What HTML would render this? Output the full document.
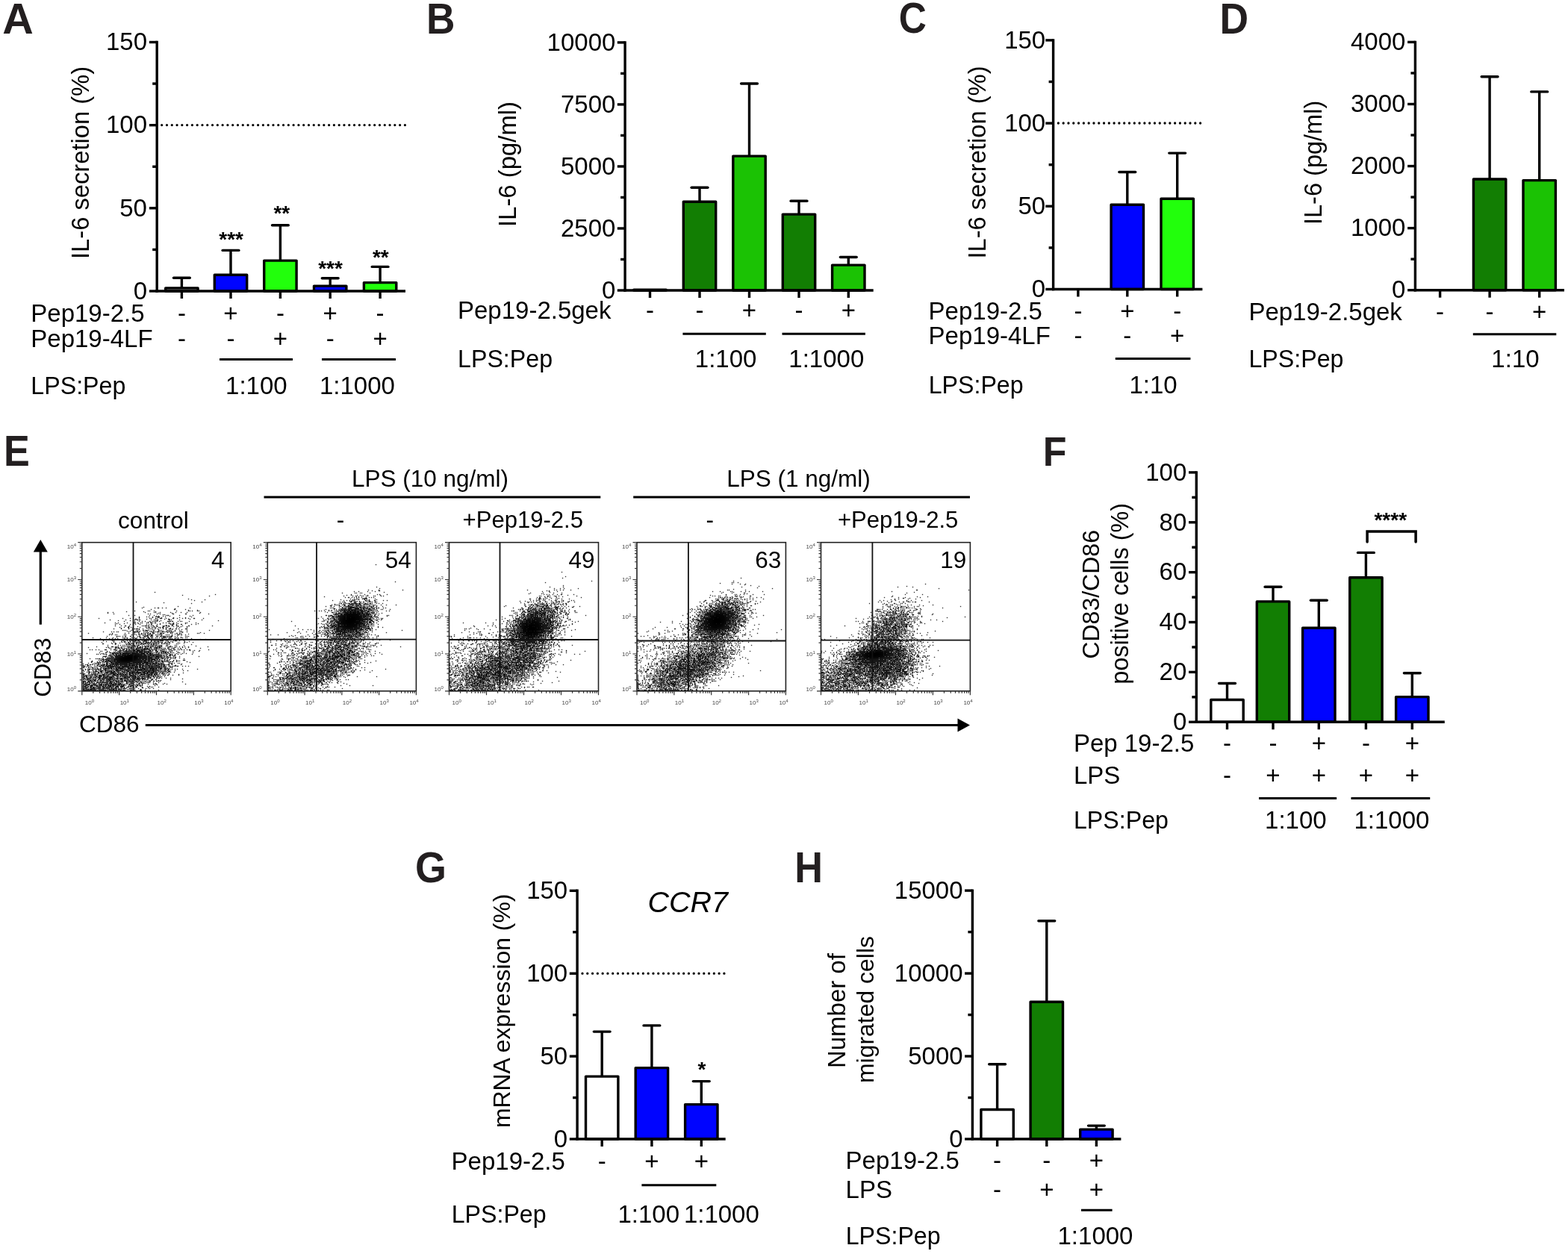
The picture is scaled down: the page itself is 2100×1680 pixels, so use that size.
<!DOCTYPE html>
<html><head><meta charset="utf-8"><title>Figure</title>
<style>html,body{margin:0;padding:0;background:#fff;}svg{display:block;}
.sc{fill:none;stroke:none;marker-start:url(#d);marker-mid:url(#d);marker-end:url(#d);}
text{font-family:"Liberation Sans",Arial,Helvetica,sans-serif;fill:#000;}</style></head>
<body><svg width="2100" height="1680" viewBox="0 0 2100 1680">
<defs><marker id="d" markerUnits="userSpaceOnUse" markerWidth="2" markerHeight="2" refX="0.15" refY="0.15" overflow="visible"><rect width="1.35" height="1.35" fill="#000" fill-opacity="0.8"/></marker></defs>
<rect width="2100" height="1680" fill="#fff"/>
<text transform="translate(3.37,44.60) scale(1.0176,1)" style="font-size:56.54px;font-weight:bold;fill:#231f20">A</text>
<text transform="translate(571.04,44.60) scale(0.9425,1)" style="font-size:56.54px;font-weight:bold;fill:#231f20">B</text>
<text transform="translate(1203.79,44.25) scale(0.9051,1)" style="font-size:56.78px;font-weight:bold;fill:#231f20">C</text>
<text transform="translate(1633.42,44.60) scale(0.9411,1)" style="font-size:56.83px;font-weight:bold;fill:#231f20">D</text>
<text transform="translate(5.11,623.60) scale(0.9213,1)" style="font-size:56.69px;font-weight:bold;fill:#231f20">E</text>
<text transform="translate(1396.72,623.60) scale(0.9227,1)" style="font-size:56.40px;font-weight:bold;fill:#231f20">F</text>
<text transform="translate(555.99,1182.34) scale(0.9361,1)" style="font-size:57.63px;font-weight:bold;fill:#231f20">G</text>
<text transform="translate(1064.21,1182.10) scale(0.9189,1)" style="font-size:56.83px;font-weight:bold;fill:#231f20">H</text>
<line x1="216.70" y1="167.60" x2="542.45" y2="167.60" stroke="#000" stroke-width="3.3" stroke-linecap="round" stroke-dasharray="0 6.7854"/>
<line x1="210.20" y1="54.80" x2="210.20" y2="391.70" stroke="#000" stroke-width="3.4" stroke-linecap="butt"/>
<line x1="199.90" y1="56.50" x2="210.20" y2="56.50" stroke="#000" stroke-width="3.4" stroke-linecap="butt"/>
<text x="141.93" y="67.26" style="font-size:33px">150</text>
<line x1="199.90" y1="167.67" x2="210.20" y2="167.67" stroke="#000" stroke-width="3.4" stroke-linecap="butt"/>
<text x="141.93" y="178.43" style="font-size:33px">100</text>
<line x1="199.90" y1="278.83" x2="210.20" y2="278.83" stroke="#000" stroke-width="3.4" stroke-linecap="butt"/>
<text x="160.28" y="289.59" style="font-size:33px">50</text>
<line x1="199.90" y1="390.00" x2="210.20" y2="390.00" stroke="#000" stroke-width="3.4" stroke-linecap="butt"/>
<text x="178.64" y="400.76" style="font-size:33px">0</text>
<line x1="204.20" y1="112.08" x2="210.20" y2="112.08" stroke="#000" stroke-width="3.4" stroke-linecap="butt"/>
<line x1="204.20" y1="223.25" x2="210.20" y2="223.25" stroke="#000" stroke-width="3.4" stroke-linecap="butt"/>
<line x1="204.20" y1="334.42" x2="210.20" y2="334.42" stroke="#000" stroke-width="3.4" stroke-linecap="butt"/>
<rect x="221.70" y="386.00" width="43.40" height="4.00" fill="#fff" stroke="#000" stroke-width="3.4" stroke-linejoin="round"/>
<rect x="287.30" y="368.30" width="43.40" height="21.70" fill="#0004ff" stroke="#000" stroke-width="3.4" stroke-linejoin="round"/>
<rect x="353.70" y="349.10" width="43.40" height="40.90" fill="#22ff0c" stroke="#000" stroke-width="3.4" stroke-linejoin="round"/>
<rect x="420.50" y="383.10" width="43.40" height="6.90" fill="#0004ff" stroke="#000" stroke-width="3.4" stroke-linejoin="round"/>
<rect x="487.40" y="378.60" width="43.40" height="11.40" fill="#22ff0c" stroke="#000" stroke-width="3.4" stroke-linejoin="round"/>
<line x1="243.40" y1="385.30" x2="243.40" y2="372.30" stroke="#000" stroke-width="3.4" stroke-linecap="butt"/>
<line x1="232.50" y1="372.30" x2="254.30" y2="372.30" stroke="#000" stroke-width="3.4" stroke-linecap="round"/>
<line x1="309.00" y1="367.60" x2="309.00" y2="335.40" stroke="#000" stroke-width="3.4" stroke-linecap="butt"/>
<line x1="298.10" y1="335.40" x2="319.90" y2="335.40" stroke="#000" stroke-width="3.4" stroke-linecap="round"/>
<line x1="375.40" y1="348.40" x2="375.40" y2="301.70" stroke="#000" stroke-width="3.4" stroke-linecap="butt"/>
<line x1="364.50" y1="301.70" x2="386.30" y2="301.70" stroke="#000" stroke-width="3.4" stroke-linecap="round"/>
<line x1="442.20" y1="382.40" x2="442.20" y2="372.80" stroke="#000" stroke-width="3.4" stroke-linecap="butt"/>
<line x1="431.30" y1="372.80" x2="453.10" y2="372.80" stroke="#000" stroke-width="3.4" stroke-linecap="round"/>
<line x1="509.10" y1="377.90" x2="509.10" y2="357.40" stroke="#000" stroke-width="3.4" stroke-linecap="butt"/>
<line x1="498.20" y1="357.40" x2="520.00" y2="357.40" stroke="#000" stroke-width="3.4" stroke-linecap="round"/>
<line x1="208.50" y1="390.00" x2="543.00" y2="390.00" stroke="#000" stroke-width="3.4" stroke-linecap="butt"/>
<line x1="243.40" y1="390.00" x2="243.40" y2="400.00" stroke="#000" stroke-width="3.4" stroke-linecap="butt"/>
<line x1="309.00" y1="390.00" x2="309.00" y2="400.00" stroke="#000" stroke-width="3.4" stroke-linecap="butt"/>
<line x1="375.40" y1="390.00" x2="375.40" y2="400.00" stroke="#000" stroke-width="3.4" stroke-linecap="butt"/>
<line x1="442.20" y1="390.00" x2="442.20" y2="400.00" stroke="#000" stroke-width="3.4" stroke-linecap="butt"/>
<line x1="509.10" y1="390.00" x2="509.10" y2="400.00" stroke="#000" stroke-width="3.4" stroke-linecap="butt"/>
<text x="293.33" y="329.75" style="font-size:28px;font-weight:bold">***</text>
<text x="366.48" y="295.45" style="font-size:28px;font-weight:bold">**</text>
<text x="426.23" y="369.15" style="font-size:28px;font-weight:bold">***</text>
<text x="498.98" y="353.75" style="font-size:28px;font-weight:bold">**</text>
<text transform="translate(119.10,347.02) rotate(-90)" style="font-size:32.71164962766629px">IL-6 secretion (%)</text>
<text x="41.29" y="430.90" style="font-size:33px">Pep19-2.5</text>
<text x="41.29" y="464.80" style="font-size:33px">Pep19-4LF</text>
<text x="237.91" y="430.90" style="font-size:33px">-</text>
<text x="299.37" y="430.90" style="font-size:33px">+</text>
<text x="369.91" y="430.90" style="font-size:33px">-</text>
<text x="432.57" y="430.90" style="font-size:33px">+</text>
<text x="503.61" y="430.90" style="font-size:33px">-</text>
<text x="237.91" y="464.80" style="font-size:33px">-</text>
<text x="303.51" y="464.80" style="font-size:33px">-</text>
<text x="365.77" y="464.80" style="font-size:33px">+</text>
<text x="436.71" y="464.80" style="font-size:33px">-</text>
<text x="499.47" y="464.80" style="font-size:33px">+</text>
<line x1="294.00" y1="481.50" x2="392.00" y2="481.50" stroke="#000" stroke-width="3" stroke-linecap="butt"/>
<line x1="431.00" y1="481.50" x2="530.00" y2="481.50" stroke="#000" stroke-width="3" stroke-linecap="butt"/>
<text transform="translate(41.36,528.00) scale(0.975,1)" style="font-size:33px">LPS:Pep</text>
<text x="302.10" y="528.00" style="font-size:33px">1:100</text>
<text x="427.92" y="528.00" style="font-size:33px">1:1000</text>
<line x1="837.10" y1="55.20" x2="837.10" y2="390.70" stroke="#000" stroke-width="3.4" stroke-linecap="butt"/>
<line x1="826.80" y1="56.90" x2="837.10" y2="56.90" stroke="#000" stroke-width="3.4" stroke-linecap="butt"/>
<text x="732.62" y="67.66" style="font-size:33px">10000</text>
<line x1="826.80" y1="139.93" x2="837.10" y2="139.93" stroke="#000" stroke-width="3.4" stroke-linecap="butt"/>
<text x="750.98" y="150.68" style="font-size:33px">7500</text>
<line x1="826.80" y1="222.95" x2="837.10" y2="222.95" stroke="#000" stroke-width="3.4" stroke-linecap="butt"/>
<text x="750.98" y="233.71" style="font-size:33px">5000</text>
<line x1="826.80" y1="305.98" x2="837.10" y2="305.98" stroke="#000" stroke-width="3.4" stroke-linecap="butt"/>
<text x="750.98" y="316.73" style="font-size:33px">2500</text>
<line x1="826.80" y1="389.00" x2="837.10" y2="389.00" stroke="#000" stroke-width="3.4" stroke-linecap="butt"/>
<text x="806.04" y="399.76" style="font-size:33px">0</text>
<line x1="831.10" y1="98.41" x2="837.10" y2="98.41" stroke="#000" stroke-width="3.4" stroke-linecap="butt"/>
<line x1="831.10" y1="181.44" x2="837.10" y2="181.44" stroke="#000" stroke-width="3.4" stroke-linecap="butt"/>
<line x1="831.10" y1="264.46" x2="837.10" y2="264.46" stroke="#000" stroke-width="3.4" stroke-linecap="butt"/>
<line x1="831.10" y1="347.49" x2="837.10" y2="347.49" stroke="#000" stroke-width="3.4" stroke-linecap="butt"/>
<rect x="848.80" y="388.20" width="43.40" height="0.80" fill="#fff" stroke="#000" stroke-width="3.4" stroke-linejoin="round"/>
<rect x="915.30" y="270.30" width="43.40" height="118.70" fill="#127e03" stroke="#000" stroke-width="3.4" stroke-linejoin="round"/>
<rect x="981.80" y="209.10" width="43.40" height="179.90" fill="#1bc204" stroke="#000" stroke-width="3.4" stroke-linejoin="round"/>
<rect x="1048.30" y="287.10" width="43.40" height="101.90" fill="#127e03" stroke="#000" stroke-width="3.4" stroke-linejoin="round"/>
<rect x="1114.60" y="355.10" width="43.40" height="33.90" fill="#1bc204" stroke="#000" stroke-width="3.4" stroke-linejoin="round"/>
<line x1="937.00" y1="269.60" x2="937.00" y2="251.30" stroke="#000" stroke-width="3.4" stroke-linecap="butt"/>
<line x1="926.10" y1="251.30" x2="947.90" y2="251.30" stroke="#000" stroke-width="3.4" stroke-linecap="round"/>
<line x1="1003.50" y1="208.40" x2="1003.50" y2="112.00" stroke="#000" stroke-width="3.4" stroke-linecap="butt"/>
<line x1="992.60" y1="112.00" x2="1014.40" y2="112.00" stroke="#000" stroke-width="3.4" stroke-linecap="round"/>
<line x1="1070.00" y1="286.40" x2="1070.00" y2="269.30" stroke="#000" stroke-width="3.4" stroke-linecap="butt"/>
<line x1="1059.10" y1="269.30" x2="1080.90" y2="269.30" stroke="#000" stroke-width="3.4" stroke-linecap="round"/>
<line x1="1136.30" y1="354.40" x2="1136.30" y2="344.50" stroke="#000" stroke-width="3.4" stroke-linecap="butt"/>
<line x1="1125.40" y1="344.50" x2="1147.20" y2="344.50" stroke="#000" stroke-width="3.4" stroke-linecap="round"/>
<line x1="835.40" y1="389.00" x2="1169.70" y2="389.00" stroke="#000" stroke-width="3.4" stroke-linecap="butt"/>
<line x1="870.50" y1="389.00" x2="870.50" y2="399.00" stroke="#000" stroke-width="3.4" stroke-linecap="butt"/>
<line x1="937.00" y1="389.00" x2="937.00" y2="399.00" stroke="#000" stroke-width="3.4" stroke-linecap="butt"/>
<line x1="1003.50" y1="389.00" x2="1003.50" y2="399.00" stroke="#000" stroke-width="3.4" stroke-linecap="butt"/>
<line x1="1070.00" y1="389.00" x2="1070.00" y2="399.00" stroke="#000" stroke-width="3.4" stroke-linecap="butt"/>
<line x1="1136.30" y1="389.00" x2="1136.30" y2="399.00" stroke="#000" stroke-width="3.4" stroke-linecap="butt"/>
<text transform="translate(690.70,304.04) rotate(-90)" style="font-size:32.89627732913138px">IL-6 (pg/ml)</text>
<text x="612.99" y="427.00" style="font-size:33px">Pep19-2.5gek</text>
<text x="865.01" y="427.00" style="font-size:33px">-</text>
<text x="931.51" y="427.00" style="font-size:33px">-</text>
<text x="993.87" y="427.00" style="font-size:33px">+</text>
<text x="1064.51" y="427.00" style="font-size:33px">-</text>
<text x="1126.67" y="427.00" style="font-size:33px">+</text>
<line x1="914.40" y1="447.20" x2="1025.80" y2="447.20" stroke="#000" stroke-width="3" stroke-linecap="butt"/>
<line x1="1047.50" y1="447.20" x2="1158.90" y2="447.20" stroke="#000" stroke-width="3" stroke-linecap="butt"/>
<text transform="translate(613.06,492.00) scale(0.975,1)" style="font-size:33px">LPS:Pep</text>
<text x="930.80" y="492.00" style="font-size:33px">1:100</text>
<text x="1056.32" y="492.00" style="font-size:33px">1:1000</text>
<line x1="1417.40" y1="165.00" x2="1607.65" y2="165.00" stroke="#000" stroke-width="3.3" stroke-linecap="round" stroke-dasharray="0 6.7929"/>
<line x1="1410.60" y1="52.20" x2="1410.60" y2="389.20" stroke="#000" stroke-width="3.4" stroke-linecap="butt"/>
<line x1="1400.30" y1="53.90" x2="1410.60" y2="53.90" stroke="#000" stroke-width="3.4" stroke-linecap="butt"/>
<text x="1345.13" y="64.66" style="font-size:33px">150</text>
<line x1="1400.30" y1="165.10" x2="1410.60" y2="165.10" stroke="#000" stroke-width="3.4" stroke-linecap="butt"/>
<text x="1345.13" y="175.86" style="font-size:33px">100</text>
<line x1="1400.30" y1="276.30" x2="1410.60" y2="276.30" stroke="#000" stroke-width="3.4" stroke-linecap="butt"/>
<text x="1363.48" y="287.06" style="font-size:33px">50</text>
<line x1="1400.30" y1="387.50" x2="1410.60" y2="387.50" stroke="#000" stroke-width="3.4" stroke-linecap="butt"/>
<text x="1381.84" y="398.26" style="font-size:33px">0</text>
<line x1="1404.60" y1="109.50" x2="1410.60" y2="109.50" stroke="#000" stroke-width="3.4" stroke-linecap="butt"/>
<line x1="1404.60" y1="220.70" x2="1410.60" y2="220.70" stroke="#000" stroke-width="3.4" stroke-linecap="butt"/>
<line x1="1404.60" y1="331.90" x2="1410.60" y2="331.90" stroke="#000" stroke-width="3.4" stroke-linecap="butt"/>
<rect x="1422.20" y="388.00" width="43.40" height="-0.50" fill="#fff" stroke="#000" stroke-width="3.4" stroke-linejoin="round"/>
<rect x="1488.10" y="274.30" width="43.40" height="113.20" fill="#0004ff" stroke="#000" stroke-width="3.4" stroke-linejoin="round"/>
<rect x="1555.00" y="266.20" width="43.40" height="121.30" fill="#22ff0c" stroke="#000" stroke-width="3.4" stroke-linejoin="round"/>
<line x1="1509.80" y1="273.60" x2="1509.80" y2="230.50" stroke="#000" stroke-width="3.4" stroke-linecap="butt"/>
<line x1="1498.90" y1="230.50" x2="1520.70" y2="230.50" stroke="#000" stroke-width="3.4" stroke-linecap="round"/>
<line x1="1576.70" y1="265.50" x2="1576.70" y2="205.10" stroke="#000" stroke-width="3.4" stroke-linecap="butt"/>
<line x1="1565.80" y1="205.10" x2="1587.60" y2="205.10" stroke="#000" stroke-width="3.4" stroke-linecap="round"/>
<line x1="1408.90" y1="387.50" x2="1610.40" y2="387.50" stroke="#000" stroke-width="3.4" stroke-linecap="butt"/>
<line x1="1443.90" y1="387.50" x2="1443.90" y2="397.50" stroke="#000" stroke-width="3.4" stroke-linecap="butt"/>
<line x1="1509.80" y1="387.50" x2="1509.80" y2="397.50" stroke="#000" stroke-width="3.4" stroke-linecap="butt"/>
<line x1="1576.70" y1="387.50" x2="1576.70" y2="397.50" stroke="#000" stroke-width="3.4" stroke-linecap="butt"/>
<text transform="translate(1319.60,346.62) rotate(-90)" style="font-size:32.72457402499053px">IL-6 secretion (%)</text>
<text x="1243.59" y="427.50" style="font-size:33px">Pep19-2.5</text>
<text x="1243.59" y="461.30" style="font-size:33px">Pep19-4LF</text>
<text x="1438.41" y="427.50" style="font-size:33px">-</text>
<text x="1500.17" y="427.50" style="font-size:33px">+</text>
<text x="1571.21" y="427.50" style="font-size:33px">-</text>
<text x="1438.41" y="461.30" style="font-size:33px">-</text>
<text x="1504.31" y="461.30" style="font-size:33px">-</text>
<text x="1567.07" y="461.30" style="font-size:33px">+</text>
<line x1="1493.80" y1="480.50" x2="1594.40" y2="480.50" stroke="#000" stroke-width="3" stroke-linecap="butt"/>
<text transform="translate(1243.66,527.20) scale(0.975,1)" style="font-size:33px">LPS:Pep</text>
<text x="1512.47" y="527.20" style="font-size:33px">1:10</text>
<line x1="1895.40" y1="54.70" x2="1895.40" y2="390.40" stroke="#000" stroke-width="3.4" stroke-linecap="butt"/>
<line x1="1885.10" y1="56.40" x2="1895.40" y2="56.40" stroke="#000" stroke-width="3.4" stroke-linecap="butt"/>
<text x="1808.98" y="67.16" style="font-size:33px">4000</text>
<line x1="1885.10" y1="139.47" x2="1895.40" y2="139.47" stroke="#000" stroke-width="3.4" stroke-linecap="butt"/>
<text x="1808.98" y="150.23" style="font-size:33px">3000</text>
<line x1="1885.10" y1="222.55" x2="1895.40" y2="222.55" stroke="#000" stroke-width="3.4" stroke-linecap="butt"/>
<text x="1808.98" y="233.31" style="font-size:33px">2000</text>
<line x1="1885.10" y1="305.62" x2="1895.40" y2="305.62" stroke="#000" stroke-width="3.4" stroke-linecap="butt"/>
<text x="1808.98" y="316.38" style="font-size:33px">1000</text>
<line x1="1885.10" y1="388.70" x2="1895.40" y2="388.70" stroke="#000" stroke-width="3.4" stroke-linecap="butt"/>
<text x="1864.04" y="399.46" style="font-size:33px">0</text>
<line x1="1889.40" y1="97.94" x2="1895.40" y2="97.94" stroke="#000" stroke-width="3.4" stroke-linecap="butt"/>
<line x1="1889.40" y1="181.01" x2="1895.40" y2="181.01" stroke="#000" stroke-width="3.4" stroke-linecap="butt"/>
<line x1="1889.40" y1="264.09" x2="1895.40" y2="264.09" stroke="#000" stroke-width="3.4" stroke-linecap="butt"/>
<line x1="1889.40" y1="347.16" x2="1895.40" y2="347.16" stroke="#000" stroke-width="3.4" stroke-linecap="butt"/>
<rect x="1973.40" y="240.00" width="43.40" height="148.70" fill="#127e03" stroke="#000" stroke-width="3.4" stroke-linejoin="round"/>
<rect x="2040.00" y="241.60" width="43.40" height="147.10" fill="#1bc204" stroke="#000" stroke-width="3.4" stroke-linejoin="round"/>
<line x1="1995.10" y1="239.30" x2="1995.10" y2="102.80" stroke="#000" stroke-width="3.4" stroke-linecap="butt"/>
<line x1="1984.20" y1="102.80" x2="2006.00" y2="102.80" stroke="#000" stroke-width="3.4" stroke-linecap="round"/>
<line x1="2061.70" y1="240.90" x2="2061.70" y2="122.90" stroke="#000" stroke-width="3.4" stroke-linecap="butt"/>
<line x1="2050.80" y1="122.90" x2="2072.60" y2="122.90" stroke="#000" stroke-width="3.4" stroke-linecap="round"/>
<line x1="1893.70" y1="388.70" x2="2095.00" y2="388.70" stroke="#000" stroke-width="3.4" stroke-linecap="butt"/>
<line x1="1928.60" y1="388.70" x2="1928.60" y2="398.70" stroke="#000" stroke-width="3.4" stroke-linecap="butt"/>
<line x1="1995.10" y1="388.70" x2="1995.10" y2="398.70" stroke="#000" stroke-width="3.4" stroke-linecap="butt"/>
<line x1="2061.70" y1="388.70" x2="2061.70" y2="398.70" stroke="#000" stroke-width="3.4" stroke-linecap="butt"/>
<text transform="translate(1770.10,301.00) rotate(-90)" style="font-size:32.533228284419934px">IL-6 (pg/ml)</text>
<text x="1672.39" y="428.70" style="font-size:33px">Pep19-2.5gek</text>
<text x="1923.11" y="428.70" style="font-size:33px">-</text>
<text x="1989.61" y="428.70" style="font-size:33px">-</text>
<text x="2052.07" y="428.70" style="font-size:33px">+</text>
<line x1="1972.80" y1="447.80" x2="2084.30" y2="447.80" stroke="#000" stroke-width="3" stroke-linecap="butt"/>
<text transform="translate(1672.46,492.10) scale(0.975,1)" style="font-size:33px">LPS:Pep</text>
<text x="1997.37" y="492.10" style="font-size:33px">1:10</text>
<line x1="1602.30" y1="631.20" x2="1602.30" y2="969.00" stroke="#000" stroke-width="3.4" stroke-linecap="butt"/>
<line x1="1592.00" y1="632.90" x2="1602.30" y2="632.90" stroke="#000" stroke-width="3.4" stroke-linecap="butt"/>
<text x="1534.23" y="643.66" style="font-size:33px">100</text>
<line x1="1592.00" y1="699.78" x2="1602.30" y2="699.78" stroke="#000" stroke-width="3.4" stroke-linecap="butt"/>
<text x="1552.58" y="710.54" style="font-size:33px">80</text>
<line x1="1592.00" y1="766.66" x2="1602.30" y2="766.66" stroke="#000" stroke-width="3.4" stroke-linecap="butt"/>
<text x="1552.58" y="777.42" style="font-size:33px">60</text>
<line x1="1592.00" y1="833.54" x2="1602.30" y2="833.54" stroke="#000" stroke-width="3.4" stroke-linecap="butt"/>
<text x="1552.58" y="844.30" style="font-size:33px">40</text>
<line x1="1592.00" y1="900.42" x2="1602.30" y2="900.42" stroke="#000" stroke-width="3.4" stroke-linecap="butt"/>
<text x="1552.58" y="911.18" style="font-size:33px">20</text>
<line x1="1592.00" y1="967.30" x2="1602.30" y2="967.30" stroke="#000" stroke-width="3.4" stroke-linecap="butt"/>
<text x="1570.94" y="978.06" style="font-size:33px">0</text>
<line x1="1596.30" y1="666.34" x2="1602.30" y2="666.34" stroke="#000" stroke-width="3.4" stroke-linecap="butt"/>
<line x1="1596.30" y1="733.22" x2="1602.30" y2="733.22" stroke="#000" stroke-width="3.4" stroke-linecap="butt"/>
<line x1="1596.30" y1="800.10" x2="1602.30" y2="800.10" stroke="#000" stroke-width="3.4" stroke-linecap="butt"/>
<line x1="1596.30" y1="866.98" x2="1602.30" y2="866.98" stroke="#000" stroke-width="3.4" stroke-linecap="butt"/>
<line x1="1596.30" y1="933.86" x2="1602.30" y2="933.86" stroke="#000" stroke-width="3.4" stroke-linecap="butt"/>
<rect x="1621.80" y="937.50" width="43.40" height="29.80" fill="#fff" stroke="#000" stroke-width="3.4" stroke-linejoin="round"/>
<rect x="1683.30" y="805.90" width="43.40" height="161.40" fill="#127e03" stroke="#000" stroke-width="3.4" stroke-linejoin="round"/>
<rect x="1744.60" y="841.30" width="43.40" height="126.00" fill="#0004ff" stroke="#000" stroke-width="3.4" stroke-linejoin="round"/>
<rect x="1807.70" y="773.80" width="43.40" height="193.50" fill="#127e03" stroke="#000" stroke-width="3.4" stroke-linejoin="round"/>
<rect x="1869.60" y="933.60" width="43.40" height="33.70" fill="#0004ff" stroke="#000" stroke-width="3.4" stroke-linejoin="round"/>
<line x1="1643.50" y1="936.80" x2="1643.50" y2="915.50" stroke="#000" stroke-width="3.4" stroke-linecap="butt"/>
<line x1="1632.60" y1="915.50" x2="1654.40" y2="915.50" stroke="#000" stroke-width="3.4" stroke-linecap="round"/>
<line x1="1705.00" y1="805.20" x2="1705.00" y2="786.20" stroke="#000" stroke-width="3.4" stroke-linecap="butt"/>
<line x1="1694.10" y1="786.20" x2="1715.90" y2="786.20" stroke="#000" stroke-width="3.4" stroke-linecap="round"/>
<line x1="1766.30" y1="840.60" x2="1766.30" y2="804.20" stroke="#000" stroke-width="3.4" stroke-linecap="butt"/>
<line x1="1755.40" y1="804.20" x2="1777.20" y2="804.20" stroke="#000" stroke-width="3.4" stroke-linecap="round"/>
<line x1="1829.40" y1="773.10" x2="1829.40" y2="740.40" stroke="#000" stroke-width="3.4" stroke-linecap="butt"/>
<line x1="1818.50" y1="740.40" x2="1840.30" y2="740.40" stroke="#000" stroke-width="3.4" stroke-linecap="round"/>
<line x1="1891.30" y1="932.90" x2="1891.30" y2="901.80" stroke="#000" stroke-width="3.4" stroke-linecap="butt"/>
<line x1="1880.40" y1="901.80" x2="1902.20" y2="901.80" stroke="#000" stroke-width="3.4" stroke-linecap="round"/>
<line x1="1600.60" y1="967.30" x2="1934.80" y2="967.30" stroke="#000" stroke-width="3.4" stroke-linecap="butt"/>
<line x1="1643.50" y1="967.30" x2="1643.50" y2="977.30" stroke="#000" stroke-width="3.4" stroke-linecap="butt"/>
<line x1="1705.00" y1="967.30" x2="1705.00" y2="977.30" stroke="#000" stroke-width="3.4" stroke-linecap="butt"/>
<line x1="1766.30" y1="967.30" x2="1766.30" y2="977.30" stroke="#000" stroke-width="3.4" stroke-linecap="butt"/>
<line x1="1829.40" y1="967.30" x2="1829.40" y2="977.30" stroke="#000" stroke-width="3.4" stroke-linecap="butt"/>
<line x1="1891.30" y1="967.30" x2="1891.30" y2="977.30" stroke="#000" stroke-width="3.4" stroke-linecap="butt"/>
<path d="M1831.1 726V712.1H1896.1V726" fill="none" stroke="#000" stroke-width="3.5" stroke-linecap="round"/>
<text x="1840.48" y="706.15" style="font-size:28px;font-weight:bold">****</text>
<text transform="translate(1471.80,882.63) rotate(-90)" style="font-size:32.02183092099199px">CD83/CD86</text>
<text transform="translate(1510.50,916.79) rotate(-90)" style="font-size:32.36395895398875px">positive cells (%)</text>
<text x="1437.89" y="1007.20" style="font-size:33px">Pep 19-2.5</text>
<text x="1437.89" y="1049.70" style="font-size:33px">LPS</text>
<text x="1638.01" y="1007.20" style="font-size:33px">-</text>
<text x="1699.51" y="1007.20" style="font-size:33px">-</text>
<text x="1756.67" y="1007.20" style="font-size:33px">+</text>
<text x="1823.91" y="1007.20" style="font-size:33px">-</text>
<text x="1881.67" y="1007.20" style="font-size:33px">+</text>
<text x="1638.01" y="1049.70" style="font-size:33px">-</text>
<text x="1695.37" y="1049.70" style="font-size:33px">+</text>
<text x="1756.67" y="1049.70" style="font-size:33px">+</text>
<text x="1819.77" y="1049.70" style="font-size:33px">+</text>
<text x="1881.67" y="1049.70" style="font-size:33px">+</text>
<line x1="1686.00" y1="1069.40" x2="1790.10" y2="1069.40" stroke="#000" stroke-width="3" stroke-linecap="butt"/>
<line x1="1809.50" y1="1069.40" x2="1915.20" y2="1069.40" stroke="#000" stroke-width="3" stroke-linecap="butt"/>
<text transform="translate(1437.96,1110.30) scale(0.975,1)" style="font-size:33px">LPS:Pep</text>
<text x="1694.10" y="1110.30" style="font-size:33px">1:100</text>
<text x="1813.42" y="1110.30" style="font-size:33px">1:1000</text>
<line x1="780.00" y1="1304.20" x2="969.95" y2="1304.20" stroke="#000" stroke-width="3.3" stroke-linecap="round" stroke-dasharray="0 6.7821"/>
<line x1="773.10" y1="1191.60" x2="773.10" y2="1527.70" stroke="#000" stroke-width="3.4" stroke-linecap="butt"/>
<line x1="762.80" y1="1193.30" x2="773.10" y2="1193.30" stroke="#000" stroke-width="3.4" stroke-linecap="butt"/>
<text x="705.13" y="1204.06" style="font-size:33px">150</text>
<line x1="762.80" y1="1304.20" x2="773.10" y2="1304.20" stroke="#000" stroke-width="3.4" stroke-linecap="butt"/>
<text x="705.13" y="1314.96" style="font-size:33px">100</text>
<line x1="762.80" y1="1415.10" x2="773.10" y2="1415.10" stroke="#000" stroke-width="3.4" stroke-linecap="butt"/>
<text x="723.48" y="1425.86" style="font-size:33px">50</text>
<line x1="762.80" y1="1526.00" x2="773.10" y2="1526.00" stroke="#000" stroke-width="3.4" stroke-linecap="butt"/>
<text x="741.84" y="1536.76" style="font-size:33px">0</text>
<line x1="767.10" y1="1248.75" x2="773.10" y2="1248.75" stroke="#000" stroke-width="3.4" stroke-linecap="butt"/>
<line x1="767.10" y1="1359.65" x2="773.10" y2="1359.65" stroke="#000" stroke-width="3.4" stroke-linecap="butt"/>
<line x1="767.10" y1="1470.55" x2="773.10" y2="1470.55" stroke="#000" stroke-width="3.4" stroke-linecap="butt"/>
<rect x="784.50" y="1442.10" width="43.40" height="83.90" fill="#fff" stroke="#000" stroke-width="3.4" stroke-linejoin="round"/>
<rect x="851.20" y="1430.60" width="43.40" height="95.40" fill="#0004ff" stroke="#000" stroke-width="3.4" stroke-linejoin="round"/>
<rect x="917.60" y="1479.60" width="43.40" height="46.40" fill="#0004ff" stroke="#000" stroke-width="3.4" stroke-linejoin="round"/>
<line x1="806.20" y1="1441.40" x2="806.20" y2="1382.10" stroke="#000" stroke-width="3.4" stroke-linecap="butt"/>
<line x1="795.30" y1="1382.10" x2="817.10" y2="1382.10" stroke="#000" stroke-width="3.4" stroke-linecap="round"/>
<line x1="872.90" y1="1429.90" x2="872.90" y2="1373.90" stroke="#000" stroke-width="3.4" stroke-linecap="butt"/>
<line x1="862.00" y1="1373.90" x2="883.80" y2="1373.90" stroke="#000" stroke-width="3.4" stroke-linecap="round"/>
<line x1="939.30" y1="1478.90" x2="939.30" y2="1448.60" stroke="#000" stroke-width="3.4" stroke-linecap="butt"/>
<line x1="928.40" y1="1448.60" x2="950.20" y2="1448.60" stroke="#000" stroke-width="3.4" stroke-linecap="round"/>
<line x1="771.40" y1="1526.00" x2="971.70" y2="1526.00" stroke="#000" stroke-width="3.4" stroke-linecap="butt"/>
<line x1="806.20" y1="1526.00" x2="806.20" y2="1536.00" stroke="#000" stroke-width="3.4" stroke-linecap="butt"/>
<line x1="872.90" y1="1526.00" x2="872.90" y2="1536.00" stroke="#000" stroke-width="3.4" stroke-linecap="butt"/>
<line x1="939.30" y1="1526.00" x2="939.30" y2="1536.00" stroke="#000" stroke-width="3.4" stroke-linecap="butt"/>
<text x="934.62" y="1441.75" style="font-size:28px;font-weight:bold">*</text>
<text x="867.54" y="1222.31" style="font-size:39.5px;font-style:italic">CCR7</text>
<text transform="translate(682.70,1511.12) rotate(-90)" style="font-size:31.886686005801735px">mRNA expression (%)</text>
<text x="604.59" y="1567.10" style="font-size:33px">Pep19-2.5</text>
<text x="800.71" y="1567.10" style="font-size:33px">-</text>
<text x="863.27" y="1567.10" style="font-size:33px">+</text>
<text x="929.67" y="1567.10" style="font-size:33px">+</text>
<line x1="859.40" y1="1587.80" x2="959.30" y2="1587.80" stroke="#000" stroke-width="3" stroke-linecap="butt"/>
<text transform="translate(604.66,1637.50) scale(0.975,1)" style="font-size:33px">LPS:Pep</text>
<text x="827.49" y="1637.50" style="font-size:33px">1:100</text>
<text x="915.89" y="1637.50" style="font-size:33px">1:1000</text>
<line x1="1302.40" y1="1191.40" x2="1302.40" y2="1527.70" stroke="#000" stroke-width="3.4" stroke-linecap="butt"/>
<line x1="1292.10" y1="1193.10" x2="1302.40" y2="1193.10" stroke="#000" stroke-width="3.4" stroke-linecap="butt"/>
<text x="1197.82" y="1203.86" style="font-size:33px">15000</text>
<line x1="1292.10" y1="1304.07" x2="1302.40" y2="1304.07" stroke="#000" stroke-width="3.4" stroke-linecap="butt"/>
<text x="1197.82" y="1314.83" style="font-size:33px">10000</text>
<line x1="1292.10" y1="1415.03" x2="1302.40" y2="1415.03" stroke="#000" stroke-width="3.4" stroke-linecap="butt"/>
<text x="1216.18" y="1425.79" style="font-size:33px">5000</text>
<line x1="1292.10" y1="1526.00" x2="1302.40" y2="1526.00" stroke="#000" stroke-width="3.4" stroke-linecap="butt"/>
<text x="1271.24" y="1536.76" style="font-size:33px">0</text>
<line x1="1296.40" y1="1248.58" x2="1302.40" y2="1248.58" stroke="#000" stroke-width="3.4" stroke-linecap="butt"/>
<line x1="1296.40" y1="1359.55" x2="1302.40" y2="1359.55" stroke="#000" stroke-width="3.4" stroke-linecap="butt"/>
<line x1="1296.40" y1="1470.52" x2="1302.40" y2="1470.52" stroke="#000" stroke-width="3.4" stroke-linecap="butt"/>
<rect x="1313.90" y="1486.50" width="43.40" height="39.50" fill="#fff" stroke="#000" stroke-width="3.4" stroke-linejoin="round"/>
<rect x="1380.10" y="1342.20" width="43.40" height="183.80" fill="#127e03" stroke="#000" stroke-width="3.4" stroke-linejoin="round"/>
<rect x="1446.70" y="1513.10" width="43.40" height="12.90" fill="#0004ff" stroke="#000" stroke-width="3.4" stroke-linejoin="round"/>
<line x1="1335.60" y1="1485.80" x2="1335.60" y2="1425.70" stroke="#000" stroke-width="3.4" stroke-linecap="butt"/>
<line x1="1324.70" y1="1425.70" x2="1346.50" y2="1425.70" stroke="#000" stroke-width="3.4" stroke-linecap="round"/>
<line x1="1401.80" y1="1341.50" x2="1401.80" y2="1233.80" stroke="#000" stroke-width="3.4" stroke-linecap="butt"/>
<line x1="1390.90" y1="1233.80" x2="1412.70" y2="1233.80" stroke="#000" stroke-width="3.4" stroke-linecap="round"/>
<line x1="1468.40" y1="1512.40" x2="1468.40" y2="1508.10" stroke="#000" stroke-width="3.4" stroke-linecap="butt"/>
<line x1="1457.50" y1="1508.10" x2="1479.30" y2="1508.10" stroke="#000" stroke-width="3.4" stroke-linecap="round"/>
<line x1="1300.70" y1="1526.00" x2="1501.40" y2="1526.00" stroke="#000" stroke-width="3.4" stroke-linecap="butt"/>
<line x1="1335.60" y1="1526.00" x2="1335.60" y2="1536.00" stroke="#000" stroke-width="3.4" stroke-linecap="butt"/>
<line x1="1401.80" y1="1526.00" x2="1401.80" y2="1536.00" stroke="#000" stroke-width="3.4" stroke-linecap="butt"/>
<line x1="1468.40" y1="1526.00" x2="1468.40" y2="1536.00" stroke="#000" stroke-width="3.4" stroke-linecap="butt"/>
<text transform="translate(1132.20,1431.11) rotate(-90)" style="font-size:32.999914857386145px">Number of</text>
<text transform="translate(1169.90,1451.02) rotate(-90)" style="font-size:31.94642627173216px">migrated cells</text>
<text x="1132.59" y="1565.50" style="font-size:33px">Pep19-2.5</text>
<text x="1132.59" y="1604.80" style="font-size:33px">LPS</text>
<text x="1330.11" y="1565.50" style="font-size:33px">-</text>
<text x="1396.31" y="1565.50" style="font-size:33px">-</text>
<text x="1458.77" y="1565.50" style="font-size:33px">+</text>
<text x="1330.11" y="1604.80" style="font-size:33px">-</text>
<text x="1392.17" y="1604.80" style="font-size:33px">+</text>
<text x="1458.77" y="1604.80" style="font-size:33px">+</text>
<line x1="1448.00" y1="1621.20" x2="1489.60" y2="1621.20" stroke="#000" stroke-width="3" stroke-linecap="butt"/>
<text transform="translate(1132.66,1667.00) scale(0.975,1)" style="font-size:33px">LPS:Pep</text>
<text x="1416.52" y="1667.00" style="font-size:33px">1:1000</text>
<text x="158.11" y="708.00" style="font-size:31.5px">control</text>
<text x="450.86" y="706.80" style="font-size:31.5px">-</text>
<text x="945.56" y="706.80" style="font-size:31.5px">-</text>
<text transform="translate(619.58,706.80) scale(0.986,1)" style="font-size:31.5px">+Pep19-2.5</text>
<text transform="translate(1121.98,706.80) scale(0.986,1)" style="font-size:31.5px">+Pep19-2.5</text>
<text x="470.92" y="652.00" style="font-size:31.5px">LPS (10 ng/ml)</text>
<text x="973.22" y="652.00" style="font-size:31.5px">LPS (1 ng/ml)</text>
<line x1="353.50" y1="666.00" x2="804.30" y2="666.00" stroke="#000" stroke-width="2.8" stroke-linecap="butt"/>
<line x1="848.20" y1="666.00" x2="1299.00" y2="666.00" stroke="#000" stroke-width="2.8" stroke-linecap="butt"/>
<line x1="54.30" y1="836.70" x2="54.30" y2="736.00" stroke="#000" stroke-width="3.2" stroke-linecap="butt"/>
<path d="M44.8 739.5L54.3 723L63.8 739.5Z" fill="#000"/>
<line x1="194.80" y1="971.50" x2="1285.00" y2="971.50" stroke="#000" stroke-width="3.2" stroke-linecap="butt"/>
<path d="M1282.5 962.5L1299 971.5L1282.5 980.5Z" fill="#000"/>
<text transform="translate(67.6,933.68) rotate(-90)" style="font-size:31.03px">CD83</text>
<text x="106.10" y="980.50" style="font-size:31.5px">CD86</text>
<defs><radialGradient id="cg"><stop offset="0" stop-color="#000" stop-opacity="0.95"/><stop offset="0.55" stop-color="#000" stop-opacity="0.7"/><stop offset="1" stop-color="#000" stop-opacity="0"/></radialGradient></defs>
<ellipse cx="172" cy="882" rx="19" ry="6.5" transform="rotate(-8 172 882)" fill="url(#cg)"/>
<ellipse cx="470" cy="831" rx="20" ry="15" transform="rotate(-25 470 831)" fill="url(#cg)"/>
<ellipse cx="712" cy="842" rx="18" ry="16" transform="rotate(-30 712 842)" fill="url(#cg)"/>
<ellipse cx="960" cy="832" rx="19" ry="15" transform="rotate(-25 960 832)" fill="url(#cg)"/>
<ellipse cx="1172" cy="877" rx="22" ry="7" transform="rotate(-5 1172 877)" fill="url(#cg)"/>
<path d="m207 793 81 3-44 1 36 1-28 4 4 1 18 0-14 1-78 2 88 0-51 1 37 1-18 4-46 1-2 1 17 0 4 0 1 0 5 0 5 0 32 0-20 1-32 1 31 0 1 0 14 0 4 1 12 0-84 1 18 0 2 0 6 0 30 0 16 0 2 0 3 0 7 0 2 0-97 1 23 0 16 0-64 1 7 0 43 0 12 0 2 0 6 0 14 0 7 0 7 0 8 0 18 0-124 1 68 0 18 0 37 0-115 1 46 0 3 0 9 0 4 0 17 0 1 0 16 0 1 0 30 0-61 1 2 0-48 1 8 0 20 0 6 0 16 0 2 0 1 0 15 0 18 0-49 1 3 0 6 0 9 0 27 0-68 1 10 0 3 0 5 0 4 0 2 0 1 0 1 0 1 0 8 0 35 0-70 1 18 0 8 0 4 0 16 0 8 0 8 0-116 1 32 0 10 0 12 0 14 0 2 0 6 0 2 0 4 0 1 0 1 0 6 0 9 0 1 0 5 0 7 0 4 0 4 0 7 0 1 0 12 0-91 1 1 0 14 0 12 0 12 0 5 0 1 0 28 0-107 1 21 0 12 0 3 0 1 0 2 0 1 0 15 0 4 0 4 0 1 0 15 0 1 0 2 0 11 0 30 0-112 1 16 0 34 0 2 0 5 0 77 0-126 1 14 0 6 0 4 0 4 0 6 0 4 0 2 0 2 0 2 0 3 0 11 0 1 0 1 0 1 0 1 0 2 0 1 0 7 0 3 0 2 0 10 0-55 1 3 0 1 0-62 1 14 0 4 0 12 0 9 0 1 0 1 0 3 0 4 0 2 0 6 0 2 0 4 0 2 0 3 0 1 0 10 0 4 0 4 0 6 0 4 0 12 0 2 0 12 0-106 1 10 0 19 0 17 0 12 0 12 0 2 0 3 0 1 0 6 0 10 0 17 0-111 1 6 0 14 0 4 0 3 0 6 0 9 0 3 0 3 0 1 0 7 0 4 0 14 0 2 0 2 0 4 0 6 0 1 0 13 0 6 0-40 1 8 0 1 0 5 0-82 1 8 0 5 0 1 0 5 0 17 0 2 0 2 0 1 0 1 0 2 0 1 0 3 0 2 0 1 0 4 0 1 0 8 0 2 0 2 0 1 0 2 0 1 0 4 0 6 0 2 0 6 0 8 0 1 0 31 0-112 1 12 0 22 0 4 0 8 0 1 0 7 0 6 0 6 0 4 0 8 0-90 1 6 0 5 0 1 0 3 0 12 0 8 0 3 0 1 0 1 0 3 0 3 0 2 0 4 0 2 0 3 0 1 0 4 0 2 0 12 0 4 0 10 0-88 1 10 0 5 0 19 0 8 0 4 0 6 0 4 0 4 0 6 0-76 1 10 0 10 0 6 0 2 0 2 0 1 0 1 0 2 0 5 0 7 0 2 0 2 0 5 0 4 0 7 0 4 0 4 0 1 0 1 0 3 0 4 0 1 0 3 0 9 0 1 0 1 0-73 1 9 0 18 0 8 0 10 0 8 0 13 0-79 1 2 0 2 0 8 0 6 0 2 0 7 0 1 0 2 0 1 0 1 0 2 0 7 0 1 0 6 0 2 0 2 0 8 0 2 0 2 0 6 0 6 0 10 0 30 0-110 1 4 0 10 0 3 0 9 0 1 0 3 0 2 0 10 0 6 0 5 0 3 0 3 0 5 0 8 0-104 1 11 0 3 0 4 0 2 0 14 0 7 0 1 0 1 0 1 0 1 0 1 0 2 0 6 0 2 0 8 0 2 0 1 0 1 0 2 0 2 0 1 0 1 0 2 0 2 0 1 0 1 0 2 0 2 0 2 0 2 0 2 0 2 0 2 0 8 0 2 0 2 0 6 0-70 1 5 0 11 0 2 0 6 0 20 0 4 0 2 0 14 0 24 0-150 1 32 0 17 0 5 0 6 0 8 0 3 0 3 0 2 0 3 0 1 0 2 0 1 0 3 0 1 0 1 0 5 0 3 0 1 0 1 0 2 0 1 0 9 0 2 0 6 0 1 0 3 0 2 0 22 0 2 0 7 0-126 1 3 0 30 0 5 0 4 0 1 0 4 0 7 0 13 0 2 0 18 0 6 0 12 0-106 1 3 0 5 0 2 0 10 0 2 0 8 0 2 0 4 0 4 0 1 0 5 0 2 0 3 0 1 0 1 0 1 0 2 0 1 0 1 0 4 0 2 0 2 0 2 0 2 0 6 0 2 0 2 0 4 0 7 0 1 0 1 0 3 0 1 0 5 0-57 1 3 0 2 0 1 0 5 0 1 0 13 0 14 0-87 1 13 0 2 0 2 0 4 0 3 0 1 0 6 0 1 0 9 0 2 0 1 0 6 0 1 0 2 0 2 0 3 0 1 0 1 0 1 0 5 0 1 0 1 0 3 0 1 0 1 0 2 0 1 0 1 0 2 0 2 0 2 0 2 0 1 0 1 0 4 0 3 0 11 0 2 0 2 0-96 1 22 0 9 0 5 0 2 0 3 0 1 0 20 0 2 0 1 0 3 0 3 0 2 0 13 0-118 1 18 0 9 0 13 0 2 0 2 0 2 0 6 0 4 0 3 0 4 0 1 0 2 0 2 0 6 0 1 0 3 0 1 0 1 0 4 0 2 0 3 0 3 0 2 0 1 0 1 0 2 0 4 0 2 0 6 0 2 0 2 0 4 0 2 0 4 0 2 0-116 1 12 0 4 0 4 0 3 0 9 0 4 0 4 0 4 0 3 0 1 0 10 0 4 0 3 0 1 0 17 0 9 0 2 0 2 0 4 0 4 0 18 0-108 1 10 0 10 0 4 0 3 0 5 0 2 0 6 0 2 0 2 0 1 0 1 0 3 0 1 0 2 0 2 0 1 0 1 0 1 0 1 0 1 0 1 0 2 0 2 0 4 0 1 0 1 0 2 0 1 0 1 0 2 0 12 0 4 0 4 0 24 0 7 0-125 1 18 0 8 0 5 0 24 0 1 0 6 0 10 0 16 0 2 0-102 1 12 0 2 0 11 0 2 0 5 0 3 0 2 0 2 0 1 0 2 0 1 0 1 0 2 0 1 0 1 0 4 0 2 0 1 0 1 0 1 0 1 0 2 0 4 0 1 0 3 0 2 0 2 0 2 0 2 0 1 0 1 0 1 0 1 0 4 0 2 0 8 0 2 0 1 0 1 0 4 0 6 0-104 1 10 0 10 0 4 0 1 0 7 0 6 0 7 0 5 0 2 0 2 0 6 0 4 0 1 0 4 0 1 0 13 0 3 0 2 0 17 0 6 0-117 1 16 0 11 0 3 0 2 0 3 0 1 0 2 0 6 0 2 0 1 0 1 0 1 0 1 0 1 0 1 0 3 0 1 0 3 0 1 0 2 0 1 0 2 0 1 0 2 0 4 0 1 0 1 0 2 0 2 0 2 0 1 0 4 0 1 0 2 0 2 0 5 0 7 0 9 0 3 0 8 0-109 1 5 0 6 0 12 0 4 0 6 0 7 0 5 0 2 0 1 0 1 0 2 0 5 0 1 0 1 0 5 0 4 0 4 0 6 0 1 0 13 0 6 0-109 1 1 0 12 0 4 0 1 0 13 0 2 0 2 0 1 0 1 0 2 0 2 0 1 0 3 0 1 0 2 0 1 0 2 0 1 0 1 0 1 0 1 0 1 0 1 0 1 0 3 0 2 0 2 0 1 0 2 0 3 0 1 0 1 0 2 0 4 0 2 0 2 0 2 0 1 0 1 0 12 0 2 0-84 1 15 0 3 0 2 0 14 0 4 0 6 0 4 0 3 0 1 0 20 0 30 0-112 1 14 0 3 0 3 0 2 0 4 0 2 0 2 0 2 0 2 0 1 0 1 0 2 0 2 0 1 0 1 0 4 0 6 0 2 0 2 0 2 0 2 0 1 0 2 0 1 0 1 0 1 0 2 0 2 0 2 0 7 0 1 0 10 0 2 0 10 0-78 1 8 0 2 0 2 0 4 0 9 0 1 0 4 0 4 0 2 0 9 0 2 0 1 0 6 0 6 0 34 0-133 1 15 0 5 0 1 0 1 0 3 0 2 0 2 0 4 0 2 0 2 0 4 0 1 0 1 0 1 0 1 0 2 0 2 0 2 0 1 0 2 0 1 0 3 0 1 0 2 0 1 0 3 0 1 0 1 0 1 0 1 0 1 0 2 0 1 0 2 0 1 0 2 0 1 0 2 0 1 0 1 0 1 0 1 0 2 0 8 0 2 0 1 0 1 0 2 0 4 0 2 0 4 0 4 0 3 0 5 0 26 0-160 1 24 0 3 0 9 0 1 0 1 0 2 0 4 0 10 0 3 0 1 0 2 0 6 0 2 0 1 0 1 0 2 0 4 0 7 0 1 0 5 0 2 0 1 0 3 0 1 0 11 0 9 0 10 0 8 0-106 1 2 0 6 0 4 0 1 0 1 0 2 0 1 0 3 0 2 0 2 0 2 0 2 0 1 0 1 0 4 0 2 0 1 0 1 0 1 0 1 0 2 0 2 0 3 0 1 0 1 0 1 0 1 0 1 0 2 0 2 0 4 0 2 0 1 0 1 0 2 0 1 0 2 0 1 0 2 0 2 0 1 0 3 0 2 0 3 0 2 0 1 0 1 0 5 0 3 0 7 0 20 0-114 1 2 0 8 0 2 0 3 0 3 0 4 0 2 0 4 0 1 0 3 0 2 0 2 0 1 0 1 0 1 0 1 0 2 0 1 0 1 0 2 0 3 0 3 0 2 0 2 0 15 0 17 0-122 1 3 0 5 0 4 0 8 0 1 0 1 0 6 0 4 0 1 0 1 0 6 0 1 0 3 0 1 0 1 0 3 0 1 0 2 0 1 0 1 0 2 0 2 0 1 0 1 0 1 0 1 0 1 0 1 0 1 0 1 0 2 0 1 0 1 0 2 0 1 0 1 0 1 0 1 0 2 0 1 0 1 0 2 0 2 0 2 0 2 0 1 0 3 0 2 0 2 0 1 0 1 0 1 0 1 0 2 0 4 0 1 0 1 0 1 0 3 0 1 0 1 0 4 0 2 0 3 0 3 0 4 0 3 0 1 0 25 0-124 1 1 0 4 0 2 0 2 0 4 0 1 0 3 0 2 0 2 0 2 0 1 0 1 0 3 0 1 0 1 0 1 0 1 0 2 0 1 0 1 0 2 0 7 0 1 0 3 0 4 0 1 0 6 0 15 0 24 0 6 0 7 0-133 1 2 0 7 0 11 0 4 0 1 0 1 0 1 0 1 0 2 0 1 0 1 0 1 0 1 0 1 0 1 0 1 0 1 0 1 0 1 0 1 0 1 0 2 0 1 0 1 0 1 0 1 0 1 0 1 0 1 0 1 0 1 0 1 0 1 0 1 0 1 0 1 0 1 0 1 0 1 0 1 0 1 0 1 0 1 0 1 0 1 0 1 0 2 0 4 0 1 0 1 0 1 0 3 0 2 0 1 0 1 0 1 0 1 0 2 0 4 0 2 0 2 0 6 0 10 0 12 0 8 0-123 1 3 0 6 0 5 0 3 0 7 0 2 0 1 0 2 0 2 0 2 0 2 0 2 0 2 0 1 0 1 0 2 0 1 0 1 0 1 0 1 0 3 0 1 0 2 0 2 0 1 0 3 0 8 0 6 0 2 0 1 0 2 0 1 0 2 0 4 0 10 0-105 1 8 0 1 0 5 0 1 0 2 0 2 0 1 0 1 0 1 0 1 0 2 0 1 0 1 0 1 0 1 0 1 0 1 0 1 0 1 0 1 0 1 0 1 0 1 0 1 0 1 0 1 0 1 0 1 0 1 0 1 0 1 0 1 0 1 0 1 0 1 0 1 0 1 0 2 0 1 0 1 0 1 0 1 0 1 0 1 0 1 0 1 0 1 0 1 0 1 0 1 0 1 0 1 0 1 0 1 0 2 0 2 0 2 0 1 0 1 0 2 0 1 0 2 0 1 0 2 0 2 0 1 0 1 0 2 0 1 0 3 0 2 0 2 0 6 0 2 0 6 0 12 0-142 1 20 0 2 0 12 0 1 0 1 0 2 0 2 0 1 0 1 0 2 0 1 0 3 0 1 0 1 0 1 0 1 0 1 0 1 0 1 0 1 0 1 0 1 0 2 0 1 0 1 0 1 0 1 0 1 0 1 0 1 0 1 0 1 0 1 0 2 0 1 0 1 0 1 0 1 0 1 0 3 0 1 0 3 0 1 0 1 0 2 0 8 0 4 0 2 0 2 0 2 0 4 0 10 0 8 0 5 0-120 1 2 0 3 0 4 0 2 0 2 0 5 0 2 0 1 0 1 0 1 0 2 0 1 0 1 0 2 0 2 0 1 0 1 0 1 0 1 0 1 0 1 0 1 0 1 0 1 0 1 0 1 0 1 0 2 0 1 0 1 0 1 0 1 0 1 0 1 0 1 0 1 0 1 0 1 0 1 0 1 0 1 0 1 0 1 0 1 0 1 0 1 0 1 0 1 0 2 0 1 0 1 0 1 0 1 0 1 0 1 0 1 0 1 0 2 0 2 0 1 0 1 0 1 0 1 0 1 0 2 0 3 0 4 0 1 0 1 0 3 0 1 0 2 0 4 0 4 0 4 0 15 0-115 1 5 0 5 0 3 0 1 0 2 0 1 0 1 0 1 0 2 0 1 0 1 0 1 0 1 0 1 0 2 0 1 0 1 0 1 0 1 0 1 0 1 0 1 0 1 0 2 0 1 0 1 0 1 0 1 0 1 0 1 0 1 0 1 0 1 0 1 0 2 0 1 0 1 0 1 0 3 0 2 0 1 0 1 0 2 0 1 0 1 0 1 0 1 0 2 0 2 0 2 0 2 0 4 0 7 0 1 0 2 0 4 0-89 1 1 0 1 0 1 0 1 0 1 0 2 0 1 0 1 0 1 0 1 0 1 0 1 0 1 0 1 0 1 0 1 0 1 0 1 0 1 0 1 0 1 0 1 0 1 0 1 0 1 0 1 0 1 0 1 0 1 0 1 0 1 0 1 0 1 0 1 0 1 0 1 0 1 0 1 0 1 0 1 0 1 0 1 0 1 0 1 0 1 0 1 0 1 0 1 0 1 0 1 0 1 0 1 0 1 0 1 0 1 0 1 0 1 0 1 0 1 0 1 0 2 0 1 0 1 0 1 0 1 0 1 0 1 0 1 0 1 0 2 0 1 0 3 0 1 0 3 0 1 0 1 0 3 0 2 0 1 0-96 1 1 0 1 0 1 0 1 0 6 0 2 0 4 0 1 0 1 0 1 0 1 0 1 0 1 0 1 0 1 0 1 0 1 0 2 0 1 0 1 0 1 0 1 0 1 0 1 0 1 0 1 0 1 0 1 0 1 0 1 0 1 0 1 0 1 0 1 0 1 0 1 0 1 0 1 0 1 0 1 0 1 0 1 0 1 0 1 0 1 0 1 0 1 0 1 0 2 0 1 0 1 0 2 0 2 0 2 0 2 0 1 0 1 0 1 0 1 0 2 0 2 0 4 0 4 0 8 0 8 0 26 0-129 1 4 0 3 0 2 0 2 0 1 0 1 0 1 0 1 0 2 0 1 0 1 0 1 0 1 0 1 0 1 0 1 0 1 0 1 0 1 0 1 0 1 0 1 0 1 0 1 0 1 0 1 0 1 0 1 0 1 0 1 0 1 0 1 0 1 0 1 0 1 0 1 0 1 0 1 0 1 0 1 0 1 0 1 0 1 0 1 0 1 0 1 0 1 0 1 0 1 0 1 0 1 0 1 0 1 0 1 0 1 0 1 0 1 0 1 0 1 0 1 0 1 0 1 0 1 0 1 0 1 0 1 0 1 0 1 0 1 0 1 0 1 0 1 0 2 0 1 0 2 0 1 0 1 0 1 0 2 0 1 0 6 0 1 0-91 1 2 0 2 0 2 0 2 0 2 0 1 0 1 0 1 0 1 0 1 0 1 0 1 0 1 0 1 0 1 0 1 0 1 0 1 0 1 0 1 0 1 0 1 0 1 0 1 0 1 0 1 0 1 0 1 0 1 0 1 0 1 0 1 0 1 0 1 0 1 0 2 0 1 0 1 0 1 0 1 0 1 0 1 0 1 0 1 0 1 0 1 0 2 0 1 0 1 0 1 0 1 0 1 0 5 0 1 0 2 0 1 0 4 0 2 0 7 0 4 0 2 0 1 0 2 0 6 0-120 1 8 0 2 0 2 0 1 0 2 0 2 0 1 0 4 0 1 0 1 0 1 0 1 0 1 0 1 0 1 0 1 0 1 0 1 0 1 0 1 0 1 0 1 0 1 0 1 0 1 0 1 0 1 0 1 0 1 0 1 0 1 0 1 0 1 0 1 0 1 0 1 0 1 0 1 0 1 0 1 0 1 0 1 0 1 0 1 0 1 0 1 0 1 0 1 0 1 0 1 0 1 0 1 0 1 0 1 0 1 0 1 0 1 0 1 0 1 0 1 0 1 0 1 0 1 0 1 0 1 0 1 0 1 0 1 0 1 0 1 0 1 0 1 0 1 0 1 0 1 0 1 0 1 0 1 0 2 0 2 0 1 0 1 0 2 0 1 0 2 0 1 0 4 0 6 0 12 0-109 1 1 0 2 0 1 0 1 0 2 0 2 0 2 0 2 0 2 0 1 0 1 0 1 0 1 0 1 0 1 0 1 0 1 0 1 0 1 0 1 0 1 0 1 0 1 0 1 0 1 0 1 0 1 0 1 0 1 0 1 0 1 0 1 0 1 0 1 0 1 0 1 0 1 0 1 0 1 0 1 0 1 0 1 0 1 0 1 0 1 0 2 0 1 0 1 0 2 0 1 0 1 0 2 0 1 0 1 0 2 0 1 0 1 0 1 0 1 0 1 0 3 0 3 0 7 0 7 0-95 1 2 0 1 0 1 0 2 0 1 0 3 0 1 0 1 0 1 0 1 0 2 0 1 0 1 0 1 0 1 0 1 0 1 0 1 0 1 0 1 0 1 0 1 0 1 0 1 0 1 0 1 0 1 0 1 0 1 0 1 0 1 0 1 0 1 0 1 0 1 0 1 0 1 0 1 0 1 0 1 0 1 0 1 0 1 0 1 0 1 0 1 0 1 0 1 0 1 0 1 0 1 0 1 0 1 0 1 0 1 0 1 0 1 0 1 0 1 0 1 0 1 0 1 0 1 0 1 0 1 0 1 0 1 0 2 0 1 0 1 0 1 0 1 0 1 0 2 0 1 0 2 0 4 0 3 0 1 0 2 0 6 0 4 0 9 0 1 0 1 0-124 1 15 0 3 0 1 0 2 0 1 0 1 0 1 0 1 0 2 0 2 0 1 0 1 0 2 0 1 0 1 0 1 0 1 0 1 0 1 0 1 0 1 0 1 0 1 0 1 0 1 0 1 0 1 0 1 0 1 0 1 0 1 0 1 0 1 0 1 0 1 0 1 0 1 0 1 0 1 0 1 0 1 0 1 0 1 0 1 0 1 0 1 0 1 0 2 0 1 0 1 0 1 0 3 0 1 0 1 0 2 0 1 0 3 0 2 0 4 0 4 0 1 0 1 0 2 0 2 0 2 0 8 0 4 0 2 0 2 0-118 1 1 0 7 0 3 0 3 0 1 0 1 0 2 0 1 0 1 0 1 0 1 0 2 0 1 0 1 0 1 0 1 0 1 0 1 0 1 0 1 0 1 0 1 0 1 0 1 0 1 0 1 0 1 0 1 0 1 0 1 0 1 0 1 0 1 0 1 0 1 0 1 0 1 0 1 0 1 0 1 0 1 0 1 0 1 0 1 0 1 0 1 0 1 0 1 0 1 0 1 0 1 0 1 0 1 0 1 0 1 0 1 0 1 0 1 0 1 0 1 0 1 0 1 0 1 0 1 0 1 0 1 0 1 0 1 0 1 0 1 0 1 0 1 0 2 0 1 0 1 0 1 0 1 0 1 0 1 0 2 0 1 0 1 0 2 0 2 0 2 0 1 0 2 0 1 0 2 0 1 0 5 0 14 0-128 1 8 0 2 0 2 0 5 0 3 0 2 0 4 0 1 0 1 0 2 0 2 0 1 0 1 0 1 0 1 0 1 0 1 0 1 0 1 0 1 0 1 0 1 0 1 0 1 0 1 0 1 0 1 0 1 0 1 0 1 0 1 0 2 0 2 0 1 0 1 0 1 0 1 0 1 0 1 0 1 0 1 0 1 0 1 0 1 0 1 0 2 0 1 0 1 0 1 0 1 0 1 0 1 0 2 0 2 0 2 0 4 0 1 0 9 0 8 0 28 0-136 1 8 0 2 0 2 0 1 0 1 0 2 0 3 0 5 0 1 0 1 0 2 0 2 0 1 0 1 0 1 0 1 0 1 0 1 0 1 0 1 0 1 0 1 0 1 0 1 0 1 0 1 0 1 0 1 0 1 0 1 0 1 0 1 0 1 0 1 0 1 0 1 0 1 0 1 0 1 0 1 0 1 0 1 0 1 0 1 0 1 0 1 0 1 0 1 0 1 0 1 0 1 0 1 0 2 0 1 0 1 0 1 0 1 0 1 0 1 0 1 0 1 0 1 0 1 0 1 0 1 0 1 0 1 0 1 0 1 0 1 0 1 0 1 0 1 0 1 0 1 0 2 0 1 0 1 0 1 0 1 0 8 0 2 0 2 0 3 0 5 0 2 0-129 1 13 0 4 0 4 0 7 0 3 0 1 0 3 0 2 0 2 0 1 0 1 0 2 0 1 0 1 0 1 0 1 0 2 0 1 0 1 0 1 0 1 0 1 0 1 0 1 0 1 0 1 0 1 0 2 0 1 0 1 0 1 0 1 0 2 0 2 0 2 0 1 0 1 0 2 0 1 0 1 0 2 0 1 0 1 0 3 0 1 0 1 0 1 0 2 0 1 0 3 0 1 0 1 0 2 0 1 0 3 0 1 0 3 0 3 0 7 0 3 0 1 0 13 0-129 1 2 0 1 0 3 0 1 0 2 0 3 0 4 0 1 0 1 0 2 0 2 0 1 0 1 0 1 0 1 0 2 0 1 0 1 0 3 0 1 0 1 0 1 0 1 0 1 0 1 0 1 0 1 0 1 0 1 0 1 0 1 0 1 0 1 0 1 0 1 0 1 0 1 0 1 0 1 0 1 0 1 0 1 0 1 0 1 0 1 0 1 0 2 0 1 0 1 0 1 0 1 0 1 0 1 0 1 0 1 0 1 0 1 0 1 0 1 0 1 0 1 0 2 0 2 0 1 0 1 0 1 0 1 0 2 0 1 0 1 0 1 0 1 0 2 0 1 0 1 0 2 0 1 0 1 0 1 0 1 0 1 0 1 0 1 0 1 0 1 0 1 0 2 0 2 0 1 0 1 0 4 0 12 0-131 1 6 0 1 0 12 0 5 0 1 0 2 0 1 0 3 0 1 0 2 0 1 0 1 0 1 0 2 0 3 0 2 0 1 0 2 0 3 0 1 0 2 0 2 0 1 0 1 0 1 0 1 0 2 0 1 0 1 0 1 0 1 0 1 0 1 0 1 0 1 0 2 0 1 0 3 0 1 0 1 0 2 0 1 0 1 0 2 0 2 0 2 0 1 0 1 0 2 0 2 0 2 0 2 0 1 0 1 0 2 0 4 0 3 0 1 0 6 0 8 0 1 0-124 1 1 0 1 0 4 0 3 0 6 0 2 0 2 0 2 0 1 0 1 0 2 0 1 0 1 0 2 0 1 0 1 0 1 0 1 0 1 0 1 0 1 0 1 0 1 0 1 0 1 0 1 0 1 0 1 0 1 0 1 0 1 0 1 0 2 0 1 0 1 0 1 0 1 0 1 0 1 0 1 0 1 0 1 0 1 0 1 0 1 0 1 0 1 0 2 0 1 0 1 0 2 0 1 0 1 0 1 0 1 0 2 0 1 0 1 0 2 0 1 0 1 0 1 0 1 0 1 0 1 0 1 0 1 0 1 0 1 0 1 0 1 0 1 0 1 0 1 0 1 0 1 0 1 0 1 0 1 0 1 0 1 0 1 0 1 0 1 0 1 0 2 0 1 0 1 0 2 0 4 0 2 0 3 0 2 0 2 0 2 0 1 0 6 0 4 0 4 0-140 1 3 0 3 0 4 0 12 0 4 0 2 0 3 0 1 0 1 0 2 0 1 0 1 0 1 0 1 0 1 0 2 0 2 0 2 0 1 0 1 0 3 0 1 0 1 0 1 0 1 0 1 0 1 0 1 0 1 0 1 0 2 0 1 0 1 0 4 0 1 0 1 0 1 0 1 0 2 0 1 0 1 0 2 0 1 0 3 0 2 0 3 0 1 0 2 0 1 0 1 0 2 0 2 0 2 0 2 0 1 0 3 0 2 0 2 0 1 0 5 0 2 0 2 0-119 1 1 0 6 0 2 0 3 0 1 0 2 0 2 0 2 0 5 0 1 0 2 0 2 0 2 0 2 0 1 0 1 0 1 0 1 0 1 0 1 0 2 0 2 0 1 0 1 0 1 0 1 0 1 0 1 0 1 0 1 0 1 0 1 0 1 0 1 0 2 0 2 0 1 0 1 0 1 0 1 0 1 0 1 0 1 0 1 0 2 0 1 0 1 0 1 0 1 0 2 0 1 0 1 0 1 0 1 0 1 0 1 0 2 0 1 0 1 0 1 0 1 0 1 0 1 0 1 0 1 0 1 0 1 0 1 0 1 0 1 0 1 0 1 0 1 0 1 0 1 0 1 0 1 0 1 0 1 0 2 0 2 0 1 0 2 0 5 0 2 0-106 1 6 0 4 0 4 0 2 0 1 0 1 0 2 0 2 0 2 0 1 0 3 0 3 0 1 0 2 0 1 0 1 0 1 0 1 0 1 0 1 0 2 0 2 0 3 0 1 0 1 0 2 0 1 0 2 0 1 0 2 0 1 0 2 0 4 0 2 0 1 0 1 0 1 0 1 0 2 0 2 0 2 0 1 0 1 0 1 0 1 0 1 0 1 0 2 0 1 0 3 0 2 0 1 0 1 0 4 0 1 0 2 0 1 0 2 0-112 1 3 0 1 0 1 0 1 0 2 0 2 0 2 0 1 0 1 0 2 0 1 0 1 0 2 0 1 0 3 0 1 0 1 0 1 0 1 0 1 0 1 0 1 0 1 0 2 0 1 0 1 0 1 0 1 0 1 0 1 0 1 0 1 0 1 0 1 0 2 0 1 0 1 0 1 0 1 0 1 0 1 0 1 0 1 0 2 0 1 0 1 0 1 0 1 0 1 0 1 0 2 0 2 0 1 0 1 0 1 0 1 0 1 0 1 0 1 0 1 0 1 0 1 0 1 0 1 0 1 0 1 0 1 0 1 0 1 0 1 0 2 0 1 0 1 0 1 0 1 0 1 0 1 0 1 0 1 0 1 0 1 0 2 0 2 0 1 0 1 0 2 0 2 0 1 0 1 0 3 0 1 0 4 0 4 0 3 0 7 0 20 0-153 1 3 0 5 0 5 0 5 0 3 0 2 0 6 0 1 0 14 0 1 0 1 0 1 0 2 0 2 0 2 0 2 0 2 0 1 0 1 0 2 0 2 0 6 0 1 0 1 0 2 0 1 0 1 0 1 0 1 0 1 0 1 0 2 0 1 0 1 0 2 0 2 0 2 0 1 0 2 0 1 0 1 0 1 0 2 0 2 0 2 0 2 0 6 0 2 0 2 0 1 0 3 0-117 1 6 0 1 0 6 0 3 0 1 0 4 0 2 0 1 0 1 0 1 0 1 0 2 0 1 0 1 0 1 0 1 0 1 0 1 0 1 0 1 0 1 0 1 0 1 0 1 0 2 0 1 0 1 0 1 0 1 0 1 0 1 0 1 0 1 0 2 0 2 0 1 0 1 0 1 0 1 0 1 0 1 0 1 0 1 0 1 0 1 0 2 0 2 0 1 0 1 0 1 0 1 0 1 0 1 0 1 0 1 0 1 0 1 0 1 0 1 0 2 0 1 0 1 0 1 0 1 0 1 0 1 0 1 0 1 0 1 0 1 0 1 0 1 0 1 0 1 0 1 0 1 0 1 0 1 0 2 0 2 0 2 0 2 0 1 0 3 0 2 0 8 0 11 0 6 0-139 1 7 0 6 0 3 0 1 0 1 0 4 0 1 0 1 0 5 0 3 0 2 0 2 0 1 0 3 0 1 0 3 0 2 0 5 0 1 0 2 0 4 0 1 0 1 0 3 0 2 0 1 0 2 0 3 0 1 0 6 0 2 0 1 0 1 0 1 0 1 0 2 0 1 0 1 0 2 0 2 0 1 0 1 0 2 0 4 0 2 0 2 0 2 0 2 0 2 0 3 0 1 0 1 0-111 1 2 0 1 0 1 0 2 0 2 0 2 0 1 0 1 0 3 0 1 0 2 0 1 0 1 0 2 0 2 0 2 0 1 0 1 0 1 0 1 0 1 0 1 0 1 0 1 0 1 0 1 0 1 0 1 0 2 0 1 0 1 0 1 0 1 0 2 0 2 0 1 0 1 0 1 0 1 0 1 0 1 0 2 0 1 0 1 0 1 0 1 0 1 0 1 0 1 0 1 0 1 0 1 0 1 0 1 0 1 0 1 0 1 0 1 0 1 0 1 0 1 0 1 0 1 0 1 0 2 0 1 0 1 0 1 0 1 0 1 0 1 0 1 0 1 0 1 0 1 0 1 0 1 0 1 0 1 0 2 0 2 0 2 0 2 0 2 0 2 0 2 0 2 0 2 0 5 0-122 1 8 0 6 0 6 0 1 0 4 0 5 0 1 0 1 0 1 0 4 0 1 0 1 0 1 0 1 0 2 0 4 0 3 0 3 0 2 0 4 0 3 0 1 0 2 0 1 0 1 0 2 0 2 0 1 0 1 0 1 0 1 0 1 0 1 0 3 0 1 0 1 0 1 0 2 0 1 0 1 0 2 0 2 0 1 0 1 0 1 0 3 0 2 0 4 0 3 0 1 0 6 0 21 0-134 1 2 0 5 0 1 0 3 0 2 0 2 0 1 0 1 0 2 0 2 0 2 0 2 0 3 0 1 0 2 0 2 0 2 0 1 0 1 0 1 0 1 0 1 0 1 0 1 0 1 0 1 0 1 0 2 0 1 0 1 0 1 0 1 0 1 0 1 0 2 0 2 0 1 0 1 0 2 0 1 0 1 0 1 0 1 0 1 0 1 0 2 0 1 0 1 0 2 0 1 0 1 0 2 0 1 0 1 0 2 0 1 0 1 0 1 0 1 0 1 0 1 0 2 0 1 0 1 0 1 0 1 0 2 0 1 0 1 0 1 0 1 0 3 0 3 0 1 0 2 0 1 0 2 0 4 0-115 1 1 0 10 0 2 0 2 0 2 0 2 0 7 0 1 0 1 0 3 0 2 0 2 0 2 0 3 0 1 0 1 0 1 0 2 0 1 0 1 0 2 0 1 0 1 0 2 0 1 0 2 0 1 0 2 0 3 0 1 0 4 0 3 0 1 0 2 0 4 0 1 0 1 0 1 0 1 0 1 0 3 0 2 0 1 0 1 0 2 0 1 0 3 0 1 0 2 0 1 0 2 0 6 0 8 0 13 0-128 1 1 0 2 0 2 0 2 0 1 0 1 0 1 0 2 0 1 0 2 0 1 0 1 0 2 0 2 0 1 0 1 0 1 0 1 0 1 0 1 0 1 0 1 0 1 0 1 0 2 0 1 0 1 0 2 0 2 0 1 0 1 0 1 0 1 0 2 0 1 0 1 0 2 0 2 0 1 0 1 0 1 0 1 0 1 0 1 0 1 0 1 0 2 0 1 0 1 0 1 0 1 0 1 0 1 0 1 0 1 0 2 0 2 0 2 0 1 0 1 0 1 0 1 0 2 0 1 0 1 0 2 0 1 0 1 0 1 0 1 0 1 0 1 0 1 0 1 0 2 0 1 0 1 0 2 0 4 0 4 0 2 0 1 0 3 0 1 0 6 0 8 0-127 1 2 0 1 0 1 0 6 0 5 0 2 0 3 0 1 0 1 0 1 0 3 0 1 0 4 0 1 0 6 0 2 0 2 0 1 0 1 0 2 0 3 0 1 0 2 0 2 0 2 0 2 0 4 0 1 0 1 0 4 0 1 0 3 0 3 0 4 0 3 0 2 0 2 0 1 0 3 0 3 0 3 0 3 0 1 0-101 1 1 0 1 0 2 0 1 0 2 0 2 0 1 0 1 0 2 0 2 0 2 0 1 0 1 0 2 0 1 0 1 0 1 0 1 0 2 0 1 0 1 0 1 0 1 0 1 0 1 0 1 0 1 0 1 0 1 0 1 0 1 0 1 0 1 0 4 0 1 0 1 0 2 0 1 0 2 0 1 0 1 0 1 0 1 0 1 0 1 0 1 0 1 0 1 0 1 0 1 0 2 0 1 0 1 0 1 0 1 0 1 0 1 0 2 0 1 0 1 0 2 0 1 0 1 0 1 0 1 0 1 0 1 0 2 0 1 0 1 0 1 0 1 0 2 0 2 0 1 0 1 0 2 0 2 0 2 0 2 0 2 0 4 0-109 1 4 0 1 0 4 0 2 0 3 0 2 0 1 0 3 0 1 0 1 0 1 0 4 0 1 0 2 0 1 0 2 0 2 0 1 0 1 0 1 0 1 0 2 0 5 0 9 0 1 0 1 0 2 0 2 0 1 0 3 0 2 0 2 0 1 0 1 0 2 0 2 0 4 0 4 0 2 0 2 0 1 0 2 0 5 0 4 0 4 0-103 1 1 0 1 0 3 0 1 0 1 0 2 0 1 0 1 0 2 0 2 0 2 0 2 0 2 0 1 0 1 0 2 0 1 0 1 0 1 0 1 0 1 0 1 0 1 0 1 0 2 0 1 0 1 0 1 0 1 0 2 0 1 0 1 0 1 0 1 0 1 0 1 0 1 0 1 0 1 0 1 0 1 0 1 0 1 0 1 0 1 0 1 0 1 0 1 0 1 0 1 0 2 0 2 0 2 0 1 0 1 0 1 0 2 0 1 0 1 0 1 0 1 0 2 0 1 0 1 0 1 0 1 0 1 0 3 0 1 0 2 0 1 0 1 0 4 0 3 0 1 0 2 0 1 0 3 0 6 0 6 0-116 1 2 0 2 0 2 0 1 0 1 0 4 0 4 0 4 0 1 0 1 0 2 0 2 0 2 0 2 0 2 0 1 0 1 0 1 0 1 0 2 0 1 0 5 0 1 0 4 0 1 0 1 0 3 0 2 0 2 0 4 0 3 0 1 0 2 0 1 0 2 0 1 0 1 0 1 0 2 0 2 0 1 0 1 0 2 0 4 0 6 0 40 0-133 1 1 0 2 0 2 0 1 0 1 0 2 0 2 0 2 0 1 0 1 0 1 0 1 0 3 0 1 0 2 0 2 0 1 0 1 0 1 0 3 0 1 0 1 0 1 0 1 0 1 0 1 0 1 0 1 0 2 0 1 0 1 0 2 0 2 0 2 0 1 0 1 0 1 0 1 0 2 0 2 0 2 0 1 0 1 0 2 0 1 0 1 0 3 0 1 0 2 0 1 0 1 0 1 0 1 0 1 0 3 0 1 0 2 0 1 0 2 0 1 0 5 0 1 0 1 0 4 0 1 0 19 0-112 1 2 0 2 0 1 0 2 0 3 0 1 0 3 0 4 0 1 0 3 0 2 0 2 0 2 0 2 0 1 0 4 0 1 0 2 0 2 0 2 0 5 0 3 0 1 0 1 0 2 0 2 0 2 0 2 0 4 0 6 0 13 0 3 0 10 0 3 0-104 1 1 0 1 0 1 0 4 0 1 0 1 0 1 0 1 0 2 0 1 0 1 0 1 0 1 0 2 0 2 0 2 0 1 0 1 0 2 0 4 0 1 0 1 0 1 0 1 0 1 0 1 0 1 0 1 0 2 0 2 0 1 0 1 0 2 0 1 0 1 0 1 0 1 0 1 0 1 0 2 0 1 0 1 0 1 0 1 0 2 0 1 0 1 0 2 0 1 0 1 0 2 0 1 0 1 0 1 0 1 0 1 0 1 0 2 0 2 0 2 0 2 0 2 0 4 0 1 0 4 0 1 0 3 0 1 0 2 0 2 0-103 1 1 0 2 0 3 0 1 0 1 0 3 0 1 0 7 0 4 0 3 0 1 0 2 0 2 0 2 0 3 0 1 0 2 0 2 0 3 0 1 0 1 0 1 0 4 0 2 0 5 0 1 0 2 0 2 0 1 0 1 0 2 0 4 0 6 0 6 0 4 0 2 0 44 0-133 1 1 0 2 0 2 0 1 0 2 0 1 0 2 0 2 0 2 0 3 0 1 0 1 0 1 0 1 0 1 0 1 0 1 0 1 0 1 0 1 0 1 0 1 0 1 0 1 0 1 0 2 0 1 0 1 0 1 0 1 0 2 0 1 0 3 0 2 0 1 0 1 0 2 0 2 0 5 0 1 0 2 0 2 0 2 0 2 0 2 0 3 0 1 0 2 0 2 0 1 0 1 0 2 0 4 0 2 0 2 0 5 0 7 0-101 1 3 0 1 0 5 0 2 0 2 0 2 0 3 0 3 0 4 0 6 0 2 0 2 0 1 0 1 0 1 0 3 0 2 0 1 0 3 0 2 0 1 0 8 0 1 0 5 0 1 0 1 0 9 0 4 0 2 0 2 0 14 0 12 0-109 1 1 0 1 0 1 0 2 0 1 0 1 0 1 0 1 0 4 0 1 0 1 0 1 0 1 0 4 0 1 0 1 0 1 0 1 0 2 0 1 0 1 0 1 0 1 0 1 0 1 0 2 0 2 0 1 0 1 0 1 0 1 0 1 0 1 0 1 0 1 0 1 0 1 0 1 0 1 0 1 0 1 0 1 0 1 0 2 0 2 0 2 0 2 0 1 0 1 0 1 0 3 0 4 0 3 0 1 0 1 0 3 0 8 0 7 0 1 0 2 0 1 0 9 0 5 0 25 0-136 1 2 0 1 0 1 0 2 0 1 0 3 0 1 0 2 0 1 0 2 0 2 0 2 0 2 0 1 0 1 0 2 0 3 0 1 0 2 0 1 0 2 0 1 0 2 0 1 0 1 0 2 0 1 0 3 0 1 0 1 0 2 0 3 0 1 0 7 0 3 0 4 0 3 0 1 0 6 0 20 0-99 1 1 0 2 0 1 0 1 0 1 0 3 0 1 0 1 0 1 0 1 0 2 0 1 0 1 0 1 0 1 0 2 0 1 0 1 0 1 0 1 0 2 0 1 0 1 0 1 0 1 0 2 0 1 0 1 0 1 0 1 0 1 0 1 0 1 0 1 0 1 0 1 0 2 0 1 0 1 0 2 0 2 0 1 0 1 0 1 0 1 0 2 0 4 0 2 0 1 0 1 0 1 0 1 0 3 0 2 0 1 0 2 0 1 0 1 0 2 0 17 0-96 1 2 0 1 0 4 0 3 0 1 0 1 0 6 0 1 0 2 0 2 0 3 0 1 0 3 0 3 0 2 0 1 0 1 0 3 0 4 0 1 0 1 0 1 0 3 0 1 0 1 0 1 0 1 0 7 0 2 0 1 0 7 0 6 0 9 0 3 0-89 1 1 0 1 0 1 0 1 0 1 0 1 0 1 0 2 0 1 0 1 0 2 0 1 0 1 0 2 0 2 0 1 0 1 0 1 0 1 0 2 0 1 0 1 0 1 0 1 0 1 0 1 0 1 0 1 0 1 0 1 0 1 0 1 0 1 0 1 0 1 0 1 0 2 0 1 0 1 0 1 0 1 0 3 0 1 0 1 0 1 0 2 0 4 0 1 0 1 0 2 0 2 0 2 0 1 0 2 0 1 0 1 0 7 0 9 0 3 0 2 0 8 0-101 1 3 0 2 0 5 0 1 0 2 0 1 0 1 0 2 0 3 0 2 0 1 0 4 0 1 0 3 0 2 0 2 0 3 0 5 0 1 0 3 0 4 0 4 0 3 0 21 0 1 0 7 0-87 1 1 0 1 0 1 0 1 0 1 0 2 0 2 0 2 0 1 0 1 0 1 0 1 0 1 0 2 0 1 0 1 0 1 0 1 0 1 0 2 0 1 0 1 0 1 0 1 0 1 0 1 0 1 0 1 0 1 0 1 0 2 0 1 0 1 0 1 0 1 0 1 0 1 0 1 0 1 0 2 0 2 0 2 0 2 0 1 0 1 0 1 0 1 0 5 0 1 0 1 0 1 0 2 0 2 0 5 0 10 0 5 0 5 0-94 1 1 0 3 0 2 0 1 0 2 0 1 0 1 0 1 0 2 0 1 0 2 0 4 0 2 0 2 0 2 0 6 0 2 0 1 0 2 0 2 0 1 0 3 0 3 0 1 0 1 0 2 0 8 0 2 0 6 0 10 0-77 1 1 0 1 0 1 0 1 0 1 0 1 0 1 0 1 0 1 0 1 0 1 0 1 0 1 0 1 0 1 0 1 0 1 0 2 0 2 0 1 0 1 0 1 0 1 0 1 0 1 0 1 0 1 0 1 0 1 0 2 0 2 0 1 0 1 0 1 0 1 0 1 0 1 0 1 0 1 0 1 0 1 0 2 0 2 0 1 0 1 0 2 0 1 0 1 0 1 0 7 0 1 0 1 0 2 0 2 0 7 0 1 0 1 0 5 0 18 0-101 1 1 0 1 0 1 0 1 0 1 0 1 0 1 0 1 0 1 0 2 0 2 0 1 0 1 0 1 0 1 0 1 0 1 0 1 0 1 0 1 0 1 0 1 0 1 0 1 0 1 0 2 0 1 0 1 0 1 0 1 0 1 0 1 0 1 0 1 0 1 0 1 0 1 0 1 0 2 0 1 0 1 0 1 0 1 0 1 0 3 0 1 0 1 0 1 0 1 0 2 0 2 0 4 0 1 0 1 0 2 0 2 0 1 0 1 0 2 0 1 0 9 0 5 0 8 0" class="sc"/>
<rect x="109.80" y="726.70" width="199.40" height="199.10" fill="none" stroke="#222" stroke-width="1.6"/>
<line x1="178.50" y1="726.70" x2="178.50" y2="925.80" stroke="#111" stroke-width="1.8" stroke-linecap="butt"/>
<line x1="109.80" y1="857.00" x2="309.20" y2="857.00" stroke="#111" stroke-width="1.8" stroke-linecap="butt"/>
<path d="M104.30 925.80H109.80M109.80 925.80V931.30M106.80 910.82H109.80M124.81 925.80V928.80M106.80 902.05H109.80M133.58 925.80V928.80M106.80 895.83H109.80M139.81 925.80V928.80M106.80 891.01H109.80M144.64 925.80V928.80M106.80 887.07H109.80M148.59 925.80V928.80M106.80 883.74H109.80M151.93 925.80V928.80M106.80 880.85H109.80M154.82 925.80V928.80M106.80 878.30H109.80M157.37 925.80V928.80M104.30 876.02H109.80M159.65 925.80V931.30M106.80 861.04H109.80M174.66 925.80V928.80M106.80 852.28H109.80M183.43 925.80V928.80M106.80 846.06H109.80M189.66 925.80V928.80M106.80 841.23H109.80M194.49 925.80V928.80M106.80 837.29H109.80M198.44 925.80V928.80M106.80 833.96H109.80M201.78 925.80V928.80M106.80 831.07H109.80M204.67 925.80V928.80M106.80 828.53H109.80M207.22 925.80V928.80M104.30 826.25H109.80M209.50 925.80V931.30M106.80 811.27H109.80M224.51 925.80V928.80M106.80 802.50H109.80M233.28 925.80V928.80M106.80 796.28H109.80M239.51 925.80V928.80M106.80 791.46H109.80M244.34 925.80V928.80M106.80 787.52H109.80M248.29 925.80V928.80M106.80 784.19H109.80M251.63 925.80V928.80M106.80 781.30H109.80M254.52 925.80V928.80M106.80 778.75H109.80M257.07 925.80V928.80M104.30 776.48H109.80M259.35 925.80V931.30M106.80 761.49H109.80M274.36 925.80V928.80M106.80 752.73H109.80M283.13 925.80V928.80M106.80 746.51H109.80M289.36 925.80V928.80M106.80 741.68H109.80M294.19 925.80V928.80M106.80 737.74H109.80M298.14 925.80V928.80M106.80 734.41H109.80M301.48 925.80V928.80M106.80 731.52H109.80M304.37 925.80V928.80M106.80 728.98H109.80M306.92 925.80V928.80M104.30 726.70H109.80M309.20 925.80V931.30" stroke="#333" stroke-width="1.2" fill="none"/>
<text x="89.80" y="925.80" style="font-size:8px;fill:#444">10<tspan dy="-3" style="font-size:6px">0</tspan></text>
<text x="113.80" y="944.00" style="font-size:8px;fill:#444">10<tspan dy="-3" style="font-size:6px">0</tspan></text>
<text x="89.80" y="879.02" style="font-size:8px;fill:#444">10<tspan dy="-3" style="font-size:6px">1</tspan></text>
<text x="160.65" y="944.00" style="font-size:8px;fill:#444">10<tspan dy="-3" style="font-size:6px">1</tspan></text>
<text x="89.80" y="829.25" style="font-size:8px;fill:#444">10<tspan dy="-3" style="font-size:6px">2</tspan></text>
<text x="210.50" y="944.00" style="font-size:8px;fill:#444">10<tspan dy="-3" style="font-size:6px">2</tspan></text>
<text x="89.80" y="779.48" style="font-size:8px;fill:#444">10<tspan dy="-3" style="font-size:6px">3</tspan></text>
<text x="260.35" y="944.00" style="font-size:8px;fill:#444">10<tspan dy="-3" style="font-size:6px">3</tspan></text>
<text x="89.80" y="734.70" style="font-size:8px;fill:#444">10<tspan dy="-3" style="font-size:6px">4</tspan></text>
<text x="300.20" y="944.00" style="font-size:8px;fill:#444">10<tspan dy="-3" style="font-size:6px">4</tspan></text>
<text x="282.90" y="761.30" style="font-size:31.5px">4</text>
<path d="m503 756 26 23-25 7 4 2-15 2 14 0 32 0-41 1 9 0 1 0-34 1 6 0 12 0 10 0 12 1-56 1 17 0 2 0 5 0 2 0 11 0-25 2 18 0 17 0 3 0 10 0-54 1 6 0 8 0 4 0 10 0 17 0-49 1 12 0 4 0 8 0 2 0 4 0 2 0 8 0 2 0 8 0 3 0-79 1 43 0 3 0-18 1 4 0 1 0 4 0 3 0 3 0 3 0 4 0 6 0 4 0 3 0 3 0-14 1 2 0 1 0 1 0-21 1 5 0 3 0 1 0 2 0 5 0 2 0 1 0 2 0 1 0 11 0-46 1 16 0 3 0 5 0 8 0 6 0 10 0-59 1 15 0 4 0 4 0 3 0 2 0 1 0 15 0 1 0 2 0 2 0 7 0 1 0 11 0 5 0-50 1 2 0 1 0 3 0 2 0 2 0 3 0 9 0 4 0 1 0 7 0-47 1 3 0 2 0 1 0 8 0 1 0 4 0 2 0 5 0 2 0 3 0 1 0 5 0 2 0 2 0 2 0 4 0 2 0-42 1 12 0 1 0 1 0 6 0 20 0-48 1 2 0 1 0 3 0 2 0 2 0 2 0 1 0 1 0 2 0 1 0 1 0 1 0 1 0 1 0 1 0 1 0 1 0 2 0 1 0 1 0 2 0 2 0 2 0 1 0 1 0 2 0 3 0 1 0 2 0 6 0 3 0 5 0-64 1 12 0 8 0 2 0 2 0 4 0 2 0 2 0 1 0 1 0 6 0 2 0 2 0 2 0 2 0-52 1 4 0 2 0 2 0 2 0 4 0 2 0 1 0 1 0 4 0 2 0 1 0 1 0 1 0 1 0 1 0 1 0 2 0 1 0 1 0 2 0 2 0 1 0 3 0 1 0 1 0 2 0 2 0 6 0 2 0 2 0 8 0 7 0 13 0-88 1 1 0 11 0 7 0 5 0 1 0 5 0 4 0 2 0 1 0 1 0 2 0 2 0 10 0 1 0 5 0 4 0-68 1 7 0 4 0 7 0 2 0 4 0 2 0 1 0 1 0 1 0 1 0 1 0 1 0 1 0 1 0 1 0 3 0 2 0 1 0 1 0 2 0 2 0 2 0 2 0 1 0 1 0 2 0 2 0 2 0 2 0 1 0 2 0 1 0 4 0 8 0-54 1 8 0 2 0 1 0 1 0 1 0 1 0 1 0 1 0 2 0 2 0 3 0 1 0 1 0 3 0 2 0 4 0 5 0 1 0 5 0-61 1 2 0 2 0 8 0 4 0 1 0 2 0 1 0 1 0 1 0 2 0 1 0 1 0 1 0 1 0 1 0 1 0 1 0 1 0 1 0 1 0 1 0 1 0 1 0 1 0 2 0 1 0 1 0 1 0 1 0 1 0 1 0 1 0 1 0 1 0 1 0 2 0 2 0 2 0 2 0 1 0 3 0 2 0 1 0 6 0 3 0-69 1 1 0 8 0 2 0 2 0 2 0 4 0 1 0 1 0 1 0 1 0 5 0 1 0 1 0 1 0 1 0 1 0 3 0 3 0 1 0 3 0 2 0 2 0 1 0 3 0 2 0 4 0-68 1 11 0 3 0 4 0 2 0 1 0 1 0 1 0 1 0 1 0 1 0 1 0 1 0 1 0 1 0 1 0 1 0 1 0 1 0 1 0 1 0 1 0 1 0 1 0 1 0 1 0 1 0 1 0 1 0 1 0 1 0 1 0 1 0 2 0 1 0 1 0 2 0 2 0 1 0 1 0 1 0 1 0 2 0 2 0 1 0 2 0 7 0 2 0 10 0-88 1 6 0 4 0 9 0 1 0 2 0 2 0 2 0 1 0 1 0 1 0 1 0 2 0 1 0 1 0 2 0 1 0 1 0 1 0 1 0 1 0 1 0 2 0 2 0 2 0 1 0 1 0 1 0 3 0 2 0 4 0 2 0 1 0 8 0-84 1 6 0 3 0 10 0 3 0 5 0 2 0 1 0 4 0 1 0 1 0 1 0 1 0 1 0 1 0 1 0 2 0 1 0 1 0 1 0 1 0 1 0 1 0 1 0 1 0 2 0 1 0 1 0 1 0 1 0 1 0 1 0 1 0 1 0 1 0 1 0 1 0 1 0 1 0 1 0 1 0 1 0 1 0 1 0 1 0 1 0 2 0 2 0 1 0 1 0 2 0 2 0 13 0 4 0-86 1 17 0 1 0 3 0 4 0 1 0 1 0 1 0 2 0 1 0 2 0 1 0 1 0 2 0 1 0 1 0 1 0 1 0 2 0 1 0 1 0 3 0 1 0 1 0 1 0 2 0 4 0 1 0 1 0 12 0-68 1 6 0 1 0 1 0 2 0 2 0 4 0 2 0 2 0 1 0 1 0 1 0 1 0 1 0 1 0 1 0 1 0 1 0 1 0 1 0 1 0 1 0 1 0 1 0 1 0 1 0 1 0 1 0 1 0 1 0 1 0 1 0 1 0 1 0 1 0 1 0 1 0 2 0 1 0 1 0 1 0 1 0 2 0 2 0 1 0 1 0 1 0 1 0 1 0 3 0-54 1 3 0 1 0 2 0 2 0 2 0 2 0 1 0 1 0 1 0 1 0 2 0 1 0 1 0 2 0 1 0 1 0 1 0 1 0 2 0 1 0 1 0 1 0 1 0 2 0 1 0 1 0 2 0 2 0 1 0 1 0 2 0 4 0 2 0 11 0-65 1 2 0 1 0 1 0 1 0 1 0 1 0 1 0 1 0 1 0 1 0 1 0 2 0 1 0 1 0 1 0 1 0 1 0 1 0 1 0 1 0 1 0 1 0 1 0 1 0 1 0 1 0 1 0 1 0 1 0 1 0 1 0 1 0 1 0 1 0 1 0 1 0 1 0 1 0 1 0 1 0 1 0 1 0 1 0 1 0 1 0 1 0 1 0 1 0 2 0 2 0 2 0 2 0 3 0-60 1 2 0 1 0 2 0 4 0 1 0 1 0 2 0 1 0 1 0 1 0 1 0 1 0 1 0 1 0 1 0 1 0 1 0 1 0 1 0 1 0 1 0 1 0 1 0 1 0 1 0 1 0 1 0 1 0 1 0 2 0 2 0 1 0 1 0 2 0 1 0 1 0 1 0 1 0 2 0 6 0-66 1 1 0 3 0 2 0 1 0 1 0 4 0 2 0 2 0 1 0 1 0 1 0 1 0 1 0 1 0 1 0 1 0 1 0 1 0 1 0 1 0 1 0 1 0 1 0 1 0 1 0 1 0 1 0 1 0 1 0 1 0 1 0 1 0 1 0 1 0 1 0 1 0 2 0 1 0 1 0 1 0 1 0 1 0 1 0 1 0 1 0 1 0 1 0 1 0 1 0 2 0 2 0 3 0 1 0 4 0 12 0 2 0-80 1 2 0 2 0 1 0 1 0 4 0 2 0 1 0 1 0 1 0 1 0 1 0 1 0 1 0 1 0 1 0 1 0 2 0 1 0 1 0 1 0 1 0 1 0 1 0 1 0 1 0 1 0 1 0 1 0 1 0 1 0 1 0 1 0 1 0 1 0 1 0 1 0 1 0 2 0 1 0 1 0 1 0 1 0 2 0 2 0 2 0 1 0 4 0 17 0-88 1 10 0 5 0 1 0 1 0 1 0 1 0 1 0 1 0 1 0 1 0 1 0 1 0 1 0 1 0 1 0 1 0 1 0 1 0 1 0 1 0 1 0 1 0 1 0 1 0 1 0 1 0 1 0 1 0 1 0 1 0 1 0 1 0 1 0 1 0 1 0 1 0 1 0 1 0 1 0 1 0 1 0 1 0 1 0 1 0 1 0 1 0 1 0 1 0 1 0 1 0 1 0 1 0 1 0 1 0 1 0 2 0 2 0 1 0 1 0 1 0-61 1 2 0 4 0 2 0 2 0 1 0 1 0 1 0 1 0 1 0 1 0 1 0 1 0 2 0 1 0 1 0 1 0 1 0 2 0 1 0 1 0 1 0 1 0 1 0 1 0 1 0 1 0 1 0 1 0 1 0 1 0 1 0 1 0 2 0 1 0 1 0 2 0 2 0 4 0 2 0 8 0-82 1 2 0 6 0 6 0 1 0 3 0 1 0 2 0 1 0 1 0 1 0 2 0 2 0 1 0 1 0 1 0 1 0 1 0 1 0 1 0 1 0 1 0 1 0 1 0 1 0 1 0 1 0 1 0 1 0 1 0 1 0 1 0 1 0 1 0 1 0 1 0 1 0 1 0 1 0 1 0 1 0 1 0 1 0 1 0 1 0 1 0 1 0 2 0 1 0 1 0 1 0 1 0 1 0 1 0 1 0 1 0 2 0 2 0 4 0 6 0 2 0-72 1 7 0 1 0 2 0 2 0 2 0 1 0 1 0 1 0 1 0 1 0 1 0 1 0 1 0 2 0 1 0 1 0 1 0 1 0 1 0 1 0 1 0 1 0 1 0 1 0 1 0 1 0 1 0 1 0 1 0 1 0 1 0 1 0 1 0 1 0 1 0 1 0 1 0 1 0 1 0 1 0 1 0 1 0 2 0 1 0 1 0 4 0 7 0 4 0-78 1 3 0 3 0 3 0 2 0 2 0 1 0 1 0 1 0 1 0 2 0 1 0 1 0 1 0 1 0 1 0 1 0 1 0 1 0 1 0 1 0 1 0 1 0 1 0 1 0 1 0 1 0 1 0 1 0 1 0 1 0 1 0 1 0 1 0 1 0 1 0 1 0 1 0 1 0 1 0 1 0 1 0 1 0 1 0 1 0 1 0 1 0 1 0 1 0 1 0 1 0 1 0 1 0 1 0 1 0 1 0 1 0 4 0 2 0 1 0 5 0-76 1 10 0 2 0 2 0 2 0 1 0 3 0 1 0 1 0 1 0 1 0 1 0 1 0 1 0 1 0 1 0 1 0 1 0 1 0 1 0 1 0 1 0 1 0 1 0 1 0 1 0 1 0 1 0 1 0 2 0 2 0 1 0 1 0 1 0 1 0 1 0 1 0 2 0 4 0 4 0 1 0 1 0 6 0-114 1 41 0 2 0 5 0 1 0 3 0 1 0 1 0 1 0 1 0 2 0 1 0 1 0 1 0 1 0 1 0 1 0 1 0 1 0 1 0 1 0 1 0 1 0 1 0 1 0 1 0 1 0 1 0 1 0 1 0 1 0 1 0 1 0 1 0 1 0 1 0 1 0 1 0 1 0 1 0 1 0 1 0 1 0 1 0 1 0 2 0 1 0 1 0 1 0 1 0 1 0 1 0 1 0 1 0 2 0 1 0 1 0 2 0 1 0 1 0 6 0-68 1 4 0 2 0 4 0 2 0 1 0 1 0 1 0 1 0 2 0 1 0 1 0 1 0 1 0 1 0 1 0 1 0 1 0 1 0 1 0 1 0 1 0 1 0 1 0 1 0 1 0 1 0 1 0 1 0 1 0 1 0 1 0 1 0 1 0 1 0 1 0 1 0 1 0 2 0 1 0 1 0 3 0 3 0 1 0 1 0 4 0-62 1 2 0 2 0 2 0 2 0 1 0 1 0 2 0 1 0 1 0 1 0 1 0 1 0 1 0 1 0 1 0 1 0 1 0 1 0 1 0 1 0 1 0 1 0 1 0 1 0 1 0 1 0 1 0 1 0 1 0 1 0 1 0 1 0 1 0 1 0 1 0 1 0 1 0 1 0 1 0 1 0 1 0 1 0 1 0 2 0 1 0 1 0 1 0 1 0 2 0 1 0 1 0 1 0 3 0 4 0-78 1 4 0 6 0 5 0 3 0 2 0 2 0 4 0 1 0 1 0 1 0 1 0 1 0 1 0 1 0 1 0 1 0 1 0 1 0 1 0 1 0 1 0 1 0 1 0 1 0 1 0 1 0 1 0 1 0 1 0 2 0 1 0 1 0 1 0 1 0 1 0 1 0 1 0 1 0 1 0 1 0 1 0 1 0 4 0 6 0-74 1 8 0 2 0 3 0 2 0 4 0 1 0 2 0 2 0 1 0 1 0 1 0 1 0 1 0 1 0 1 0 1 0 1 0 1 0 1 0 1 0 1 0 1 0 1 0 1 0 1 0 1 0 1 0 1 0 1 0 1 0 1 0 1 0 1 0 1 0 1 0 1 0 1 0 1 0 1 0 1 0 1 0 1 0 1 0 1 0 1 0 1 0 1 0 1 0 2 0 1 0 1 0 1 0 1 0 2 0 1 0 1 0 2 0 6 0-68 1 4 0 2 0 2 0 1 0 1 0 2 0 2 0 1 0 1 0 3 0 1 0 2 0 1 0 1 0 2 0 1 0 1 0 1 0 1 0 1 0 1 0 1 0 1 0 1 0 1 0 1 0 1 0 1 0 1 0 2 0 1 0 1 0 2 0 2 0 1 0 1 0 2 0-95 1 39 0 4 0 1 0 1 0 2 0 1 0 1 0 1 0 1 0 1 0 1 0 1 0 1 0 1 0 1 0 1 0 1 0 1 0 1 0 1 0 1 0 1 0 1 0 1 0 1 0 1 0 1 0 1 0 1 0 1 0 1 0 1 0 1 0 1 0 1 0 1 0 1 0 1 0 1 0 1 0 1 0 1 0 1 0 1 0 1 0 1 0 1 0 1 0 1 0 1 0 1 0 1 0 1 0 2 0 1 0 1 0 2 0 2 0 2 0-70 1 3 0 7 0 4 0 1 0 1 0 2 0 1 0 1 0 2 0 1 0 1 0 1 0 1 0 1 0 1 0 1 0 1 0 1 0 1 0 1 0 1 0 1 0 1 0 1 0 1 0 1 0 1 0 1 0 1 0 1 0 1 0 1 0 1 0 1 0 1 0 2 0 1 0 1 0 1 0 1 0 2 0 2 0 2 0 2 0 1 0 13 0-82 1 4 0 3 0 3 0 1 0 2 0 1 0 2 0 2 0 1 0 1 0 1 0 1 0 1 0 1 0 2 0 1 0 1 0 1 0 1 0 1 0 1 0 1 0 1 0 1 0 1 0 1 0 1 0 1 0 1 0 1 0 1 0 1 0 1 0 1 0 1 0 1 0 1 0 1 0 1 0 1 0 1 0 1 0 1 0 1 0 1 0 1 0 1 0 2 0 1 0 1 0 1 0 1 0 1 0 1 0 2 0 2 0 3 0 9 0 6 0-84 1 6 0 2 0 2 0 4 0 2 0 4 0 2 0 1 0 1 0 1 0 1 0 2 0 2 0 1 0 1 0 1 0 1 0 1 0 1 0 1 0 1 0 1 0 1 0 1 0 1 0 1 0 1 0 2 0 1 0 1 0 1 0 1 0 1 0 1 0 1 0 2 0 1 0 3 0 3 0 2 0 1 0 1 0 4 0-99 1 35 0 2 0 2 0 1 0 1 0 2 0 2 0 2 0 1 0 1 0 1 0 1 0 1 0 1 0 1 0 1 0 1 0 1 0 1 0 1 0 1 0 1 0 1 0 1 0 1 0 1 0 1 0 1 0 1 0 1 0 1 0 1 0 1 0 1 0 1 0 1 0 1 0 1 0 1 0 1 0 1 0 1 0 1 0 1 0 1 0 1 0 2 0 2 0 1 0 1 0 1 0 1 0 1 0 1 0 1 0 1 0 2 0-138 1 45 0 7 0 4 0 31 0 1 0 2 0 1 0 1 0 1 0 1 0 2 0 1 0 1 0 1 0 1 0 1 0 1 0 1 0 2 0 1 0 2 0 1 0 1 0 1 0 1 0 1 0 1 0 1 0 1 0 1 0 1 0 2 0 2 0 1 0 1 0 1 0 1 0 3 0 6 0 8 0-110 1 27 0 8 0 4 0 2 0 2 0 2 0 1 0 1 0 2 0 2 0 1 0 1 0 2 0 2 0 1 0 1 0 1 0 1 0 1 0 1 0 1 0 1 0 1 0 1 0 1 0 1 0 1 0 1 0 1 0 1 0 1 0 1 0 1 0 1 0 1 0 1 0 1 0 1 0 1 0 1 0 1 0 1 0 2 0 1 0 1 0 1 0 1 0 2 0 2 0 2 0 1 0 1 0 3 0 1 0 2 0 40 0-111 1 9 0 3 0 5 0 4 0 2 0 1 0 1 0 1 0 1 0 1 0 1 0 1 0 1 0 2 0 1 0 1 0 2 0 2 0 1 0 2 0 1 0 2 0 1 0 3 0 1 0 1 0 2 0 2 0 4 0-86 1 10 0 10 0 6 0 4 0 4 0 2 0 1 0 3 0 1 0 4 0 1 0 2 0 1 0 1 0 1 0 1 0 1 0 1 0 1 0 1 0 1 0 1 0 1 0 1 0 1 0 1 0 1 0 1 0 1 0 1 0 1 0 1 0 1 0 1 0 1 0 1 0 1 0 1 0 1 0 1 0 1 0 1 0 1 0 1 0 2 0 2 0 2 0 2 0 1 0 1 0 3 0 5 0-114 1 14 0 30 0 4 0 5 0 1 0 4 0 4 0 3 0 1 0 2 0 3 0 1 0 2 0 1 0 1 0 1 0 1 0 1 0 1 0 2 0 2 0 1 0 1 0 2 0 2 0 3 0 1 0 1 0 1 0 1 0 1 0 6 0 2 0 1 0 26 0-115 1 16 0 6 0 2 0 2 0 7 0 3 0 1 0 1 0 2 0 2 0 1 0 1 0 1 0 1 0 2 0 2 0 1 0 1 0 1 0 1 0 2 0 1 0 1 0 1 0 1 0 2 0 1 0 1 0 2 0 2 0 1 0 1 0 1 0 2 0 1 0 1 0 1 0 2 0 1 0 1 0 2 0 1 0 1 0 2 0 4 0-70 1 10 0 2 0 1 0 3 0 6 0 2 0 2 0 2 0 1 0 1 0 1 0 1 0 1 0 1 0 1 0 1 0 1 0 2 0 1 0 4 0 2 0 4 0 2 0 2 0 1 0 1 0 2 0 2 0 1 0 3 0 8 0-132 1 10 0 40 0 8 0 4 0 6 0 5 0 2 0 1 0 2 0 2 0 4 0 4 0 1 0 1 0 1 0 1 0 1 0 1 0 2 0 2 0 1 0 1 0 1 0 1 0 1 0 1 0 1 0 1 0 1 0 1 0 1 0 1 0 1 0 1 0 1 0 1 0 2 0 2 0 1 0 1 0 1 0 1 0 1 0 1 0 2 0 3 0 1 0 5 0 5 0-112 1 5 0 30 0 11 0 3 0 7 0 4 0 4 0 3 0 1 0 3 0 1 0 2 0 2 0 1 0 1 0 2 0 3 0 3 0 2 0 2 0 2 0 24 0-119 1 5 0 11 0 2 0 4 0 5 0 9 0 1 0 1 0 1 0 4 0 4 0 4 0 1 0 1 0 2 0 2 0 2 0 1 0 1 0 1 0 1 0 1 0 1 0 1 0 1 0 1 0 1 0 1 0 1 0 1 0 1 0 1 0 1 0 1 0 1 0 1 0 1 0 1 0 1 0 1 0 1 0 1 0 1 0 1 0 1 0 1 0 1 0 1 0 2 0 1 0 1 0 1 0 1 0 1 0 4 0 2 0 2 0 1 0 11 0 2 0-104 1 18 0 1 0 17 0 4 0 9 0 3 0 1 0 5 0 2 0 2 0 3 0 2 0 1 0 1 0 5 0 1 0 1 0 6 0 2 0 2 0-92 1 2 0 6 0 2 0 17 0 1 0 14 0 3 0 2 0 1 0 1 0 1 0 1 0 1 0 1 0 1 0 1 0 1 0 1 0 1 0 2 0 2 0 1 0 1 0 2 0 3 0 1 0 1 0 1 0 1 0 1 0 2 0 2 0 2 0 2 0 1 0 1 0 2 0 4 0 2 0 4 0 2 0 5 0 5 0-124 1 31 0 33 0 2 0 2 0 2 0 3 0 2 0 1 0 2 0 2 0 1 0 1 0 2 0 1 0 1 0 3 0 2 0 1 0 2 0 8 0 6 0-123 1 19 0 18 0 7 0 7 0 3 0 7 0 2 0 1 0 3 0 1 0 1 0 2 0 2 0 6 0 1 0 1 0 1 0 1 0 1 0 2 0 2 0 1 0 2 0 2 0 2 0 1 0 1 0 1 0 1 0 2 0 1 0 2 0 1 0 2 0 1 0 1 0 1 0 1 0 4 0 2 0 1 0 1 0 2 0 4 0 4 0-118 1 46 0 12 0 2 0 5 0 1 0 2 0 4 0 1 0 5 0 2 0 2 0 5 0 3 0 4 0 4 0 1 0 9 0 3 0 12 0 9 0 14 0-160 1 8 0 6 0 5 0 3 0 4 0 4 0 7 0 3 0 1 0 21 0 1 0 1 0 5 0 8 0 1 0 2 0 1 0 1 0 1 0 2 0 1 0 2 0 2 0 2 0 1 0 1 0 2 0 1 0 1 0 2 0 1 0 1 0 1 0 3 0 3 0 1 0 2 0 2 0 2 0 2 0 3 0 3 0-104 1 4 0 11 0 11 0 22 0 4 0 3 0 10 0 1 0 2 0 2 0 1 0 1 0 4 0 2 0 1 0 7 0 4 0 4 0 7 0-121 1 24 0 2 0 6 0 7 0 3 0 12 0 2 0 10 0 1 0 4 0 1 0 1 0 2 0 1 0 1 0 1 0 1 0 1 0 1 0 1 0 2 0 2 0 1 0 1 0 1 0 1 0 2 0 2 0 1 0 1 0 2 0 2 0 1 0 1 0 4 0 2 0 1 0 1 0 2 0 2 0 2 0 2 0 2 0 7 0 6 0-111 1 26 0 32 0 1 0 3 0 6 0 1 0 3 0 3 0 1 0 2 0 5 0 1 0 2 0 2 0 1 0 1 0 4 0 8 0 18 0 2 0-137 1 9 0 16 0 1 0 8 0 1 0 4 0 1 0 13 0 4 0 2 0 2 0 4 0 4 0 1 0 1 0 2 0 2 0 2 0 4 0 1 0 1 0 1 0 1 0 2 0 1 0 1 0 4 0 2 0 2 0 1 0 1 0 2 0 2 0 2 0 4 0 1 0 1 0 6 0 2 0 4 0 2 0 8 0 1 0-127 1 17 0 3 0 7 0 11 0 15 0 5 0 2 0 6 0 4 0 4 0 6 0 2 0 1 0 1 0 1 0 1 0 1 0 3 0 2 0 10 0 8 0-123 1 1 0 5 0 8 0 5 0 2 0 5 0 8 0 4 0 8 0 5 0 2 0 1 0 9 0 4 0 1 0 3 0 5 0 1 0 2 0 1 0 1 0 4 0 1 0 1 0 1 0 1 0 1 0 1 0 2 0 4 0 1 0 1 0 1 0 1 0 1 0 1 0 1 0 1 0 2 0 2 0 2 0 1 0 1 0 1 0 3 0 2 0 10 0 4 0 2 0 2 0 2 0 8 0-130 1 55 0 1 0 3 0 1 0 8 0 2 0 1 0 3 0 1 0 1 0 4 0 3 0 1 0 1 0 6 0 1 0 4 0 2 0 5 0 2 0 2 0 1 0 12 0-125 1 1 0 5 0 3 0 2 0 4 0 2 0 2 0 14 0 4 0 2 0 8 0 4 0 4 0 4 0 1 0 1 0 2 0 2 0 1 0 3 0 1 0 1 0 2 0 1 0 3 0 1 0 1 0 1 0 1 0 2 0 2 0 1 0 1 0 2 0 2 0 1 0 1 0 2 0 1 0 1 0 1 0 1 0 1 0 1 0 1 0 9 0 2 0 2 0 1 0 1 0 2 0 2 0 8 0 32 0-176 1 24 0 30 0 6 0 7 0 5 0 6 0 2 0 2 0 3 0 3 0 2 0 2 0 1 0 1 0 2 0 1 0 2 0 1 0 5 0 1 0 6 0 18 0-130 1 10 0 13 0 12 0 1 0 2 0 7 0 5 0 7 0 3 0 2 0 2 0 3 0 1 0 1 0 1 0 2 0 5 0 1 0 1 0 1 0 3 0 1 0 1 0 1 0 2 0 1 0 1 0 1 0 1 0 2 0 2 0 4 0 1 0 1 0 1 0 1 0 2 0 1 0 1 0 1 0 1 0 1 0 1 0 2 0 4 0 2 0 1 0 3 0 2 0-86 1 4 0 6 0 10 0 10 0 3 0 1 0 3 0 1 0 7 0 1 0 2 0 2 0 2 0 3 0 1 0 3 0 3 0 2 0 1 0 21 0 5 0 2 0-127 1 3 0 7 0 12 0 3 0 13 0 4 0 6 0 12 0 6 0 1 0 2 0 1 0 2 0 2 0 2 0 1 0 1 0 1 0 3 0 1 0 1 0 2 0 1 0 1 0 1 0 1 0 1 0 1 0 1 0 1 0 2 0 2 0 1 0 1 0 2 0 1 0 1 0 2 0 2 0 1 0 1 0 1 0 1 0 4 0 12 0 2 0-118 1 13 0 1 0 8 0 4 0 1 0 2 0 17 0 2 0 6 0 2 0 4 0 4 0 2 0 2 0 4 0 6 0 1 0 1 0 2 0 4 0 3 0 1 0 1 0 1 0-110 1 10 0 8 0 12 0 5 0 3 0 1 0 5 0 8 0 4 0 4 0 1 0 1 0 2 0 2 0 4 0 1 0 1 0 1 0 1 0 1 0 2 0 1 0 1 0 1 0 1 0 1 0 1 0 1 0 1 0 3 0 1 0 2 0 1 0 2 0 2 0 1 0 1 0 1 0 1 0 1 0 1 0 2 0 2 0 2 0 1 0 1 0 1 0 1 0 2 0 1 0 5 0 2 0 2 0 2 0 3 0 5 0 8 0-143 1 53 0 6 0 1 0 2 0 15 0 4 0 1 0 1 0 2 0 4 0 2 0 1 0 1 0 1 0 2 0 1 0 2 0 6 0 2 0 1 0 1 0 3 0 1 0 2 0 10 0 11 0-123 1 1 0 3 0 4 0 2 0 9 0 1 0 8 0 2 0 1 0 1 0 2 0 1 0 7 0 2 0 2 0 4 0 2 0 1 0 1 0 1 0 1 0 1 0 1 0 2 0 2 0 2 0 1 0 1 0 1 0 1 0 1 0 1 0 2 0 1 0 1 0 2 0 1 0 1 0 2 0 1 0 1 0 3 0 1 0 2 0 1 0 1 0 2 0 1 0 1 0 1 0 1 0 2 0 1 0 1 0 1 0 4 0 1 0 1 0 7 0 2 0 2 0 18 0-118 1 2 0 5 0 3 0 5 0 6 0 3 0 10 0 1 0 5 0 2 0 4 0 5 0 5 0 1 0 1 0 2 0 2 0 1 0 1 0 2 0 2 0 2 0 4 0 2 0 1 0 1 0 7 0 3 0 2 0 12 0 10 0-136 1 6 0 4 0 10 0 8 0 4 0 7 0 1 0 6 0 2 0 2 0 4 0 2 0 4 0 1 0 1 0 2 0 2 0 2 0 1 0 1 0 1 0 1 0 2 0 1 0 1 0 2 0 2 0 1 0 1 0 2 0 1 0 1 0 2 0 1 0 1 0 2 0 1 0 1 0 1 0 1 0 2 0 2 0 1 0 1 0 2 0 2 0 1 0 1 0 1 0 2 0 1 0 2 0 4 0 2 0 4 0 6 0 15 0-121 1 2 0 2 0 18 0 2 0 10 0 2 0 6 0 4 0 2 0 7 0 1 0 2 0 4 0 3 0 1 0 1 0 1 0 2 0 1 0 3 0 2 0 4 0 2 0 1 0 1 0 6 0-119 1 12 0 4 0 7 0 1 0 1 0 2 0 4 0 5 0 6 0 5 0 3 0 2 0 1 0 5 0 1 0 1 0 1 0 2 0 1 0 1 0 1 0 1 0 1 0 1 0 4 0 1 0 1 0 1 0 1 0 2 0 1 0 1 0 2 0 1 0 1 0 1 0 1 0 1 0 1 0 1 0 1 0 1 0 1 0 1 0 1 0 1 0 1 0 2 0 1 0 1 0 2 0 1 0 2 0 1 0 2 0 2 0 2 0 1 0 1 0 1 0 2 0 5 0 4 0 3 0 6 0 3 0-138 1 14 0 24 0 6 0 2 0 2 0 8 0 2 0 3 0 2 0 1 0 1 0 1 0 2 0 4 0 2 0 2 0 3 0 1 0 2 0 1 0 3 0 1 0 1 0 1 0 1 0 1 0 1 0 2 0 1 0 1 0 1 0 5 0 2 0 1 0 1 0 10 0 2 0 2 0-98 1 6 0 2 0 2 0 5 0 3 0 1 0 1 0 2 0 1 0 1 0 1 0 1 0 4 0 1 0 1 0 2 0 2 0 1 0 1 0 2 0 2 0 2 0 2 0 3 0 1 0 1 0 1 0 1 0 1 0 2 0 1 0 1 0 2 0 2 0 1 0 1 0 1 0 1 0 1 0 1 0 1 0 1 0 2 0 1 0 1 0 1 0 2 0 1 0 2 0 2 0 2 0 1 0 1 0 2 0 2 0 2 0 4 0 1 0 1 0 6 0-96 1 14 0 3 0 1 0 2 0 5 0 2 0 1 0 8 0 3 0 1 0 2 0 1 0 1 0 1 0 3 0 2 0 2 0 1 0 1 0 2 0 1 0 1 0 1 0 1 0 4 0 3 0 1 0 1 0 2 0 1 0 3 0 3 0 7 0 3 0-119 1 16 0 7 0 2 0 1 0 2 0 3 0 4 0 2 0 6 0 1 0 1 0 1 0 1 0 1 0 1 0 2 0 2 0 2 0 1 0 4 0 1 0 1 0 1 0 1 0 1 0 2 0 1 0 1 0 2 0 1 0 1 0 2 0 2 0 1 0 1 0 1 0 1 0 1 0 1 0 1 0 1 0 1 0 1 0 2 0 2 0 2 0 1 0 1 0 2 0 2 0 1 0 1 0 1 0 1 0 1 0 1 0 1 0 1 0 3 0 1 0 2 0 2 0 6 0 2 0-106 1 8 0 12 0 4 0 13 0 1 0 1 0 3 0 2 0 4 0 4 0 2 0 2 0 2 0 2 0 1 0 3 0 2 0 1 0 1 0 1 0 1 0 2 0 4 0 2 0 4 0 1 0 2 0 3 0 7 0-97 1 10 0 4 0 2 0 2 0 6 0 2 0 2 0 2 0 2 0 2 0 1 0 1 0 2 0 1 0 1 0 1 0 1 0 2 0 2 0 1 0 1 0 2 0 1 0 1 0 1 0 1 0 1 0 1 0 3 0 1 0 1 0 1 0 1 0 1 0 1 0 1 0 2 0 2 0 2 0 2 0 1 0 1 0 1 0 1 0 3 0 1 0 1 0 1 0 1 0 1 0 1 0 3 0 1 0 1 0 2 0 3 0 3 0 1 0 3 0 8 0-92 1 2 0 4 0 1 0 1 0 4 0 2 0 2 0 1 0 1 0 1 0 1 0 2 0 4 0 1 0 3 0 4 0 4 0 3 0 1 0 1 0 1 0 1 0 5 0 1 0 1 0 3 0 1 0 2 0 1 0 7 0 2 0 1 0 3 0 10 0 25 0-129 1 2 0 1 0 3 0 4 0 1 0 3 0 4 0 4 0 4 0 2 0 3 0 1 0 1 0 1 0 1 0 1 0 1 0 1 0 2 0 2 0 2 0 1 0 1 0 2 0 1 0 1 0 1 0 1 0 2 0 1 0 1 0 2 0 1 0 1 0 2 0 1 0 1 0 1 0 1 0 2 0 1 0 1 0 1 0 1 0 2 0 1 0 1 0 1 0 1 0 1 0 1 0 1 0 1 0 1 0 1 0 1 0 1 0 2 0 3 0 1 0 1 0 1 0 2 0 1 0 1 0 2 0 1 0 1 0 1 0 4 0-107 1 19 0 8 0 7 0 1 0 3 0 3 0 1 0 6 0 1 0 1 0 2 0 2 0 4 0 2 0 2 0 2 0 4 0 1 0 1 0 2 0 2 0 2 0 2 0 2 0 3 0 1 0 1 0 1 0 8 0 5 0 15 0 8 0-137 1 1 0 11 0 11 0 6 0 4 0 4 0 1 0 1 0 1 0 1 0 1 0 1 0 1 0 1 0 1 0 1 0 1 0 1 0 2 0 1 0 1 0 1 0 1 0 1 0 1 0 2 0 1 0 1 0 1 0 1 0 1 0 1 0 2 0 2 0 2 0 2 0 1 0 1 0 1 0 1 0 2 0 1 0 1 0 1 0 1 0 1 0 1 0 2 0 1 0 1 0 1 0 1 0 2 0 1 0 1 0 1 0 1 0 1 0 1 0 1 0 1 0 2 0 6 0 2 0 2 0 2 0 18 0-91 1 1 0 2 0 7 0 1 0 1 0 1 0 3 0 11 0 1 0 3 0 2 0 3 0 1 0 2 0 2 0 2 0 3 0 1 0 4 0 6 0 4 0 1 0 1 0 2 0 1 0 2 0 5 0 1 0 6 0 1 0-122 1 1 0 14 0 5 0 4 0 2 0 5 0 1 0 1 0 1 0 2 0 2 0 3 0 1 0 1 0 1 0 1 0 1 0 1 0 1 0 1 0 1 0 2 0 2 0 1 0 1 0 2 0 3 0 1 0 2 0 1 0 1 0 2 0 1 0 1 0 1 0 1 0 1 0 1 0 2 0 1 0 1 0 2 0 1 0 1 0 2 0 1 0 1 0 1 0 1 0 2 0 1 0 1 0 4 0 2 0 2 0 1 0 1 0 1 0 1 0 2 0 2 0 2 0 6 0 2 0-96 1 7 0 3 0 2 0 2 0 5 0 5 0 2 0 2 0 1 0 3 0 1 0 2 0 1 0 4 0 1 0 1 0 1 0 1 0 4 0 2 0 4 0 2 0 2 0 4 0 2 0 2 0 2 0 2 0 8 0 4 0 4 0 2 0-109 1 15 0 7 0 3 0 2 0 4 0 1 0 1 0 1 0 1 0 2 0 1 0 5 0 2 0 1 0 1 0 1 0 1 0 1 0 1 0 1 0 1 0 1 0 2 0 1 0 1 0 1 0 1 0 1 0 2 0 2 0 1 0 1 0 2 0 1 0 1 0 1 0 1 0 1 0 1 0 1 0 1 0 1 0 1 0 1 0 1 0 1 0 1 0 1 0 1 0 2 0 1 0 1 0 1 0 1 0 1 0 1 0 2 0 1 0 1 0 2 0 1 0 3 0 2 0 1 0 1 0 1 0 9 0 2 0-104 1 6 0 4 0 3 0 7 0 8 0 1 0 2 0 3 0 1 0 1 0 2 0 2 0 2 0 2 0 6 0 2 0 4 0 4 0 2 0 2 0 2 0 1 0 3 0 2 0 3 0 2 0 1 0 2 0 1 0 7 0-104 1 6 0 1 0 13 0 3 0 3 0 3 0 1 0 2 0 2 0 2 0 1 0 1 0 2 0 1 0 1 0 1 0 1 0 2 0 1 0 1 0 1 0 1 0 1 0 1 0 1 0 1 0 2 0 1 0 1 0 1 0 1 0 2 0 1 0 1 0 2 0 2 0 2 0 1 0 1 0 1 0 1 0 2 0 1 0 1 0 1 0 1 0 1 0 2 0 1 0 1 0 1 0 1 0 1 0 2 0 2 0 1 0 1 0 1 0 1 0 2 0 2 0 1 0 1 0 2 0 1 0 1 0 3 0 1 0 3 0 11 0 4 0-109 1 1 0 4 0 6 0 6 0 4 0 2 0 8 0 1 0 3 0 2 0 3 0 2 0 1 0 2 0 1 0 1 0 1 0 1 0 2 0 1 0 1 0 2 0 2 0 2 0 4 0 1 0 1 0 1 0 5 0 3 0 5 0 2 0 6 0 2 0 2 0-111 1 9 0 6 0 4 0 1 0 1 0 1 0 1 0 3 0 2 0 1 0 6 0 1 0 3 0 2 0 1 0 1 0 2 0 1 0 2 0 1 0 1 0 1 0 1 0 1 0 1 0 1 0 1 0 1 0 1 0 1 0 1 0 1 0 1 0 1 0 1 0 1 0 1 0 1 0 2 0 1 0 1 0 2 0 1 0 1 0 2 0 1 0 1 0 1 0 1 0 1 0 1 0 2 0 1 0 1 0 2 0 1 0 1 0 4 0 2 0 2 0 2 0 1 0 1 0 2 0 2 0 2 0 4 0 4 0 40 0-148 1 14 0 7 0 1 0 1 0 3 0 2 0 3 0 3 0 3 0 5 0 2 0 2 0 1 0 3 0 2 0 3 0 1 0 1 0 1 0 2 0 1 0 1 0 2 0 2 0 1 0 1 0 2 0 2 0 4 0 2 0 2 0 1 0 1 0 8 0 2 0 6 0 10 0 12 0-122 1 10 0 4 0 5 0 2 0 5 0 2 0 1 0 1 0 2 0 2 0 2 0 2 0 1 0 1 0 1 0 1 0 2 0 2 0 2 0 1 0 1 0 1 0 1 0 2 0 2 0 1 0 1 0 2 0 1 0 1 0 1 0 1 0 1 0 1 0 1 0 1 0 1 0 1 0 1 0 1 0 1 0 1 0 1 0 1 0 1 0 1 0 2 0 1 0 2 0 1 0 2 0 1 0 1 0 1 0 1 0 1 0 1 0 2 0 2 0 2 0 6 0 2 0 2 0 8 0 16 0-121 1 18 0 1 0 1 0 3 0 4 0 2 0 2 0 2 0 1 0 3 0 1 0 3 0 2 0 1 0 1 0 2 0 2 0 2 0 2 0 1 0 3 0 4 0 1 0 1 0 1 0 1 0 2 0 2 0 1 0 2 0 1 0 6 0 4 0 3 0 7 0 4 0-115 1 1 0 2 0 10 0 2 0 1 0 7 0 4 0 1 0 1 0 4 0 2 0 2 0 1 0 3 0 1 0 1 0 2 0 1 0 1 0 2 0 1 0 1 0 2 0 2 0 1 0 1 0 1 0 1 0 1 0 1 0 1 0 1 0 1 0 1 0 1 0 1 0 2 0 1 0 1 0 1 0 1 0 1 0 1 0 2 0 1 0 1 0 1 0 1 0 1 0 1 0 2 0 1 0 1 0 1 0 1 0 2 0 2 0 4 0 2 0 4 0 1 0 3 0 2 0 3 0 2 0 22 0-120 1 1 0 6 0 1 0 5 0 2 0 4 0 2 0 3 0 1 0 4 0 3 0 1 0 1 0 2 0 1 0 3 0 1 0 2 0 1 0 1 0 2 0 1 0 3 0 1 0 1 0 2 0 2 0 2 0 4 0 2 0 3 0 3 0 4 0 8 0 2 0 2 0 2 0 8 0-109 1 11 0 1 0 3 0 2 0 4 0 1 0 1 0 1 0 1 0 4 0 2 0 2 0 1 0 1 0 2 0 1 0 1 0 1 0 1 0 1 0 1 0 1 0 1 0 1 0 1 0 2 0 2 0 1 0 1 0 1 0 1 0 1 0 1 0 1 0 1 0 1 0 1 0 2 0 2 0 1 0 1 0 1 0 1 0 1 0 1 0 2 0 1 0 1 0 2 0 2 0 1 0 1 0 1 0 1 0 1 0 1 0 2 0 1 0 5 0 2 0-99 1 11 0 2 0 12 0 1 0 7 0 2 0 2 0 3 0 1 0 4 0 1 0 1 0 2 0 4 0 3 0 1 0 1 0 1 0 8 0 1 0 1 0 1 0 1 0 3 0 2 0 1 0 2 0 2 0 2 0 2 0 5 0 1 0 10 0 4 0-101 1 1 0 2 0 12 0 2 0 3 0 1 0 3 0 1 0 1 0 2 0 1 0 2 0 2 0 2 0 2 0 1 0 1 0 2 0 2 0 1 0 1 0 2 0 1 0 1 0 1 0 1 0 2 0 1 0 1 0 1 0 1 0 2 0 2 0 1 0 1 0 2 0 2 0 1 0 1 0 1 0 1 0 1 0 1 0 1 0 1 0 2 0 1 0 1 0 1 0 1 0 1 0 2 0 1 0 2 0 2 0 3 0 1 0 2 0 8 0 1 0 1 0-108 1 2 0 10 0 11 0 3 0 2 0 2 0 2 0 2 0 4 0 2 0 4 0 1 0 4 0 1 0 1 0 1 0 2 0 2 0 5 0 1 0 1 0 5 0 2 0 2 0 4 0 2 0 4 0 2 0 3 0 1 0 1 0 3 0 13 0-106 1 1 0 1 0 5 0 3 0 11 0 2 0 2 0 1 0 1 0 2 0 2 0 1 0 1 0 4 0 2 0 1 0 1 0 1 0 1 0 1 0 1 0 1 0 1 0 1 0 1 0 2 0 2 0 1 0 1 0 1 0 1 0 1 0 2 0 1 0 1 0 1 0 2 0 2 0 1 0 3 0 1 0 1 0 4 0 1 0 1 0 1 0 1 0 1 0 1 0 4 0 1 0 1 0 1 0 1 0 2 0 2 0 2 0 4 0 18 0 26 0-145 1 15 0 2 0 2 0 6 0 1 0 3 0 2 0 4 0 2 0 2 0 2 0 1 0 3 0 2 0 2 0 2 0 1 0 3 0 9 0 1 0 3 0 1 0 4 0 1 0 5 0 2 0 3 0 5 0 1 0 13 0-102 1 4 0 1 0 9 0 1 0 3 0 1 0 1 0 2 0 1 0 1 0 2 0 2 0 1 0 1 0 2 0 1 0 1 0 1 0 1 0 1 0 3 0 1 0 1 0 1 0 1 0 1 0 1 0 1 0 1 0 1 0 1 0 1 0 3 0 2 0 1 0 1 0 1 0 1 0 1 0 1 0 2 0 1 0 4 0 1 0 1 0 1 0 4 0 2 0 1 0 1 0 2 0 2 0 1 0 5 0 2 0-77 1 3 0 2 0 2 0 2 0 2 0 1 0 1 0 2 0 1 0 1 0 6 0 2 0 2 0 2 0 1 0 1 0 1 0 2 0 3 0 2 0 2 0 2 0 2 0 2 0 1 0 1 0 6 0 2 0 4 0 2 0 1 0 1 0 2 0 6 0 2 0-90 1 6 0 2 0 2 0 2 0 2 0 1 0 1 0 2 0 2 0 4 0 2 0 2 0 2 0 1 0 1 0 1 0 1 0 1 0 1 0 2 0 2 0 1 0 1 0 1 0 1 0 2 0 1 0 1 0 2 0 1 0 1 0 1 0 1 0 1 0 1 0 1 0 1 0 2 0 1 0 1 0 4 0 1 0 2 0 1 0 2 0 1 0 1 0 2 0 1 0 3 0 2 0 1 0 1 0 7 0 1 0 3 0 8 0 3 0-94 1 8 0 4 0 6 0 6 0 2 0 4 0 2 0 1 0 2 0 3 0 1 0 1 0 2 0 1 0 1 0 5 0 6 0 1 0 2 0 2 0 1 0 12 0 6 0-91 1 6 0 4 0 1 0 1 0 2 0 2 0 2 0 1 0 5 0 2 0 1 0 1 0 2 0 1 0 1 0 1 0 1 0 2 0 1 0 1 0 1 0 1 0 2 0 2 0 1 0 1 0 2 0 1 0 1 0 3 0 1 0 1 0 1 0 2 0 2 0 2 0 2 0 1 0 1 0 2 0 1 0 1 0 2 0 1 0 1 0 4 0 4 0 11 0-94 1 3 0 6 0 8 0 4 0 4 0 6 0 1 0 3 0 4 0 1 0 7 0 1 0 4 0 1 0 4 0 1 0 4 0 3 0 2 0 1 0 1 0 1 0 5 0 6 0 12 0 4 0-96 1 4 0 6 0 1 0 3 0 4 0 4 0 1 0 1 0 2 0 2 0 1 0 1 0 2 0 1 0 1 0 2 0 1 0 1 0 2 0 1 0 1 0 2 0 2 0 1 0 3 0 1 0 1 0 2 0 1 0 1 0 2 0 1 0 2 0 2 0 1 0 2 0 2 0 2 0 1 0 5 0 1 0 4 0 3 0 7 0-92 1 9 0 2 0 6 0 3 0 5 0 1 0 5 0 2 0 1 0 7 0 2 0 1 0 3 0 1 0 6 0 1 0 13 0 3 0 1 0 21 0 8 0-96 1 2 0 2 0 2 0 1 0 1 0 2 0 6 0 1 0 1 0 1 0 1 0 1 0 1 0 2 0 1 0 3 0 1 0 1 0 1 0 1 0 1 0 1 0 2 0 2 0 1 0 1 0 4 0 3 0 1 0 1 0 1 0 1 0 1 0 1 0 1 0 3 0 2 0 1 0 2 0 5 0 1 0 2 0 2 0 2 0 26 0-105 1 14 0 4 0 9 0 8 0 2 0 4 0 4 0 3 0 1 0 1 0 6 0 1 0 8 0 6 0 2 0 7 0-80 1 1 0 5 0 2 0 1 0 9 0 1 0 2 0 1 0 1 0 2 0 1 0 1 0 2 0 2 0 2 0 1 0 1 0 2 0 2 0 1 0 1 0 1 0 1 0 1 0 1 0 3 0 3 0 1 0 1 0 2 0 1 0 1 0 3 0 1 0 2 0 8 0 26 0 12 0 31 0-109 1 15 0 1 0 2 0 12 0 18 0-79 1 1 0 2 0 2 0 1 0 4 0 2 0 3 0 2 0 2 0 1 0 3 0 4 0 1 0 3 0 4 0 1 0 1 0 2 0 2 0 2 0 2 0 2 0 2 0 2 0 1 0 2 0 1 0 2 0 3 0 3 0 10 0 4 0 2 0 2 0 8 0-88 1 12 0 3 0 13 0 1 0 1 0 2 0 1 0 2 0 1 0 2 0 4 0 8 0 4 0 2 0 2 0 8 0 10 0-77 1 1 0 2 0 3 0 9 0 4 0 2 0 2 0 2 0 2 0 2 0 1 0 1 0 2 0 2 0 1 0 1 0 3 0 2 0 1 0 1 0 1 0 2 0 2 0 2 0 6 0 1 0 1 0 4 0 6 0 1 0 5 0 24 0-86 1 2 0 4 0 8 0 3 0 6 0 1 0 2 0 1 0 7 0 2 0 12 0-61 1 1 0 2 0 2 0 3 0 1 0 1 0 2 0 3 0 1 0 1 0 1 0 1 0 2 0 2 0 2 0 1 0 1 0 1 0 1 0 1 0 1 0 1 0 3 0 1 0 1 0 2 0 2 0 2 0 1 0 1 0 4 0 2 0 2 0 3 0 1 0 1 0 1 0 3 0 3 0 2 0 3 0 3 0 6 0 2 0-81 1 1 0 2 0 2 0 2 0 7 0 1 0 1 0 1 0 2 0 4 0 3 0 1 0 1 0 1 0 4 0 1 0 1 0 2 0 1 0 1 0 1 0 1 0 1 0 1 0 1 0 1 0 1 0 1 0 1 0 1 0 2 0 1 0 1 0 3 0 4 0 1 0 4 0 10 0 14 0 30 0" class="sc"/>
<rect x="358.30" y="726.70" width="199.10" height="199.10" fill="none" stroke="#222" stroke-width="1.6"/>
<line x1="424.00" y1="726.70" x2="424.00" y2="925.80" stroke="#111" stroke-width="1.8" stroke-linecap="butt"/>
<line x1="358.30" y1="856.60" x2="557.40" y2="856.60" stroke="#111" stroke-width="1.8" stroke-linecap="butt"/>
<path d="M352.80 925.80H358.30M358.30 925.80V931.30M355.30 910.82H358.30M373.28 925.80V928.80M355.30 902.05H358.30M382.05 925.80V928.80M355.30 895.83H358.30M388.27 925.80V928.80M355.30 891.01H358.30M393.09 925.80V928.80M355.30 887.07H358.30M397.03 925.80V928.80M355.30 883.74H358.30M400.36 925.80V928.80M355.30 880.85H358.30M403.25 925.80V928.80M355.30 878.30H358.30M405.80 925.80V928.80M352.80 876.02H358.30M408.07 925.80V931.30M355.30 861.04H358.30M423.06 925.80V928.80M355.30 852.28H358.30M431.82 925.80V928.80M355.30 846.06H358.30M438.04 925.80V928.80M355.30 841.23H358.30M442.87 925.80V928.80M355.30 837.29H358.30M446.81 925.80V928.80M355.30 833.96H358.30M450.14 925.80V928.80M355.30 831.07H358.30M453.03 925.80V928.80M355.30 828.53H358.30M455.57 925.80V928.80M352.80 826.25H358.30M457.85 925.80V931.30M355.30 811.27H358.30M472.83 925.80V928.80M355.30 802.50H358.30M481.60 925.80V928.80M355.30 796.28H358.30M487.82 925.80V928.80M355.30 791.46H358.30M492.64 925.80V928.80M355.30 787.52H358.30M496.58 925.80V928.80M355.30 784.19H358.30M499.91 925.80V928.80M355.30 781.30H358.30M502.80 925.80V928.80M355.30 778.75H358.30M505.35 925.80V928.80M352.80 776.48H358.30M507.62 925.80V931.30M355.30 761.49H358.30M522.61 925.80V928.80M355.30 752.73H358.30M531.37 925.80V928.80M355.30 746.51H358.30M537.59 925.80V928.80M355.30 741.68H358.30M542.42 925.80V928.80M355.30 737.74H358.30M546.36 925.80V928.80M355.30 734.41H358.30M549.69 925.80V928.80M355.30 731.52H358.30M552.58 925.80V928.80M355.30 728.98H358.30M555.12 925.80V928.80M352.80 726.70H358.30M557.40 925.80V931.30" stroke="#333" stroke-width="1.2" fill="none"/>
<text x="338.30" y="925.80" style="font-size:8px;fill:#444">10<tspan dy="-3" style="font-size:6px">0</tspan></text>
<text x="362.30" y="944.00" style="font-size:8px;fill:#444">10<tspan dy="-3" style="font-size:6px">0</tspan></text>
<text x="338.30" y="879.02" style="font-size:8px;fill:#444">10<tspan dy="-3" style="font-size:6px">1</tspan></text>
<text x="409.07" y="944.00" style="font-size:8px;fill:#444">10<tspan dy="-3" style="font-size:6px">1</tspan></text>
<text x="338.30" y="829.25" style="font-size:8px;fill:#444">10<tspan dy="-3" style="font-size:6px">2</tspan></text>
<text x="458.85" y="944.00" style="font-size:8px;fill:#444">10<tspan dy="-3" style="font-size:6px">2</tspan></text>
<text x="338.30" y="779.48" style="font-size:8px;fill:#444">10<tspan dy="-3" style="font-size:6px">3</tspan></text>
<text x="508.62" y="944.00" style="font-size:8px;fill:#444">10<tspan dy="-3" style="font-size:6px">3</tspan></text>
<text x="338.30" y="734.70" style="font-size:8px;fill:#444">10<tspan dy="-3" style="font-size:6px">4</tspan></text>
<text x="548.40" y="944.00" style="font-size:8px;fill:#444">10<tspan dy="-3" style="font-size:6px">4</tspan></text>
<text x="515.79" y="760.99" style="font-size:31.5px">54</text>
<path d="m752 766 5 6-4 2 39 4-62 2 24 4-18 2 18 0-12 2 8 0 5 0 19 0-68 2 36 0 3 0 5 0 4 0 10 0-32 1 3 0-9 1 9 0 11 0-10 1-26 1 17 0 14 0 11 0-44 1 17 0 3 1 4 0 3 0 5 0 6 0 5 0 1 0 16 0-8 1-38 1 2 0 9 0 1 0 2 0 6 0 2 0 4 0 24 0-43 1 4 0 11 0 9 0-34 1 3 0 1 0 7 0 6 0 9 0 33 0-56 1 1 0 9 0 6 0 10 0-39 1 1 0 8 0 3 0 1 0 2 0 3 0 1 0 2 0 14 0 2 0 6 0 10 0-40 1 13 0-25 1 4 0 4 0 2 0 2 0 5 0 2 0 9 0 5 0 1 0 1 0 7 0 2 0 11 0 3 0-72 1 7 0 15 0 5 0 7 0 18 0 6 0 8 0-56 1 2 0 3 0 3 0 8 0 1 0 7 0 2 0 6 0 2 0 4 0 1 0 1 0 2 0 1 0 3 0 8 0 1 0 8 0-72 1 10 0 13 0 6 0 15 0-39 1 14 0 4 0 2 0 2 0 2 0 2 0 3 0 1 0 3 0 3 0 2 0 2 0 2 0 4 0 6 0 3 0 1 0-46 1 4 0 2 0 6 0 2 0 1 0 5 0 6 0 4 0 4 0 1 0 3 0 3 0 5 0-56 1 1 0 5 0 2 0 1 0 1 0 2 0 3 0 1 0 1 0 1 0 2 0 2 0 2 0 2 0 1 0 1 0 2 0 1 0 4 0 5 0 2 0 7 0 3 0 4 0-81 1 37 0 5 0 2 0 7 0 3 0 1 0 1 0 3 0 2 0-63 1 28 0 1 0 5 0 1 0 3 0 3 0 2 0 1 0 1 0 2 0 1 0 1 0 1 0 1 0 1 0 1 0 2 0 1 0 1 0 2 0 4 0 5 0 1 0 3 0 1 0 4 0 4 0 5 0 7 0 8 0-68 1 4 0 14 0 1 0 5 0 2 0 8 0 2 0 1 0 1 0 20 0 1 0-80 1 11 0 1 0 8 0 1 0 2 0 1 0 1 0 2 0 2 0 1 0 1 0 2 0 2 0 2 0 2 0 2 0 1 0 1 0 1 0 1 0 1 0 1 0 1 0 1 0 2 0 2 0 3 0 1 0 1 0 1 0 1 0 3 0 4 0 4 0-58 1 8 0 2 0 4 0 2 0 6 0 2 0 1 0 3 0 1 0 1 0 2 0 2 0 2 0 2 0 6 0 2 0 3 0 4 0-59 1 2 0 1 0 2 0 1 0 4 0 2 0 1 0 1 0 2 0 2 0 1 0 1 0 1 0 1 0 1 0 1 0 2 0 2 0 2 0 1 0 3 0 1 0 1 0 2 0 2 0 2 0 2 0 2 0 2 0 2 0 1 0 1 0 4 0 2 0 10 0-56 1 4 0 2 0 2 0 2 0 2 0 3 0 1 0 3 0 1 0 2 0 2 0 2 0 2 0 2 0 2 0 3 0 5 0 10 0-71 1 2 0 1 0 8 0 4 0 1 0 1 0 4 0 1 0 1 0 1 0 1 0 1 0 1 0 2 0 2 0 1 0 1 0 2 0 2 0 1 0 1 0 1 0 1 0 1 0 1 0 1 0 2 0 1 0 1 0 1 0 1 0 1 0 2 0 1 0 1 0 1 0 1 0 4 0 4 0 1 0 1 0 1 0 3 0 5 0 8 0 1 0-70 1 2 0 5 0 1 0 1 0 3 0 2 0 3 0 1 0 1 0 1 0 2 0 1 0 1 0 4 0 2 0 4 0 2 0 1 0 3 0 2 0 1 0 9 0 4 0-66 1 2 0 7 0 1 0 2 0 1 0 1 0 2 0 2 0 2 0 1 0 1 0 1 0 1 0 1 0 1 0 1 0 1 0 1 0 1 0 1 0 1 0 2 0 1 0 1 0 1 0 1 0 1 0 1 0 1 0 2 0 1 0 2 0 1 0 1 0 1 0 1 0 2 0 1 0 1 0 2 0 3 0 1 0 4 0 2 0 2 0 4 0 8 0 2 0-84 1 10 0 10 0 2 0 4 0 2 0 1 0 1 0 1 0 1 0 2 0 1 0 1 0 2 0 1 0 1 0 1 0 1 0 3 0 5 0 2 0 6 0 5 0 7 0-68 1 2 0 6 0 2 0 1 0 1 0 4 0 1 0 1 0 1 0 1 0 1 0 1 0 1 0 1 0 1 0 1 0 1 0 1 0 1 0 1 0 1 0 1 0 1 0 1 0 1 0 1 0 1 0 1 0 1 0 1 0 2 0 2 0 2 0 2 0 2 0 1 0 1 0 2 0 2 0 4 0 1 0 6 0 1 0 2 0 1 0-65 1 3 0 2 0 1 0 4 0 1 0 3 0 1 0 1 0 1 0 1 0 2 0 1 0 1 0 2 0 2 0 2 0 1 0 1 0 2 0 1 0 1 0 4 0 2 0 2 0 2 0 2 0 6 0 9 0 3 0-78 1 2 0 2 0 6 0 1 0 5 0 2 0 1 0 1 0 2 0 2 0 1 0 1 0 1 0 1 0 1 0 1 0 1 0 1 0 1 0 1 0 1 0 1 0 1 0 1 0 2 0 1 0 1 0 1 0 1 0 1 0 1 0 1 0 1 0 2 0 1 0 1 0 2 0 1 0 1 0 1 0 1 0 2 0 4 0 1 0 7 0 5 0 25 0-92 1 6 0 4 0 3 0 1 0 2 0 2 0 1 0 1 0 1 0 1 0 2 0 1 0 2 0 1 0 2 0 2 0 1 0 3 0 2 0 2 0 1 0 3 0 3 0 1 0 2 0 3 0-73 1 14 0 4 0 5 0 1 0 2 0 2 0 1 0 1 0 1 0 1 0 2 0 1 0 1 0 1 0 1 0 1 0 1 0 1 0 1 0 1 0 1 0 1 0 1 0 1 0 1 0 2 0 2 0 1 0 1 0 1 0 1 0 1 0 1 0 2 0 1 0 1 0 1 0 1 0 1 0 1 0 1 0 1 0 2 0 2 0 1 0 1 0 2 0 3 0 3 0 6 0-64 1 2 0 2 0 4 0 2 0 2 0 2 0 1 0 1 0 2 0 1 0 1 0 1 0 1 0 1 0 1 0 1 0 1 0 1 0 1 0 2 0 2 0 2 0 2 0 1 0 4 0 1 0 2 0 2 0 6 0 6 0-78 1 11 0 3 0 1 0 1 0 1 0 1 0 1 0 3 0 1 0 1 0 2 0 1 0 1 0 2 0 1 0 1 0 1 0 1 0 1 0 1 0 1 0 1 0 1 0 1 0 1 0 1 0 1 0 1 0 1 0 1 0 1 0 1 0 1 0 1 0 2 0 1 0 1 0 1 0 1 0 1 0 1 0 1 0 1 0 1 0 2 0 1 0 2 0 2 0 2 0 3 0 10 0 1 0-88 1 19 0 3 0 1 0 6 0 1 0 1 0 1 0 2 0 1 0 1 0 1 0 1 0 2 0 1 0 2 0 1 0 1 0 1 0 1 0 1 0 1 0 1 0 1 0 1 0 2 0 2 0 1 0 1 0 2 0 2 0 1 0 1 0 4 0 10 0 13 0-99 1 18 0 6 0 2 0 2 0 1 0 1 0 2 0 1 0 1 0 2 0 1 0 1 0 1 0 1 0 1 0 1 0 1 0 1 0 1 0 1 0 1 0 1 0 1 0 1 0 1 0 1 0 1 0 1 0 1 0 1 0 1 0 1 0 1 0 1 0 1 0 1 0 1 0 1 0 1 0 1 0 1 0 1 0 1 0 1 0 1 0 1 0 1 0 3 0 4 0 2 0 6 0 9 0 2 0-84 1 1 0 7 0 1 0 1 0 1 0 4 0 1 0 1 0 2 0 2 0 2 0 2 0 1 0 1 0 1 0 1 0 1 0 1 0 2 0 1 0 1 0 1 0 1 0 2 0 1 0 1 0 1 0 1 0 1 0 1 0 2 0 2 0 2 0 1 0 1 0 2 0 1 0 1 0 1 0 3 0 2 0 1 0 6 0 3 0-78 1 6 0 2 0 3 0 2 0 3 0 1 0 1 0 1 0 1 0 2 0 1 0 1 0 1 0 1 0 1 0 1 0 1 0 1 0 1 0 1 0 1 0 1 0 1 0 1 0 1 0 1 0 1 0 1 0 1 0 1 0 1 0 1 0 1 0 1 0 1 0 1 0 1 0 1 0 1 0 1 0 1 0 1 0 1 0 1 0 1 0 1 0 2 0 1 0 1 0 1 0 1 0 1 0 1 0 1 0 1 0 2 0 1 0 1 0 3 0 2 0 6 0 1 0 8 0 8 0-84 1 3 0 1 0 2 0 2 0 1 0 1 0 2 0 2 0 1 0 1 0 2 0 1 0 1 0 2 0 1 0 1 0 1 0 1 0 1 0 1 0 1 0 1 0 1 0 1 0 2 0 2 0 1 0 1 0 2 0 2 0 2 0 2 0 1 0 1 0 2 0 1 0 3 0 12 0 14 0-150 1 30 0 10 0 18 0 1 0 3 0 2 0 3 0 1 0 2 0 2 0 2 0 2 0 1 0 1 0 1 0 1 0 1 0 1 0 1 0 1 0 1 0 1 0 1 0 1 0 1 0 1 0 1 0 1 0 1 0 1 0 1 0 1 0 1 0 1 0 1 0 1 0 1 0 1 0 1 0 1 0 1 0 1 0 1 0 1 0 1 0 1 0 1 0 1 0 1 0 1 0 1 0 1 0 1 0 1 0 1 0 1 0 3 0 1 0 2 0 2 0 2 0 1 0-79 1 21 0 1 0 2 0 1 0 1 0 1 0 1 0 1 0 1 0 1 0 1 0 1 0 1 0 2 0 2 0 1 0 1 0 1 0 1 0 2 0 1 0 1 0 1 0 1 0 1 0 1 0 1 0 1 0 1 0 1 0 2 0 1 0 3 0 1 0 1 0 2 0 1 0 3 0 6 0 2 0 2 0 16 0-106 1 9 0 9 0 2 0 3 0 1 0 2 0 2 0 2 0 1 0 1 0 2 0 1 0 1 0 1 0 1 0 1 0 1 0 1 0 1 0 1 0 1 0 1 0 1 0 1 0 1 0 1 0 1 0 1 0 1 0 1 0 1 0 1 0 1 0 1 0 1 0 1 0 1 0 1 0 1 0 1 0 1 0 1 0 1 0 1 0 1 0 1 0 1 0 1 0 1 0 1 0 1 0 1 0 1 0 1 0 1 0 2 0 1 0 2 0 3 0 1 0 19 0-80 1 4 0 1 0 1 0 3 0 1 0 2 0 1 0 1 0 1 0 1 0 2 0 1 0 1 0 2 0 1 0 1 0 1 0 1 0 1 0 1 0 1 0 1 0 1 0 1 0 1 0 1 0 1 0 1 0 1 0 1 0 2 0 1 0 1 0 1 0 1 0 1 0 1 0 1 0 2 0 2 0 1 0 1 0 1 0 6 0 1 0 3 0 4 0 4 0 4 0-128 1 19 0 6 0 4 0 15 0 4 0 1 0 3 0 1 0 1 0 1 0 1 0 1 0 1 0 1 0 1 0 1 0 1 0 1 0 1 0 1 0 1 0 1 0 1 0 1 0 1 0 1 0 1 0 1 0 1 0 1 0 1 0 1 0 1 0 1 0 1 0 1 0 1 0 1 0 1 0 1 0 1 0 1 0 1 0 1 0 1 0 1 0 1 0 1 0 1 0 1 0 1 0 1 0 1 0 1 0 1 0 1 0 1 0 2 0 1 0 1 0 1 0 3 0 1 0 1 0 2 0 2 0 3 0 1 0 2 0-121 1 42 0 6 0 3 0 2 0 4 0 2 0 2 0 1 0 1 0 1 0 1 0 1 0 1 0 1 0 1 0 1 0 1 0 1 0 1 0 1 0 1 0 1 0 1 0 2 0 2 0 1 0 1 0 1 0 1 0 1 0 1 0 1 0 1 0 1 0 1 0 1 0 1 0 1 0 1 0 1 0 1 0 2 0 2 0 1 0 1 0 4 0 7 0 2 0-87 1 14 0 6 0 3 0 1 0 2 0 2 0 1 0 1 0 1 0 1 0 1 0 1 0 1 0 1 0 1 0 1 0 1 0 1 0 1 0 1 0 2 0 1 0 1 0 1 0 1 0 1 0 1 0 1 0 1 0 1 0 1 0 1 0 1 0 1 0 1 0 1 0 1 0 1 0 1 0 1 0 1 0 1 0 1 0 1 0 1 0 1 0 1 0 1 0 1 0 2 0 1 0 1 0 1 0 2 0 1 0 1 0 1 0 3 0 11 0-130 1 39 0 11 0 4 0 4 0 5 0 1 0 2 0 2 0 1 0 1 0 1 0 1 0 1 0 1 0 1 0 1 0 1 0 1 0 1 0 1 0 1 0 1 0 1 0 1 0 1 0 1 0 1 0 1 0 2 0 1 0 1 0 1 0 1 0 2 0 1 0 1 0 1 0 1 0 1 0 1 0 1 0 1 0 1 0 1 0 3 0 1 0 2 0 2 0 4 0-126 1 2 0 4 0 10 0 10 0 24 0 2 0 2 0 1 0 1 0 1 0 1 0 2 0 2 0 2 0 1 0 1 0 1 0 1 0 1 0 1 0 1 0 1 0 1 0 1 0 1 0 1 0 1 0 1 0 1 0 1 0 1 0 1 0 2 0 1 0 1 0 1 0 1 0 1 0 1 0 1 0 1 0 1 0 1 0 1 0 1 0 1 0 1 0 1 0 1 0 1 0 1 0 1 0 1 0 1 0 1 0 1 0 1 0 1 0 1 0 1 0 1 0 1 0 1 0 2 0 1 0 1 0 2 0 2 0 1 0 9 0 1 0 1 0-116 1 16 0 16 0 8 0 8 0 4 0 2 0 2 0 2 0 2 0 1 0 1 0 1 0 1 0 1 0 1 0 1 0 1 0 1 0 1 0 1 0 1 0 1 0 1 0 1 0 1 0 1 0 1 0 1 0 1 0 1 0 1 0 1 0 1 0 1 0 1 0 1 0 1 0 2 0 2 0 2 0 3 0 1 0 2 0 30 0-148 1 50 0 1 0 1 0 4 0 1 0 2 0 1 0 1 0 1 0 1 0 1 0 1 0 1 0 1 0 1 0 1 0 1 0 1 0 1 0 1 0 1 0 1 0 1 0 1 0 1 0 1 0 1 0 1 0 1 0 1 0 1 0 1 0 1 0 1 0 1 0 1 0 1 0 1 0 1 0 1 0 1 0 1 0 1 0 1 0 1 0 1 0 1 0 1 0 1 0 1 0 1 0 1 0 1 0 1 0 1 0 1 0 1 0 1 0 1 0 2 0 2 0 1 0 1 0 5 0 2 0 1 0 4 0 13 0-96 1 12 0 4 0 1 0 2 0 1 0 3 0 2 0 2 0 2 0 2 0 1 0 1 0 1 0 1 0 2 0 1 0 1 0 2 0 2 0 1 0 1 0 2 0 1 0 1 0 2 0 2 0 2 0 1 0 1 0 1 0 1 0 1 0 1 0 2 0 2 0 1 0 1 0 1 0 1 0 2 0 16 0-128 1 12 0 2 0 1 0 23 0 3 0 1 0 2 0 2 0 3 0 1 0 2 0 3 0 1 0 2 0 2 0 1 0 1 0 2 0 1 0 1 0 1 0 1 0 1 0 1 0 1 0 1 0 1 0 1 0 1 0 1 0 1 0 1 0 1 0 1 0 1 0 1 0 1 0 1 0 1 0 1 0 1 0 1 0 1 0 1 0 1 0 1 0 1 0 1 0 1 0 1 0 1 0 1 0 1 0 1 0 1 0 1 0 1 0 1 0 1 0 1 0 1 0 1 0 1 0 1 0 1 0 5 0 6 0-132 1 16 0 26 0 16 0 6 0 2 0 4 0 2 0 2 0 1 0 1 0 2 0 1 0 1 0 1 0 1 0 1 0 1 0 2 0 1 0 1 0 1 0 1 0 1 0 1 0 1 0 1 0 1 0 1 0 1 0 1 0 1 0 1 0 1 0 1 0 1 0 1 0 1 0 1 0 1 0 1 0 1 0 2 0 1 0 4 0 2 0 1 0 3 0 2 0 14 0-118 1 4 0 12 0 1 0 23 0 2 0 2 0 1 0 1 0 1 0 1 0 3 0 1 0 1 0 1 0 1 0 1 0 1 0 1 0 1 0 1 0 2 0 1 0 1 0 1 0 1 0 1 0 1 0 1 0 1 0 1 0 1 0 1 0 1 0 1 0 1 0 1 0 1 0 1 0 1 0 1 0 1 0 1 0 1 0 1 0 1 0 1 0 1 0 1 0 1 0 1 0 1 0 2 0 1 0 1 0 1 0 1 0 2 0 1 0 1 0 4 0 4 0 1 0 1 0-116 1 10 0 34 0 2 0 6 0 1 0 1 0 2 0 2 0 1 0 1 0 1 0 1 0 2 0 1 0 1 0 2 0 2 0 1 0 1 0 1 0 1 0 1 0 1 0 1 0 1 0 2 0 1 0 1 0 1 0 1 0 1 0 1 0 2 0 2 0 4 0 2 0 4 0 6 0-132 1 21 0 13 0 3 0 13 0 6 0 4 0 10 0 1 0 3 0 1 0 1 0 2 0 1 0 1 0 1 0 1 0 1 0 1 0 2 0 1 0 1 0 1 0 1 0 1 0 1 0 1 0 1 0 1 0 1 0 1 0 1 0 1 0 1 0 1 0 1 0 1 0 1 0 1 0 1 0 1 0 1 0 1 0 1 0 1 0 1 0 1 0 1 0 1 0 1 0 1 0 1 0 1 0 1 0 2 0 1 0 1 0 2 0 3 0 1 0 6 0 2 0 2 0 3 0 5 0-112 1 20 0 6 0 1 0 7 0 4 0 1 0 2 0 3 0 3 0 1 0 2 0 1 0 1 0 2 0 2 0 1 0 1 0 1 0 1 0 1 0 1 0 1 0 1 0 2 0 1 0 1 0 2 0 1 0 1 0 2 0 1 0 3 0 1 0 1 0 1 0 2 0 1 0 2 0 3 0 1 0 3 0 1 0 4 0-140 1 2 0 4 0 18 0 24 0 14 0 4 0 2 0 2 0 2 0 1 0 1 0 3 0 1 0 1 0 3 0 1 0 1 0 1 0 1 0 2 0 1 0 1 0 1 0 1 0 1 0 1 0 1 0 1 0 1 0 1 0 1 0 1 0 1 0 1 0 1 0 1 0 1 0 1 0 1 0 1 0 1 0 1 0 1 0 1 0 1 0 1 0 1 0 1 0 1 0 1 0 1 0 1 0 1 0 1 0 1 0 1 0 1 0 1 0 2 0 1 0 2 0 3 0 1 0 1 0 4 0 2 0 2 0 19 0-161 1 56 0 14 0 12 0 2 0 2 0 1 0 1 0 2 0 1 0 1 0 2 0 1 0 1 0 1 0 1 0 2 0 2 0 1 0 1 0 1 0 1 0 1 0 1 0 1 0 1 0 1 0 1 0 2 0 2 0 1 0 1 0 2 0 4 0 2 0 3 0 5 0 1 0 2 0-121 1 6 0 2 0 1 0 1 0 4 0 4 0 5 0 9 0 15 0 3 0 6 0 3 0 1 0 4 0 1 0 1 0 2 0 2 0 1 0 1 0 2 0 1 0 1 0 1 0 1 0 1 0 1 0 1 0 1 0 1 0 1 0 1 0 1 0 1 0 1 0 1 0 1 0 1 0 1 0 1 0 1 0 2 0 1 0 1 0 1 0 1 0 1 0 1 0 2 0 1 0 1 0 2 0 2 0 1 0 3 0 2 0 1 0 1 0 1 0 1 0 1 0 10 0 2 0-148 1 11 0 32 0 28 0 2 0 4 0 1 0 2 0 1 0 1 0 1 0 6 0 2 0 1 0 1 0 1 0 1 0 1 0 1 0 2 0 1 0 1 0 1 0 1 0 2 0 2 0 1 0 1 0 2 0 2 0 2 0 2 0 2 0 2 0 2 0 2 0 8 0 1 0 5 0-142 1 10 0 4 0 2 0 9 0 14 0 1 0 6 0 6 0 6 0 3 0 1 0 6 0 3 0 1 0 1 0 1 0 2 0 1 0 1 0 1 0 1 0 1 0 2 0 1 0 2 0 2 0 1 0 1 0 1 0 1 0 1 0 1 0 1 0 1 0 1 0 1 0 1 0 1 0 1 0 1 0 1 0 1 0 1 0 1 0 1 0 1 0 1 0 1 0 2 0 1 0 1 0 1 0 1 0 1 0 1 0 1 0 1 0 1 0 1 0 1 0 1 0 2 0 2 0 4 0 4 0 2 0 4 0 5 0 1 0 6 0-118 1 15 0 8 0 5 0 8 0 4 0 3 0 3 0 4 0 2 0 3 0 1 0 2 0 1 0 1 0 1 0 1 0 1 0 1 0 2 0 2 0 2 0 1 0 1 0 1 0 1 0 2 0 2 0 1 0 1 0 1 0 1 0 2 0 1 0 1 0 1 0 1 0 1 0 1 0 3 0 3 0 2 0 14 0 2 0-138 1 6 0 7 0 1 0 4 0 3 0 3 0 12 0 4 0 1 0 5 0 2 0 2 0 3 0 2 0 1 0 1 0 7 0 2 0 2 0 1 0 1 0 1 0 1 0 1 0 1 0 1 0 1 0 2 0 2 0 1 0 1 0 1 0 1 0 1 0 1 0 1 0 1 0 1 0 1 0 1 0 1 0 1 0 1 0 1 0 1 0 1 0 1 0 1 0 1 0 1 0 1 0 1 0 1 0 2 0 1 0 1 0 1 0 1 0 1 0 1 0 1 0 1 0 1 0 3 0 1 0 2 0 5 0 7 0 5 0 3 0-117 1 6 0 8 0 12 0 8 0 4 0 4 0 4 0 1 0 1 0 1 0 1 0 2 0 1 0 1 0 1 0 1 0 2 0 4 0 2 0 1 0 1 0 2 0 1 0 1 0 1 0 1 0 1 0 1 0 1 0 1 0 1 0 1 0 2 0 4 0 1 0 1 0 1 0 2 0 1 0 2 0 1 0 7 0-124 1 4 0 19 0 11 0 2 0 6 0 2 0 4 0 1 0 4 0 1 0 3 0 1 0 2 0 1 0 1 0 2 0 2 0 2 0 1 0 1 0 1 0 1 0 1 0 1 0 1 0 1 0 2 0 1 0 1 0 1 0 1 0 1 0 1 0 2 0 2 0 1 0 1 0 1 0 1 0 1 0 1 0 1 0 1 0 1 0 1 0 1 0 1 0 1 0 1 0 2 0 1 0 2 0 1 0 3 0 1 0 1 0 1 0 2 0 2 0 3 0 1 0 2 0 1 0 3 0 6 0-144 1 16 0 17 0 27 0 10 0 4 0 3 0 4 0 1 0 2 0 8 0 2 0 1 0 1 0 1 0 1 0 2 0 1 0 1 0 1 0 1 0 1 0 1 0 2 0 1 0 1 0 1 0 1 0 1 0 1 0 3 0 1 0 4 0 1 0 3 0 2 0 10 0-126 1 2 0 3 0 5 0 6 0 1 0 7 0 2 0 2 0 2 0 2 0 1 0 3 0 7 0 3 0 2 0 4 0 4 0 1 0 1 0 1 0 1 0 1 0 1 0 4 0 2 0 1 0 1 0 1 0 1 0 1 0 1 0 1 0 1 0 2 0 1 0 1 0 1 0 1 0 1 0 1 0 1 0 1 0 2 0 1 0 1 0 2 0 2 0 2 0 2 0 2 0 1 0 1 0 1 0 1 0 2 0 1 0 1 0 1 0 1 0 1 0 1 0 1 0 1 0 4 0 2 0 5 0 5 0-116 1 1 0 8 0 3 0 24 0 8 0 6 0 1 0 1 0 4 0 1 0 3 0 1 0 2 0 1 0 2 0 4 0 2 0 2 0 1 0 1 0 2 0 3 0 3 0 2 0 2 0 2 0 6 0 8 0 4 0 3 0 5 0-133 1 5 0 1 0 5 0 14 0 4 0 4 0 4 0 1 0 2 0 6 0 1 0 8 0 4 0 4 0 1 0 1 0 2 0 1 0 1 0 1 0 1 0 1 0 1 0 1 0 1 0 1 0 1 0 1 0 1 0 2 0 2 0 2 0 1 0 1 0 1 0 1 0 1 0 1 0 1 0 1 0 1 0 1 0 1 0 1 0 1 0 1 0 1 0 1 0 1 0 1 0 3 0 1 0 2 0 1 0 1 0 1 0 1 0 2 0 2 0 2 0 2 0 2 0 1 0 1 0 3 0 3 0 4 0 18 0-158 1 44 0 10 0 4 0 5 0 7 0 4 0 2 0 4 0 1 0 1 0 2 0 2 0 2 0 1 0 1 0 2 0 1 0 1 0 3 0 1 0 1 0 1 0 1 0 1 0 4 0 1 0 3 0 3 0 1 0 4 0 3 0 19 0-144 1 4 0 2 0 12 0 2 0 14 0 4 0 5 0 1 0 3 0 1 0 2 0 2 0 2 0 1 0 2 0 1 0 2 0 1 0 2 0 1 0 2 0 2 0 2 0 1 0 1 0 3 0 1 0 1 0 1 0 4 0 2 0 2 0 1 0 1 0 1 0 1 0 1 0 1 0 1 0 1 0 1 0 1 0 1 0 1 0 1 0 1 0 1 0 1 0 1 0 1 0 1 0 1 0 2 0 1 0 1 0 1 0 1 0 1 0 1 0 1 0 1 0 1 0 5 0 3 0 5 0 1 0 3 0 3 0 8 0-135 1 14 0 1 0 17 0 2 0 20 0 3 0 2 0 13 0 4 0 2 0 5 0 1 0 2 0 1 0 1 0 2 0 2 0 4 0 2 0 1 0 11 0 1 0 1 0 3 0-123 1 3 0 1 0 2 0 1 0 9 0 1 0 3 0 5 0 3 0 3 0 1 0 5 0 1 0 8 0 3 0 2 0 1 0 2 0 2 0 2 0 3 0 1 0 2 0 2 0 2 0 2 0 2 0 2 0 1 0 1 0 3 0 1 0 1 0 1 0 2 0 2 0 2 0 1 0 1 0 1 0 1 0 1 0 1 0 1 0 1 0 1 0 1 0 1 0 1 0 1 0 2 0 1 0 1 0 1 0 1 0 1 0 1 0 1 0 1 0 1 0 1 0 1 0 1 0 1 0 1 0 1 0 2 0 2 0 1 0 1 0 1 0 2 0 1 0 1 0 2 0-125 1 9 0 15 0 7 0 5 0 8 0 2 0 5 0 3 0 6 0 2 0 2 0 3 0 1 0 8 0 2 0 1 0 1 0 1 0 1 0 3 0 1 0 1 0 1 0 2 0 3 0 4 0 1 0 1 0 7 0 1 0 1 0 4 0 1 0 1 0 2 0 4 0-118 1 4 0 2 0 12 0 1 0 3 0 2 0 9 0 1 0 4 0 1 0 1 0 2 0 4 0 2 0 2 0 8 0 2 0 2 0 1 0 1 0 1 0 1 0 2 0 1 0 1 0 1 0 2 0 3 0 1 0 1 0 1 0 1 0 2 0 2 0 1 0 1 0 2 0 1 0 1 0 1 0 1 0 2 0 1 0 1 0 1 0 1 0 2 0 1 0 1 0 2 0 1 0 2 0 1 0 2 0 6 0 2 0 3 0 7 0 6 0 4 0-144 1 8 0 18 0 9 0 5 0 6 0 14 0 10 0 2 0 4 0 2 0 1 0 2 0 1 0 6 0 2 0 1 0 1 0 6 0 2 0 2 0 1 0 1 0 2 0 2 0 2 0 2 0 5 0 1 0 32 0-156 1 18 0 8 0 2 0 2 0 1 0 1 0 4 0 4 0 2 0 2 0 2 0 1 0 1 0 4 0 3 0 1 0 2 0 6 0 2 0 2 0 2 0 1 0 2 0 1 0 1 0 1 0 2 0 2 0 2 0 2 0 1 0 1 0 2 0 1 0 1 0 2 0 2 0 1 0 1 0 2 0 2 0 1 0 1 0 1 0 1 0 2 0 1 0 1 0 2 0 2 0 1 0 3 0 1 0 1 0 1 0 1 0 1 0 1 0 1 0 1 0 2 0 2 0 1 0 4 0 1 0 2 0 20 0 25 0-173 1 31 0 2 0 2 0 1 0 2 0 6 0 5 0 1 0 10 0 2 0 2 0 4 0 6 0 3 0 1 0 2 0 1 0 1 0 3 0 1 0 1 0 1 0 4 0 2 0 1 0 9 0 2 0 10 0 3 0 4 0 18 0 1 0-142 1 2 0 2 0 2 0 14 0 6 0 3 0 1 0 2 0 2 0 6 0 4 0 2 0 3 0 6 0 1 0 2 0 2 0 1 0 1 0 1 0 1 0 1 0 1 0 2 0 2 0 3 0 2 0 3 0 2 0 1 0 1 0 1 0 1 0 2 0 1 0 1 0 1 0 1 0 1 0 1 0 1 0 1 0 2 0 1 0 1 0 1 0 1 0 1 0 1 0 1 0 1 0 1 0 1 0 2 0 6 0 4 0 2 0 2 0 26 0-152 1 4 0 7 0 15 0 2 0 4 0 6 0 14 0 6 0 4 0 3 0 3 0 2 0 2 0 7 0 2 0 2 0 1 0 2 0 1 0 3 0 4 0 1 0 5 0 1 0 1 0 3 0 1 0 2 0 2 0 2 0 2 0 2 0 6 0 2 0 8 0 5 0-139 1 4 0 14 0 4 0 5 0 1 0 4 0 1 0 2 0 1 0 1 0 1 0 3 0 1 0 2 0 4 0 2 0 1 0 1 0 2 0 2 0 3 0 1 0 1 0 1 0 2 0 2 0 2 0 1 0 3 0 1 0 1 0 2 0 2 0 1 0 1 0 1 0 1 0 1 0 1 0 4 0 2 0 1 0 1 0 1 0 1 0 1 0 1 0 2 0 1 0 1 0 1 0 1 0 2 0 1 0 1 0 1 0 1 0 1 0 1 0 1 0 1 0 1 0 2 0 3 0 2 0 1 0 1 0 2 0 8 0 1 0 1 0 2 0 1 0 7 0 21 0 7 0-174 1 28 0 5 0 8 0 6 0 1 0 4 0 4 0 8 0 6 0 4 0 4 0 4 0 4 0 2 0 1 0 1 0 4 0 4 0 2 0 1 0 1 0 2 0 1 0 3 0 4 0 2 0 4 0 2 0 1 0 5 0 7 0 15 0-139 1 7 0 1 0 9 0 2 0 8 0 2 0 6 0 2 0 1 0 1 0 1 0 1 0 1 0 3 0 1 0 1 0 1 0 1 0 2 0 4 0 2 0 4 0 1 0 1 0 2 0 1 0 1 0 1 0 1 0 1 0 1 0 2 0 1 0 1 0 1 0 1 0 2 0 2 0 2 0 1 0 1 0 2 0 1 0 1 0 1 0 1 0 1 0 1 0 1 0 1 0 2 0 1 0 1 0 2 0 1 0 1 0 1 0 1 0 1 0 1 0 2 0 2 0 2 0 2 0 12 0 4 0-112 1 8 0 4 0 6 0 3 0 3 0 2 0 1 0 1 0 2 0 2 0 6 0 2 0 2 0 2 0 2 0 2 0 2 0 2 0 2 0 1 0 3 0 4 0 1 0 1 0 2 0 4 0 2 0 1 0 1 0 4 0 2 0 1 0 2 0 1 0 1 0 1 0 1 0 5 0 1 0 1 0 12 0-132 1 4 0 5 0 1 0 16 0 8 0 1 0 1 0 2 0 1 0 1 0 1 0 3 0 2 0 3 0 1 0 1 0 1 0 2 0 2 0 2 0 1 0 1 0 2 0 1 0 1 0 2 0 1 0 1 0 2 0 2 0 1 0 1 0 1 0 1 0 1 0 1 0 2 0 4 0 2 0 1 0 1 0 1 0 1 0 1 0 1 0 1 0 1 0 1 0 1 0 1 0 1 0 2 0 2 0 1 0 2 0 1 0 1 0 1 0 2 0 2 0 3 0 1 0 1 0 1 0 4 0 2 0 1 0 2 0 5 0 1 0 3 0-118 1 14 0 2 0 10 0 6 0 2 0 2 0 1 0 3 0 2 0 1 0 1 0 1 0 3 0 2 0 4 0 2 0 3 0 1 0 2 0 2 0 2 0 1 0 1 0 1 0 1 0 1 0 1 0 2 0 2 0 2 0 1 0 1 0 3 0 1 0 2 0 1 0 1 0 2 0 1 0 2 0 1 0 1 0 1 0 10 0-126 1 1 0 2 0 1 0 8 0 5 0 1 0 4 0 6 0 8 0 2 0 2 0 4 0 2 0 3 0 1 0 1 0 1 0 2 0 1 0 1 0 1 0 1 0 1 0 1 0 1 0 1 0 2 0 1 0 1 0 2 0 1 0 1 0 1 0 1 0 2 0 2 0 1 0 1 0 2 0 1 0 1 0 2 0 1 0 1 0 2 0 1 0 1 0 1 0 1 0 1 0 1 0 1 0 1 0 2 0 2 0 1 0 1 0 1 0 1 0 2 0 1 0 1 0 1 0 1 0 1 0 1 0 2 0 1 0 3 0 2 0 2 0 3 0 9 0 2 0-126 1 16 0 6 0 4 0 4 0 1 0 1 0 6 0 1 0 5 0 6 0 2 0 2 0 4 0 4 0 2 0 4 0 2 0 4 0 1 0 1 0 1 0 1 0 4 0 1 0 1 0 2 0 2 0 2 0 2 0 1 0 2 0 3 0 6 0 3 0 2 0 8 0 7 0-126 1 2 0 6 0 1 0 3 0 7 0 2 0 1 0 2 0 1 0 1 0 4 0 2 0 4 0 2 0 2 0 1 0 3 0 2 0 2 0 1 0 1 0 1 0 1 0 1 0 1 0 1 0 1 0 1 0 3 0 1 0 1 0 2 0 2 0 2 0 2 0 2 0 1 0 1 0 2 0 1 0 1 0 1 0 1 0 2 0 1 0 1 0 1 0 1 0 1 0 1 0 1 0 1 0 1 0 1 0 1 0 1 0 1 0 1 0 2 0 1 0 1 0 1 0 1 0 2 0 1 0 1 0 2 0 2 0 4 0 5 0 3 0 2 0 2 0 28 0-151 1 7 0 4 0 14 0 7 0 1 0 5 0 3 0 2 0 2 0 1 0 1 0 2 0 1 0 1 0 1 0 1 0 1 0 1 0 4 0 2 0 2 0 2 0 2 0 1 0 3 0 2 0 4 0 2 0 2 0 1 0 5 0 1 0 1 0 3 0 1 0 2 0 2 0 2 0 2 0 10 0 1 0 3 0 4 0-127 1 7 0 16 0 2 0 1 0 2 0 4 0 3 0 2 0 1 0 1 0 1 0 1 0 5 0 1 0 1 0 1 0 1 0 1 0 1 0 1 0 2 0 2 0 2 0 1 0 1 0 2 0 1 0 1 0 2 0 1 0 1 0 1 0 1 0 1 0 1 0 1 0 1 0 2 0 2 0 1 0 1 0 2 0 2 0 2 0 1 0 1 0 1 0 1 0 4 0 1 0 1 0 1 0 1 0 2 0 1 0 1 0 2 0 1 0 1 0 1 0 1 0 4 0 2 0 1 0 1 0 2 0 7 0 1 0 14 0-127 1 11 0 6 0 4 0 10 0 6 0 1 0 1 0 2 0 2 0 2 0 4 0 2 0 1 0 1 0 4 0 1 0 2 0 3 0 1 0 2 0 1 0 1 0 1 0 1 0 1 0 1 0 1 0 1 0 1 0 2 0 1 0 1 0 2 0 2 0 1 0 1 0 1 0 1 0 2 0 1 0 1 0 2 0 1 0 7 0 3 0 4 0 3 0 6 0 2 0-136 1 4 0 8 0 2 0 6 0 1 0 1 0 2 0 3 0 1 0 1 0 5 0 1 0 1 0 1 0 1 0 4 0 1 0 1 0 3 0 1 0 2 0 2 0 2 0 2 0 1 0 1 0 2 0 1 0 1 0 2 0 1 0 1 0 1 0 1 0 2 0 1 0 1 0 1 0 1 0 2 0 1 0 1 0 1 0 3 0 1 0 1 0 2 0 2 0 1 0 1 0 2 0 2 0 1 0 1 0 2 0 1 0 1 0 2 0 2 0 2 0 1 0 1 0 1 0 1 0 1 0 1 0 1 0 1 0 2 0 2 0 1 0 2 0 1 0 2 0 14 0 2 0-110 1 1 0 2 0 6 0 1 0 2 0 4 0 1 0 3 0 3 0 1 0 2 0 2 0 2 0 4 0 1 0 1 0 2 0 1 0 5 0 4 0 1 0 3 0 4 0 2 0 1 0 3 0 2 0 2 0 4 0 7 0 7 0 1 0 1 0 1 0 5 0 14 0-136 1 4 0 6 0 12 0 2 0 2 0 4 0 3 0 3 0 2 0 4 0 2 0 1 0 1 0 2 0 2 0 1 0 1 0 2 0 1 0 1 0 1 0 1 0 2 0 1 0 1 0 1 0 1 0 1 0 1 0 1 0 1 0 1 0 1 0 1 0 1 0 2 0 2 0 1 0 1 0 1 0 1 0 1 0 1 0 1 0 1 0 1 0 1 0 2 0 1 0 1 0 2 0 1 0 1 0 1 0 1 0 1 0 1 0 1 0 1 0 1 0 1 0 2 0 1 0 1 0 1 0 1 0 4 0 1 0 1 0 4 0 2 0 4 0 2 0 3 0 2 0 11 0 10 0-152 1 8 0 2 0 5 0 5 0 5 0 5 0 4 0 2 0 4 0 2 0 1 0 1 0 2 0 6 0 2 0 2 0 2 0 2 0 1 0 1 0 2 0 2 0 1 0 1 0 2 0 2 0 2 0 2 0 3 0 1 0 1 0 2 0 3 0 2 0 1 0 1 0 1 0 1 0 2 0 1 0 1 0 2 0 1 0 1 0 2 0 2 0 2 0 1 0 1 0 4 0 7 0 7 0-124 1 5 0 1 0 2 0 1 0 4 0 1 0 4 0 3 0 1 0 1 0 1 0 2 0 1 0 1 0 2 0 1 0 1 0 3 0 1 0 2 0 2 0 1 0 1 0 2 0 2 0 2 0 1 0 1 0 1 0 1 0 1 0 1 0 1 0 1 0 1 0 1 0 1 0 1 0 1 0 1 0 1 0 1 0 1 0 1 0 1 0 1 0 1 0 1 0 2 0 1 0 1 0 1 0 1 0 1 0 1 0 1 0 1 0 2 0 1 0 1 0 1 0 1 0 1 0 1 0 1 0 1 0 1 0 1 0 1 0 1 0 1 0 1 0 1 0 1 0 2 0 2 0 1 0 1 0 1 0 1 0 2 0 2 0 1 0 1 0 1 0 1 0 1 0 1 0 8 0 1 0 5 0-124 1 6 0 12 0 7 0 1 0 4 0 5 0 1 0 4 0 2 0 1 0 1 0 4 0 1 0 5 0 3 0 1 0 1 0 1 0 1 0 1 0 2 0 1 0 1 0 1 0 1 0 1 0 3 0 3 0 1 0 2 0 4 0 3 0 1 0 2 0 1 0 1 0 1 0 1 0 2 0 4 0 2 0 2 0 2 0 2 0 4 0 3 0-121 1 2 0 2 0 2 0 5 0 1 0 8 0 1 0 1 0 2 0 1 0 1 0 1 0 1 0 2 0 1 0 1 0 2 0 1 0 1 0 2 0 1 0 1 0 1 0 1 0 1 0 1 0 1 0 1 0 1 0 1 0 1 0 1 0 1 0 1 0 1 0 1 0 2 0 1 0 1 0 1 0 1 0 1 0 1 0 1 0 1 0 1 0 1 0 1 0 1 0 1 0 1 0 1 0 1 0 1 0 1 0 1 0 1 0 1 0 1 0 1 0 1 0 2 0 2 0 2 0 1 0 1 0 1 0 1 0 1 0 1 0 1 0 1 0 2 0 1 0 1 0 2 0 1 0 1 0 1 0 1 0 3 0 2 0 1 0 4 0 2 0 3 0 1 0 4 0 1 0 1 0 6 0-123 1 9 0 4 0 4 0 2 0 2 0 4 0 1 0 2 0 3 0 1 0 1 0 2 0 2 0 1 0 5 0 1 0 3 0 2 0 2 0 1 0 3 0 5 0 3 0 1 0 1 0 1 0 1 0 1 0 1 0 2 0 1 0 3 0 2 0 2 0 2 0 1 0 1 0 2 0 2 0 2 0 2 0 2 0 1 0 3 0 4 0 1 0 3 0 1 0 1 0-116 1 2 0 1 0 5 0 4 0 2 0 3 0 1 0 2 0 2 0 2 0 2 0 3 0 1 0 4 0 2 0 2 0 2 0 2 0 1 0 1 0 1 0 1 0 1 0 1 0 1 0 1 0 1 0 1 0 1 0 1 0 1 0 1 0 1 0 1 0 1 0 1 0 1 0 1 0 1 0 1 0 2 0 1 0 1 0 2 0 1 0 1 0 2 0 1 0 1 0 1 0 1 0 1 0 1 0 2 0 1 0 1 0 1 0 2 0 1 0 1 0 1 0 2 0 2 0 1 0 1 0 1 0 1 0 2 0 1 0 1 0 1 0 1 0 1 0 1 0 2 0 2 0 2 0 2 0 3 0 3 0 5 0-110 1 3 0 4 0 5 0 3 0 4 0 2 0 1 0 1 0 2 0 2 0 2 0 2 0 2 0 2 0 2 0 2 0 1 0 1 0 4 0 2 0 2 0 4 0 2 0 3 0 1 0 2 0 2 0 4 0 2 0 5 0 1 0 2 0 2 0 1 0 1 0 2 0 2 0 6 0 2 0 8 0-116 1 1 0 3 0 2 0 2 0 2 0 3 0 5 0 2 0 3 0 1 0 2 0 1 0 2 0 1 0 1 0 1 0 2 0 1 0 1 0 1 0 1 0 1 0 1 0 1 0 1 0 1 0 1 0 2 0 2 0 2 0 2 0 2 0 1 0 1 0 1 0 1 0 1 0 1 0 1 0 1 0 2 0 1 0 1 0 1 0 1 0 2 0 1 0 1 0 2 0 1 0 1 0 2 0 2 0 1 0 1 0 1 0 1 0 1 0 1 0 1 0 2 0 1 0 1 0 1 0 1 0 1 0 2 0 1 0 1 0 2 0 4 0 1 0 1 0 2 0 2 0 1 0 5 0 8 0 1 0 5 0-130 1 12 0 2 0 1 0 5 0 2 0 4 0 2 0 3 0 1 0 4 0 4 0 2 0 4 0 3 0 1 0 3 0 1 0 4 0 3 0 2 0 1 0 1 0 1 0 2 0 4 0 3 0 1 0 2 0 1 0 1 0 1 0 1 0 2 0 2 0 3 0 5 0 4 0 2 0 12 0 2 0 28 0-142 1 1 0 3 0 1 0 3 0 5 0 3 0 2 0 8 0 1 0 1 0 1 0 1 0 2 0 1 0 1 0 2 0 1 0 1 0 2 0 1 0 1 0 1 0 1 0 1 0 1 0 1 0 1 0 1 0 1 0 1 0 1 0 1 0 1 0 1 0 1 0 2 0 1 0 2 0 1 0 1 0 1 0 1 0 1 0 1 0 1 0 2 0 1 0 1 0 1 0 1 0 1 0 1 0 1 0 1 0 1 0 1 0 1 0 1 0 2 0 1 0 1 0 1 0 1 0 2 0 2 0 2 0 1 0 1 0 1 0 1 0 2 0 2 0 2 0 1 0 1 0 2 0 2 0 7 0 3 0 1 0 1 0 26 0-140 1 2 0 6 0 1 0 3 0 2 0 2 0 2 0 3 0 3 0 4 0 2 0 3 0 1 0 3 0 1 0 2 0 2 0 1 0 1 0 2 0 2 0 4 0 1 0 1 0 1 0 1 0 1 0 1 0 2 0 2 0 8 0 2 0 1 0 1 0 2 0 2 0 2 0 2 0 1 0 1 0 5 0 2 0 3 0 10 0 20 0-128 1 2 0 2 0 4 0 2 0 4 0 4 0 1 0 1 0 2 0 2 0 2 0 1 0 1 0 1 0 3 0 1 0 1 0 1 0 1 0 2 0 1 0 1 0 2 0 2 0 1 0 1 0 1 0 1 0 1 0 1 0 1 0 1 0 1 0 1 0 2 0 1 0 1 0 2 0 1 0 1 0 1 0 1 0 1 0 1 0 1 0 1 0 1 0 1 0 1 0 2 0 1 0 1 0 1 0 1 0 1 0 2 0 1 0 1 0 1 0 1 0 2 0 2 0 3 0 1 0 1 0 1 0 2 0 3 0 4 0 3 0 8 0-116 1 1 0 14 0 1 0 4 0 4 0 2 0 4 0 5 0 1 0 1 0 1 0 2 0 1 0 3 0 2 0 1 0 1 0 2 0 3 0 2 0 1 0 1 0 1 0 1 0 1 0 2 0 2 0 1 0 2 0 3 0 1 0 1 0 2 0 8 0 6 0 2 0 2 0 3 0 3 0 4 0 6 0 2 0 7 0-119 1 1 0 1 0 4 0 1 0 1 0 2 0 1 0 1 0 1 0 3 0 2 0 2 0 2 0 1 0 1 0 4 0 1 0 1 0 1 0 1 0 4 0 2 0 1 0 1 0 1 0 1 0 1 0 1 0 1 0 1 0 1 0 1 0 1 0 1 0 2 0 2 0 1 0 1 0 1 0 1 0 1 0 1 0 1 0 1 0 1 0 1 0 1 0 1 0 2 0 2 0 1 0 1 0 1 0 1 0 1 0 1 0 2 0 1 0 1 0 2 0 2 0 2 0 2 0 1 0 1 0 1 0 1 0 1 0 1 0 1 0 1 0 2 0 1 0 1 0 2 0 2 0 2 0 4 0 4 0 7 0-114 1 1 0 2 0 6 0 2 0 4 0 3 0 4 0 1 0 3 0 1 0 2 0 2 0 1 0 1 0 2 0 1 0 2 0 1 0 2 0 1 0 1 0 2 0 1 0 5 0 2 0 2 0 2 0 1 0 1 0 2 0 1 0 3 0 1 0 1 0 2 0 2 0 2 0 4 0 4 0 2 0 6 0 1 0 3 0 6 0 14 0-114 1 10 0 4 0 1 0 1 0 2 0 1 0 3 0 2 0 1 0 1 0 1 0 1 0 1 0 1 0 1 0 1 0 1 0 1 0 1 0 1 0 2 0 1 0 1 0 1 0 1 0 1 0 1 0 1 0 1 0 1 0 1 0 2 0 1 0 1 0 2 0 2 0 2 0 1 0 1 0 1 0 1 0 1 0 1 0 2 0 1 0 1 0 1 0 1 0 1 0 1 0 1 0 1 0 1 0 1 0 2 0 2 0 1 0 1 0 1 0 1 0 2 0 1 0 1 0 1 0 1 0 4 0 2 0 2 0 2 0 6 0 10 0-121 1 7 0 10 0 4 0 1 0 3 0 2 0 2 0 4 0 3 0 1 0 1 0 1 0 1 0 1 0 1 0 2 0 1 0 2 0 3 0 5 0 2 0 1 0 2 0 1 0 1 0 1 0 4 0 4 0 2 0 3 0 3 0 2 0 1 0 7 0 8 0 4 0 42 0-144 1 2 0 10 0 2 0 3 0 3 0 2 0 2 0 2 0 1 0 1 0 1 0 1 0 1 0 1 0 2 0 2 0 1 0 1 0 1 0 1 0 1 0 1 0 1 0 1 0 1 0 1 0 1 0 1 0 1 0 1 0 2 0 2 0 1 0 1 0 1 0 1 0 1 0 1 0 2 0 1 0 1 0 1 0 1 0 1 0 1 0 1 0 1 0 2 0 1 0 1 0 1 0 1 0 1 0 1 0 4 0 2 0 1 0 1 0 2 0 2 0 2 0 1 0 2 0 1 0 1 0 2 0 1 0 2 0 2 0 2 0 6 0-108 1 2 0 10 0 3 0 3 0 4 0 1 0 4 0 3 0 2 0 2 0 3 0 2 0 1 0 1 0 1 0 1 0 3 0 2 0 3 0 3 0 2 0 2 0 2 0 6 0 1 0 3 0 1 0 2 0 1 0 2 0 2 0 2 0 5 0 1 0 6 0-96 1 2 0 2 0 6 0 2 0 2 0 2 0 1 0 3 0 1 0 1 0 1 0 1 0 1 0 1 0 3 0 2 0 1 0 1 0 1 0 1 0 1 0 1 0 1 0 2 0 2 0 1 0 1 0 1 0 1 0 1 0 1 0 1 0 1 0 1 0 1 0 2 0 2 0 2 0 2 0 1 0 1 0 1 0 1 0 1 0 1 0 2 0 1 0 1 0 2 0 1 0 1 0 3 0 1 0 1 0 1 0 1 0 1 0 2 0 1 0 1 0 2 0 2 0 2 0 2 0 2 0 4 0 1 0 1 0 16 0-114 1 10 0 2 0 2 0 3 0 3 0 2 0 2 0 1 0 4 0 1 0 4 0 2 0 1 0 1 0 2 0 2 0 2 0 2 0 1 0 1 0 1 0 5 0 3 0 2 0 1 0 2 0 4 0 8 0 5 0 1 0 1 0 4 0 2 0 3 0 1 0 23 0-118 1 1 0 1 0 1 0 5 0 2 0 4 0 4 0 4 0 2 0 2 0 4 0 2 0 1 0 1 0 2 0 1 0 1 0 1 0 1 0 1 0 1 0 1 0 1 0 2 0 2 0 1 0 1 0 2 0 1 0 1 0 2 0 2 0 1 0 1 0 1 0 1 0 1 0 3 0 1 0 1 0 2 0 1 0 1 0 2 0 1 0 2 0 1 0 3 0 1 0 2 0 1 0 1 0 2 0 1 0 3 0 1 0 4 0 1 0 2 0 2 0 1 0 2 0 19 0 22 0-146 1 6 0 1 0 1 0 6 0 7 0 2 0 3 0 2 0 1 0 1 0 2 0 2 0 2 0 4 0 1 0 1 0 2 0 1 0 1 0 6 0 2 0 4 0 6 0 3 0 2 0 3 0 3 0 3 0 6 0 8 0 4 0 16 0-112 1 1 0 1 0 3 0 1 0 6 0 2 0 2 0 6 0 2 0 1 0 1 0 1 0 1 0 2 0 1 0 2 0 1 0 1 0 1 0 2 0 1 0 1 0 1 0 1 0 1 0 1 0 1 0 1 0 2 0 2 0 1 0 3 0 2 0 2 0 1 0 1 0 2 0 1 0 1 0 1 0 1 0 1 0 1 0 2 0 1 0 1 0 2 0 1 0 1 0 1 0 1 0 2 0 4 0 2 0 2 0 2 0 2 0 45 0-137 1 6 0 2 0 2 0 12 0 2 0 2 0 4 0 2 0 1 0 1 0 2 0 1 0 1 0 3 0 3 0 1 0 1 0 2 0 3 0 1 0 8 0 4 0 4 0 2 0 4 0 2 0 2 0 20 0 24 0-122 1 2 0 2 0 6 0 2 0 2 0 1 0 1 0 4 0 2 0 1 0 1 0 4 0 2 0 1 0 1 0 1 0 1 0 2 0 1 0 1 0 1 0 1 0 2 0 1 0 1 0 2 0 2 0 2 0 2 0 1 0 1 0 2 0 2 0 2 0 1 0 2 0 1 0 2 0 5 0 3 0 1 0 1 0 1 0 1 0 2 0 1 0 3 0 2 0 5 0 3 0 1 0 3 0 2 0 8 0 4 0-106 1 4 0 2 0 3 0 1 0 6 0 3 0 1 0 2 0 1 0 1 0 4 0 2 0 1 0 3 0 1 0 4 0 3 0 2 0 2 0 2 0 1 0 2 0 2 0 1 0 4 0 1 0 9 0 2 0 1 0 12 0 21 0-110 1 1 0 3 0 4 0 2 0 2 0 2 0 3 0 3 0 1 0 1 0 1 0 1 0 2 0 2 0 1 0 1 0 1 0 1 0 1 0 1 0 1 0 1 0 1 0 1 0 1 0 1 0 2 0 1 0 1 0 1 0 1 0 1 0 1 0 1 0 2 0 1 0 1 0 1 0 2 0 1 0 1 0 1 0 1 0 5 0 4 0 1 0 2 0 2 0 4 0 2 0 2 0 1 0 1 0 6 0 2 0 1 0 1 0-93 1 1 0 2 0 2 0 4 0 1 0 6 0 9 0 4 0 2 0 2 0 2 0 3 0 1 0 2 0 2 0 2 0 2 0 2 0 1 0 1 0 3 0 2 0 3 0 16 0-75 1 1 0 6 0 2 0 4 0 1 0 1 0 2 0 1 0 3 0 1 0 1 0 2 0 2 0 2 0 1 0 1 0 1 0 1 0 2 0 2 0 2 0 1 0 1 0 2 0 1 0 3 0 1 0 1 0 2 0 1 0 1 0 1 0 1 0 2 0 2 0 4 0 1 0 1 0 2 0 2 0 2 0 3 0 1 0 2 0 2 0 2 0 1 0 1 0 12 0 4 0 4 0 2 0 5 0 1 0-111 1 9 0 3 0 1 0 6 0 2 0 2 0 4 0 6 0 2 0 1 0 3 0 3 0 2 0 1 0 6 0 4 0 3 0 1 0 2 0 4 0 25 0 9 0-94 1 1 0 1 0 1 0 5 0 2 0 1 0 1 0 4 0 2 0 2 0 4 0 1 0 1 0 2 0 1 0 1 0 2 0 2 0 1 0 1 0 1 0 1 0 3 0 1 0 1 0 2 0 1 0 1 0 1 0 2 0 2 0 2 0 1 0 3 0 6 0 1 0 1 0 1 0 1 0 2 0 4 0 2 0 3 0 1 0 1 0 5 0 2 0-92 1 3 0 1 0 6 0 2 0 17 0 1 0 4 0 2 0 4 0 2 0 3 0 3 0 4 0 1 0 2 0 1 0 2 0 12 0 3 0 5 0-80 1 1 0 1 0 1 0 1 0 2 0 1 0 4 0 1 0 1 0 1 0 1 0 1 0 1 0 1 0 1 0 1 0 1 0 1 0 2 0 1 0 3 0 1 0 1 0 2 0 1 0 1 0 1 0 1 0 1 0 1 0 1 0 1 0 2 0 1 0 1 0 1 0 1 0 1 0 1 0 2 0 1 0 1 0 2 0 2 0 1 0 1 0 2 0 2 0 3 0 1 0 1 0 1 0 7 0 7 0 4 0 4 0 11 0 18 0-119 1 1 0 1 0 1 0 1 0 3 0 1 0 2 0 2 0 2 0 2 0 1 0 1 0 2 0 1 0 1 0 2 0 2 0 1 0 1 0 1 0 1 0 1 0 1 0 1 0 1 0 2 0 1 0 1 0 2 0 1 0 1 0 2 0 4 0 1 0 1 0 2 0 1 0 1 0 2 0 2 0 4 0 1 0 1 0 2 0 2 0 1 0 1 0 3 0 15 0 3 0 2 0" class="sc"/>
<rect x="601.50" y="726.70" width="200.00" height="199.10" fill="none" stroke="#222" stroke-width="1.6"/>
<line x1="669.50" y1="726.70" x2="669.50" y2="925.80" stroke="#111" stroke-width="1.8" stroke-linecap="butt"/>
<line x1="601.50" y1="857.00" x2="801.50" y2="857.00" stroke="#111" stroke-width="1.8" stroke-linecap="butt"/>
<path d="M596.00 925.80H601.50M601.50 925.80V931.30M598.50 910.82H601.50M616.55 925.80V928.80M598.50 902.05H601.50M625.36 925.80V928.80M598.50 895.83H601.50M631.60 925.80V928.80M598.50 891.01H601.50M636.45 925.80V928.80M598.50 887.07H601.50M640.41 925.80V928.80M598.50 883.74H601.50M643.75 925.80V928.80M598.50 880.85H601.50M646.65 925.80V928.80M598.50 878.30H601.50M649.21 925.80V928.80M596.00 876.02H601.50M651.50 925.80V931.30M598.50 861.04H601.50M666.55 925.80V928.80M598.50 852.28H601.50M675.36 925.80V928.80M598.50 846.06H601.50M681.60 925.80V928.80M598.50 841.23H601.50M686.45 925.80V928.80M598.50 837.29H601.50M690.41 925.80V928.80M598.50 833.96H601.50M693.75 925.80V928.80M598.50 831.07H601.50M696.65 925.80V928.80M598.50 828.53H601.50M699.21 925.80V928.80M596.00 826.25H601.50M701.50 925.80V931.30M598.50 811.27H601.50M716.55 925.80V928.80M598.50 802.50H601.50M725.36 925.80V928.80M598.50 796.28H601.50M731.60 925.80V928.80M598.50 791.46H601.50M736.45 925.80V928.80M598.50 787.52H601.50M740.41 925.80V928.80M598.50 784.19H601.50M743.75 925.80V928.80M598.50 781.30H601.50M746.65 925.80V928.80M598.50 778.75H601.50M749.21 925.80V928.80M596.00 776.48H601.50M751.50 925.80V931.30M598.50 761.49H601.50M766.55 925.80V928.80M598.50 752.73H601.50M775.36 925.80V928.80M598.50 746.51H601.50M781.60 925.80V928.80M598.50 741.68H601.50M786.45 925.80V928.80M598.50 737.74H601.50M790.41 925.80V928.80M598.50 734.41H601.50M793.75 925.80V928.80M598.50 731.52H601.50M796.65 925.80V928.80M598.50 728.98H601.50M799.21 925.80V928.80M596.00 726.70H601.50M801.50 925.80V931.30" stroke="#333" stroke-width="1.2" fill="none"/>
<text x="581.50" y="925.80" style="font-size:8px;fill:#444">10<tspan dy="-3" style="font-size:6px">0</tspan></text>
<text x="605.50" y="944.00" style="font-size:8px;fill:#444">10<tspan dy="-3" style="font-size:6px">0</tspan></text>
<text x="581.50" y="879.02" style="font-size:8px;fill:#444">10<tspan dy="-3" style="font-size:6px">1</tspan></text>
<text x="652.50" y="944.00" style="font-size:8px;fill:#444">10<tspan dy="-3" style="font-size:6px">1</tspan></text>
<text x="581.50" y="829.25" style="font-size:8px;fill:#444">10<tspan dy="-3" style="font-size:6px">2</tspan></text>
<text x="702.50" y="944.00" style="font-size:8px;fill:#444">10<tspan dy="-3" style="font-size:6px">2</tspan></text>
<text x="581.50" y="779.48" style="font-size:8px;fill:#444">10<tspan dy="-3" style="font-size:6px">3</tspan></text>
<text x="752.50" y="944.00" style="font-size:8px;fill:#444">10<tspan dy="-3" style="font-size:6px">3</tspan></text>
<text x="581.50" y="734.70" style="font-size:8px;fill:#444">10<tspan dy="-3" style="font-size:6px">4</tspan></text>
<text x="792.50" y="944.00" style="font-size:8px;fill:#444">10<tspan dy="-3" style="font-size:6px">4</tspan></text>
<text x="761.45" y="760.99" style="font-size:31.5px">49</text>
<path d="m992 774-10 4-2 2 2 0 6 0-24 1 16 1 11 0 7 0-1 1 8 1 11 1-23 1 21 1 20 1-52 1-8 1 2 0 22 0-44 2 10 0 14 0 2 0 12 0 6 0 5 0 18 0-53 1 14 0-16 1 14 0 16 0 1 0 3 1-28 1 12 0 2 0 5 0 5 0 12 0 15 0-72 1 21 0-18 1 3 0 5 0 2 0 20 0 1 0 2 0 3 0 14 0 1 0-34 1 2 0 7 0 6 0 6 0 3 0-45 1 12 0 2 0 1 0 2 0 3 0 4 0 3 0 1 0 3 0 10 0 2 0 11 0 9 0 6 0-50 1 3 0 8 0 4 0 3 0 21 0-50 1 2 0 2 0 4 0 1 0 1 0 1 0 5 0 3 0 1 0 2 0 3 0 2 0 1 0 2 0 4 0 5 0 3 0 4 0 18 0-61 1 7 0 4 0 2 0 3 0 17 0 3 0 11 0-64 1 1 0 8 0 6 0 1 0 1 0 1 0 6 0 2 0 2 0 2 0 2 0 1 0 3 0 2 0 2 0 2 0 2 0 2 0 10 0-57 1 11 0 4 0 5 0 9 0 2 0 1 0 1 0 7 0 22 0 7 0-75 1 5 0 14 0 7 0 1 0 2 0 1 0 2 0 1 0 1 0 3 0 1 0 2 0 5 0 1 0 2 0 1 0 1 0 1 0 2 0 1 0 1 0 2 0 6 0 4 0 14 0-72 1 8 0 5 0 6 0 2 0 1 0 2 0 1 0 5 0 3 0 1 0 2 0 2 0 3 0 7 0 7 0 1 0-63 1 7 0 4 0 2 0 6 0 2 0 2 0 1 0 3 0 1 0 1 0 2 0 2 0 2 0 1 0 1 0 1 0 1 0 1 0 1 0 1 0 3 0 1 0 3 0 2 0 2 0 2 0 2 0 2 0 2 0 11 0 3 0-60 1 4 0 4 0 4 0 1 0 3 0 1 0 1 0 2 0 4 0 3 0 1 0 9 0 3 0 2 0 15 0-69 1 7 0 1 0 2 0 4 0 2 0 1 0 1 0 2 0 1 0 1 0 2 0 1 0 1 0 2 0 2 0 1 0 1 0 2 0 1 0 1 0 2 0 1 0 1 0 1 0 1 0 1 0 1 0 1 0 1 0 4 0 1 0 7 0-63 1 1 0 12 0 2 0 6 0 3 0 3 0 2 0 2 0 2 0 2 0 2 0 10 0 6 0 6 0 9 0 1 0-73 1 5 0 2 0 4 0 2 0 4 0 1 0 1 0 1 0 5 0 2 0 1 0 1 0 1 0 1 0 2 0 2 0 1 0 1 0 1 0 1 0 2 0 1 0 1 0 4 0 2 0 2 0 1 0 1 0 2 0 1 0 5 0 6 0-56 1 7 0 1 0 3 0 1 0 6 0 2 0 2 0 1 0 1 0 2 0 1 0 1 0 1 0 1 0 5 0 1 0 4 0 2 0 1 0 1 0 1 0 5 0-60 1 10 0 4 0 2 0 3 0 1 0 2 0 1 0 1 0 1 0 1 0 1 0 1 0 1 0 1 0 1 0 1 0 2 0 1 0 1 0 1 0 1 0 1 0 1 0 1 0 1 0 2 0 1 0 1 0 1 0 1 0 2 0 1 0 1 0 1 0 3 0 2 0 3 0 1 0 7 0 1 0-78 1 11 0 13 0 4 0 4 0 1 0 1 0 2 0 2 0 1 0 1 0 2 0 2 0 2 0 1 0 1 0 1 0 1 0 1 0 1 0 1 0 7 0 3 0 1 0 3 0-69 1 3 0 3 0 4 0 1 0 2 0 1 0 4 0 2 0 1 0 1 0 1 0 1 0 3 0 1 0 1 0 1 0 1 0 1 0 1 0 1 0 2 0 2 0 1 0 1 0 1 0 1 0 1 0 1 0 1 0 1 0 1 0 1 0 1 0 1 0 1 0 1 0 2 0 2 0 1 0 1 0 2 0 1 0 1 0 1 0 1 0 2 0 4 0 1 0 1 0 1 0 1 0 2 0 1 0 1 0 6 0 3 0-72 1 7 0 4 0 1 0 4 0 1 0 2 0 2 0 1 0 1 0 2 0 1 0 1 0 2 0 2 0 2 0 2 0 2 0 2 0 2 0 1 0 1 0 4 0 2 0 2 0 6 0 1 0 1 0 7 0-79 1 6 0 6 0 2 0 2 0 1 0 2 0 1 0 2 0 1 0 1 0 1 0 1 0 1 0 1 0 2 0 1 0 1 0 1 0 1 0 1 0 1 0 1 0 1 0 1 0 1 0 1 0 1 0 1 0 1 0 1 0 1 0 1 0 1 0 1 0 1 0 1 0 1 0 1 0 1 0 1 0 1 0 2 0 1 0 1 0 2 0 1 0 1 0 1 0 2 0 1 0 2 0 2 0 6 0 2 0-70 1 4 0 4 0 2 0 4 0 2 0 1 0 1 0 4 0 1 0 1 0 1 0 1 0 1 0 1 0 1 0 1 0 2 0 1 0 1 0 2 0 2 0 1 0 1 0 1 0 1 0 2 0 3 0 1 0 3 0-66 1 3 0 6 0 4 0 2 0 1 0 1 0 2 0 1 0 1 0 1 0 1 0 2 0 1 0 1 0 1 0 1 0 1 0 1 0 1 0 1 0 1 0 1 0 1 0 1 0 1 0 1 0 1 0 1 0 1 0 1 0 1 0 1 0 1 0 1 0 1 0 1 0 1 0 1 0 1 0 1 0 1 0 1 0 1 0 1 0 1 0 1 0 1 0 1 0 1 0 1 0 1 0 1 0 1 0 1 0 2 0 2 0 6 0 8 0 1 0-63 1 2 0 1 0 1 0 1 0 1 0 1 0 1 0 2 0 2 0 1 0 1 0 1 0 1 0 1 0 1 0 2 0 1 0 1 0 1 0 1 0 1 0 1 0 1 0 1 0 2 0 1 0 1 0 1 0 1 0 1 0 1 0 1 0 1 0 2 0 4 0 2 0 3 0 1 0 2 0 6 0 6 0 4 0-92 1 12 0 4 0 2 0 2 0 1 0 1 0 2 0 1 0 1 0 1 0 1 0 1 0 1 0 1 0 1 0 1 0 1 0 1 0 1 0 1 0 1 0 1 0 1 0 1 0 1 0 1 0 1 0 1 0 1 0 1 0 1 0 1 0 1 0 1 0 1 0 1 0 1 0 1 0 1 0 1 0 1 0 1 0 1 0 1 0 1 0 1 0 1 0 2 0 1 0 1 0 1 0 3 0 1 0 1 0 1 0 1 0 10 0-73 1 3 0 7 0 1 0 1 0 1 0 1 0 1 0 1 0 1 0 1 0 1 0 2 0 2 0 1 0 1 0 1 0 1 0 1 0 1 0 1 0 1 0 1 0 1 0 1 0 1 0 2 0 1 0 1 0 1 0 1 0 1 0 1 0 2 0 1 0 1 0 1 0 1 0 1 0 1 0 2 0-72 1 13 0 7 0 1 0 1 0 2 0 1 0 1 0 2 0 2 0 1 0 1 0 1 0 1 0 1 0 1 0 1 0 1 0 1 0 1 0 1 0 1 0 1 0 1 0 1 0 1 0 1 0 1 0 1 0 1 0 1 0 1 0 1 0 1 0 1 0 1 0 1 0 1 0 1 0 1 0 1 0 1 0 1 0 1 0 1 0 1 0 1 0 1 0 2 0 1 0 1 0 1 0 1 0 2 0 1 0 1 0 4 0 1 0 1 0 6 0 18 0-92 1 5 0 3 0 2 0 3 0 1 0 2 0 2 0 2 0 1 0 1 0 1 0 1 0 1 0 1 0 2 0 1 0 1 0 1 0 1 0 1 0 1 0 1 0 1 0 1 0 1 0 1 0 1 0 1 0 1 0 2 0 1 0 1 0 1 0 1 0 1 0 1 0 2 0 2 0 2 0 1 0 1 0 2 0-66 1 6 0 4 0 2 0 2 0 1 0 1 0 1 0 1 0 1 0 1 0 2 0 2 0 1 0 1 0 1 0 1 0 1 0 1 0 1 0 1 0 1 0 1 0 1 0 1 0 1 0 1 0 1 0 1 0 1 0 1 0 1 0 1 0 1 0 1 0 1 0 1 0 1 0 1 0 1 0 1 0 1 0 1 0 1 0 1 0 1 0 1 0 1 0 1 0 2 0 1 0 2 0 1 0 2 0 2 0 1 0 1 0 1 0 1 0 6 0 2 0 7 0-89 1 8 0 6 0 4 0 1 0 1 0 1 0 1 0 1 0 1 0 2 0 2 0 1 0 1 0 1 0 1 0 1 0 1 0 1 0 1 0 2 0 1 0 1 0 1 0 1 0 1 0 1 0 1 0 1 0 1 0 1 0 1 0 1 0 1 0 1 0 1 0 1 0 2 0 1 0 1 0 2 0 1 0 1 0 1 0 1 0 8 0 2 0-78 1 8 0 6 0 4 0 1 0 1 0 1 0 1 0 1 0 1 0 1 0 1 0 1 0 1 0 1 0 1 0 1 0 1 0 1 0 1 0 1 0 1 0 1 0 1 0 1 0 1 0 1 0 1 0 1 0 1 0 1 0 1 0 1 0 1 0 1 0 1 0 1 0 1 0 1 0 1 0 1 0 1 0 1 0 1 0 1 0 1 0 1 0 1 0 1 0 1 0 1 0 1 0 2 0 2 0 1 0 1 0 1 0 1 0 4 0 2 0 8 0-81 1 2 0 3 0 2 0 4 0 2 0 1 0 1 0 2 0 1 0 1 0 1 0 1 0 1 0 1 0 1 0 1 0 1 0 1 0 2 0 1 0 1 0 1 0 1 0 1 0 1 0 1 0 1 0 1 0 1 0 1 0 1 0 1 0 1 0 1 0 1 0 1 0 1 0 1 0 1 0 2 0 2 0 2 0 2 0 2 0 2 0 2 0 4 0 4 0-71 1 2 0 2 0 1 0 1 0 1 0 1 0 1 0 3 0 1 0 2 0 2 0 1 0 1 0 1 0 1 0 1 0 1 0 1 0 1 0 1 0 1 0 1 0 1 0 1 0 1 0 1 0 1 0 1 0 1 0 1 0 1 0 1 0 1 0 1 0 1 0 1 0 1 0 1 0 1 0 1 0 1 0 1 0 1 0 1 0 1 0 1 0 1 0 1 0 1 0 1 0 1 0 2 0 2 0 2 0 1 0 1 0 2 0 2 0 2 0 2 0-76 1 4 0 6 0 1 0 1 0 1 0 1 0 1 0 1 0 1 0 1 0 1 0 1 0 1 0 1 0 2 0 1 0 1 0 1 0 1 0 1 0 1 0 1 0 1 0 1 0 1 0 1 0 1 0 1 0 1 0 1 0 1 0 1 0 1 0 1 0 1 0 1 0 1 0 1 0 1 0 1 0 1 0 1 0 1 0 1 0 1 0 2 0 1 0 1 0 2 0 1 0 3 0 1 0 1 0 6 0 6 0-102 1 12 0 14 0 2 0 4 0 2 0 2 0 1 0 1 0 1 0 1 0 2 0 1 0 1 0 1 0 1 0 1 0 1 0 1 0 1 0 1 0 1 0 1 0 1 0 1 0 1 0 1 0 1 0 1 0 1 0 1 0 1 0 1 0 1 0 1 0 1 0 1 0 1 0 1 0 1 0 1 0 1 0 1 0 1 0 1 0 1 0 1 0 1 0 1 0 1 0 1 0 1 0 1 0 1 0 3 0 1 0 1 0 1 0 2 0 2 0 1 0 1 0 1 0 1 0-114 1 42 0 4 0 6 0 2 0 2 0 2 0 1 0 1 0 1 0 1 0 1 0 1 0 1 0 1 0 1 0 1 0 1 0 1 0 1 0 1 0 1 0 1 0 1 0 1 0 1 0 1 0 1 0 1 0 1 0 1 0 1 0 1 0 1 0 1 0 1 0 1 0 2 0 2 0 1 0 1 0 3 0 1 0 2 0 1 0 3 0 2 0 2 0 2 0 2 0 2 0-98 1 22 0 8 0 2 0 2 0 1 0 1 0 2 0 2 0 1 0 1 0 1 0 1 0 1 0 1 0 1 0 1 0 1 0 1 0 1 0 1 0 1 0 1 0 1 0 1 0 1 0 1 0 1 0 1 0 1 0 1 0 1 0 1 0 1 0 1 0 1 0 1 0 1 0 1 0 1 0 1 0 1 0 1 0 1 0 1 0 1 0 1 0 1 0 1 0 1 0 1 0 2 0 2 0 2 0 2 0 6 0 2 0 3 0-91 1 12 0 2 0 7 0 4 0 3 0 2 0 1 0 1 0 1 0 1 0 1 0 1 0 1 0 1 0 2 0 1 0 1 0 1 0 1 0 1 0 1 0 1 0 1 0 2 0 1 0 1 0 1 0 1 0 2 0 1 0 1 0 1 0 1 0 1 0 1 0 2 0 1 0 1 0 1 0 1 0 2 0 2 0 2 0 1 0 1 0 4 0-76 1 4 0 2 0 5 0 3 0 6 0 1 0 1 0 2 0 1 0 1 0 1 0 1 0 1 0 1 0 1 0 1 0 1 0 1 0 1 0 1 0 1 0 1 0 1 0 1 0 1 0 1 0 1 0 1 0 1 0 1 0 1 0 1 0 1 0 1 0 1 0 1 0 1 0 1 0 1 0 1 0 1 0 1 0 1 0 1 0 1 0 1 0 1 0 1 0 1 0 1 0 1 0 1 0 1 0 1 0 1 0 1 0 2 0 1 0 1 0 2 0 4 0 20 0-86 1 2 0 2 0 4 0 1 0 1 0 1 0 1 0 2 0 1 0 1 0 2 0 1 0 1 0 1 0 1 0 1 0 1 0 1 0 1 0 1 0 1 0 1 0 1 0 1 0 1 0 1 0 1 0 1 0 1 0 1 0 1 0 1 0 1 0 2 0 1 0 1 0 2 0 2 0 2 0 2 0 2 0 1 0 6 0 1 0 1 0 17 0-99 1 5 0 8 0 2 0 6 0 1 0 1 0 1 0 1 0 1 0 1 0 1 0 1 0 1 0 1 0 1 0 1 0 1 0 1 0 1 0 1 0 1 0 1 0 1 0 1 0 1 0 1 0 1 0 1 0 1 0 1 0 1 0 1 0 1 0 1 0 1 0 1 0 1 0 1 0 1 0 1 0 1 0 1 0 1 0 1 0 1 0 1 0 1 0 1 0 2 0 1 0 1 0 2 0 1 0 1 0 1 0 1 0 3 0 3 0 1 0 1 0 1 0 3 0-74 1 5 0 1 0 2 0 2 0 2 0 1 0 1 0 2 0 2 0 1 0 1 0 1 0 1 0 1 0 1 0 1 0 1 0 2 0 1 0 1 0 1 0 1 0 1 0 1 0 1 0 1 0 1 0 1 0 1 0 1 0 1 0 1 0 1 0 1 0 1 0 1 0 1 0 1 0 1 0 1 0 1 0 1 0 2 0 2 0 2 0 4 0 2 0 5 0 3 0-119 1 16 0 19 0 6 0 2 0 5 0 3 0 2 0 2 0 1 0 1 0 1 0 1 0 1 0 1 0 1 0 1 0 1 0 1 0 1 0 1 0 1 0 1 0 1 0 1 0 1 0 1 0 1 0 1 0 1 0 1 0 1 0 1 0 1 0 1 0 1 0 1 0 1 0 1 0 1 0 1 0 1 0 1 0 1 0 1 0 1 0 1 0 1 0 1 0 1 0 1 0 1 0 1 0 1 0 1 0 1 0 1 0 2 0 1 0 1 0 2 0 2 0 1 0 8 0-77 1 6 0 8 0 2 0 2 0 1 0 1 0 2 0 1 0 1 0 1 0 1 0 2 0 1 0 1 0 1 0 1 0 1 0 1 0 1 0 1 0 1 0 1 0 1 0 1 0 1 0 1 0 1 0 1 0 1 0 1 0 1 0 1 0 1 0 1 0 1 0 1 0 1 0 1 0 1 0 1 0 1 0 1 0 4 0 2 0 6 0-116 1 29 0 1 0 10 0 1 0 5 0 6 0 2 0 1 0 1 0 4 0 1 0 1 0 1 0 1 0 1 0 1 0 1 0 1 0 1 0 1 0 1 0 1 0 1 0 1 0 1 0 1 0 1 0 1 0 1 0 1 0 1 0 1 0 1 0 1 0 1 0 1 0 1 0 1 0 1 0 1 0 1 0 1 0 1 0 1 0 1 0 1 0 1 0 1 0 1 0 1 0 1 0 1 0 2 0 2 0 1 0 1 0 2 0 1 0 1 0 2 0 10 0 17 0-92 1 9 0 1 0 1 0 1 0 3 0 4 0 1 0 1 0 1 0 1 0 1 0 1 0 1 0 1 0 1 0 1 0 1 0 1 0 1 0 1 0 1 0 1 0 1 0 1 0 2 0 1 0 1 0 2 0 1 0 1 0 1 0 1 0 2 0 3 0 1 0 2 0 3 0 1 0 3 0 3 0 20 0 38 0-156 1 4 0 20 0 8 0 1 0 3 0 4 0 1 0 1 0 2 0 1 0 1 0 1 0 1 0 1 0 1 0 1 0 1 0 1 0 1 0 1 0 1 0 1 0 1 0 1 0 1 0 1 0 1 0 1 0 1 0 1 0 1 0 1 0 1 0 1 0 1 0 1 0 1 0 1 0 1 0 1 0 1 0 1 0 1 0 1 0 1 0 1 0 1 0 2 0 1 0 1 0 1 0 1 0 1 0 1 0 1 0 1 0 2 0 2 0 1 0 1 0 3 0 4 0-127 1 32 0 33 0 1 0 2 0 2 0 2 0 2 0 2 0 2 0 1 0 1 0 2 0 2 0 1 0 1 0 2 0 1 0 1 0 2 0 2 0 1 0 1 0 2 0 2 0 2 0 1 0 1 0 2 0 2 0 2 0 2 0 4 0 5 0-123 1 28 0 2 0 24 0 6 0 2 0 2 0 2 0 1 0 2 0 1 0 1 0 1 0 2 0 2 0 2 0 1 0 1 0 1 0 1 0 1 0 1 0 1 0 1 0 1 0 1 0 1 0 1 0 1 0 1 0 1 0 1 0 1 0 1 0 1 0 1 0 1 0 1 0 1 0 1 0 2 0 1 0 1 0 1 0 1 0 2 0 4 0 1 0 1 0 1 0 3 0 1 0 1 0 16 0-122 1 40 0 4 0 5 0 1 0 2 0 2 0 2 0 2 0 2 0 2 0 2 0 2 0 2 0 1 0 1 0 2 0 2 0 1 0 1 0 2 0 1 0 1 0 1 0 1 0 3 0 1 0 2 0 4 0 8 0 1 0 1 0 2 0 5 0 49 0-186 1 28 0 8 0 24 0 2 0 12 0 2 0 4 0 1 0 1 0 2 0 2 0 1 0 1 0 1 0 3 0 1 0 1 0 1 0 1 0 1 0 1 0 1 0 1 0 1 0 1 0 2 0 1 0 1 0 1 0 1 0 1 0 1 0 1 0 1 0 1 0 1 0 1 0 1 0 1 0 1 0 2 0 1 0 1 0 2 0 4 0 2 0 1 0 13 0 16 0-131 1 34 0 1 0 10 0 2 0 2 0 6 0 1 0 1 0 2 0 2 0 1 0 3 0 2 0 1 0 2 0 3 0 2 0 1 0 1 0 2 0 3 0 1 0 1 0 1 0 1 0 1 0 2 0 2 0 2 0 8 0-102 1 20 0 6 0 6 0 1 0 2 0 5 0 4 0 1 0 4 0 1 0 1 0 1 0 1 0 1 0 1 0 1 0 1 0 1 0 2 0 1 0 1 0 1 0 1 0 1 0 1 0 1 0 1 0 1 0 1 0 1 0 1 0 1 0 1 0 1 0 1 0 1 0 1 0 1 0 1 0 1 0 1 0 1 0 1 0 1 0 1 0 1 0 1 0 2 0 1 0 1 0 1 0 1 0 2 0 2 0 2 0 1 0 11 0 2 0 1 0 1 0 6 0-137 1 59 0 12 0 12 0 2 0 1 0 1 0 2 0 2 0 1 0 3 0 5 0 1 0 5 0 3 0 2 0-120 1 4 0 13 0 3 0 12 0 8 0 5 0 1 0 18 0 4 0 1 0 1 0 2 0 2 0 2 0 4 0 1 0 1 0 2 0 1 0 1 0 2 0 1 0 1 0 1 0 1 0 1 0 1 0 1 0 1 0 2 0 1 0 1 0 1 0 1 0 2 0 1 0 1 0 1 0 1 0 1 0 3 0 2 0 1 0 1 0 2 0 3 0 3 0 2 0 1 0 1 0 2 0 6 0 12 0-130 1 10 0 34 0 4 0 9 0 1 0 7 0 1 0 1 0 1 0 1 0 1 0 1 0 2 0 1 0 1 0 1 0 2 0 2 0 1 0 5 0 1 0 2 0 2 0 3 0 8 0 2 0-110 1 5 0 5 0 3 0 6 0 2 0 15 0 4 0 3 0 5 0 3 0 1 0 2 0 2 0 2 0 2 0 1 0 1 0 1 0 1 0 5 0 1 0 2 0 1 0 1 0 1 0 1 0 2 0 2 0 1 0 1 0 2 0 1 0 1 0 2 0 1 0 1 0 1 0 1 0 1 0 3 0 1 0 1 0 2 0 1 0 1 0 1 0 1 0 2 0 1 0 1 0 1 0 1 0 1 0 7 0-109 1 15 0 8 0 22 0 6 0 6 0 2 0 2 0 4 0 2 0 1 0 1 0 3 0 3 0 4 0 2 0 2 0 2 0 1 0 2 0 15 0 6 0 14 0-148 1 18 0 6 0 2 0 2 0 4 0 2 0 2 0 12 0 4 0 6 0 3 0 8 0 3 0 2 0 2 0 2 0 4 0 1 0 2 0 1 0 2 0 1 0 1 0 1 0 3 0 2 0 2 0 1 0 1 0 1 0 1 0 1 0 1 0 1 0 1 0 3 0 1 0 1 0 1 0 2 0 1 0 2 0 3 0 1 0 3 0 9 0 3 0 50 0-162 1 3 0 23 0 12 0 14 0 1 0 1 0 5 0 3 0 2 0 3 0 2 0 1 0 2 0 2 0 2 0 6 0 8 0 2 0 6 0 5 0 2 0-123 1 16 0 6 0 4 0 2 0 8 0 5 0 5 0 3 0 15 0 5 0 3 0 2 0 1 0 1 0 2 0 2 0 2 0 2 0 4 0 2 0 2 0 1 0 1 0 1 0 1 0 2 0 2 0 1 0 1 0 2 0 2 0 1 0 1 0 2 0 2 0 2 0 3 0 3 0 2 0 1 0 1 0 3 0-129 1 66 0 2 0 10 0 4 0 2 0 5 0 1 0 2 0 2 0 1 0 1 0 1 0 1 0 4 0 5 0 1 0 4 0 4 0 6 0 9 0 5 0 38 0-176 1 6 0 12 0 13 0 3 0 6 0 4 0 3 0 9 0 14 0 3 0 3 0 2 0 2 0 4 0 2 0 4 0 2 0 2 0 2 0 1 0 2 0 1 0 1 0 1 0 2 0 2 0 2 0 2 0 2 0 1 0 1 0 2 0 2 0 4 0 10 0 14 0-148 1 57 0 13 0 15 0 7 0 6 0 2 0 3 0 1 0 2 0 8 0 6 0 2 0 2 0 6 0 7 0-120 1 17 0 10 0 3 0 7 0 8 0 4 0 10 0 3 0 3 0 4 0 1 0 1 0 1 0 1 0 2 0 1 0 3 0 2 0 1 0 1 0 2 0 2 0 2 0 2 0 1 0 1 0 1 0 1 0 2 0 2 0 4 0 2 0 3 0 7 0 3 0-129 1 8 0 54 0 7 0 2 0 3 0 2 0 8 0 6 0 4 0 4 0 2 0 5 0 2 0-106 1 1 0 14 0 12 0 4 0 4 0 5 0 11 0 2 0 10 0 1 0 4 0 1 0 2 0 1 0 2 0 3 0 1 0 1 0 2 0 4 0 2 0 2 0 2 0 2 0 1 0 1 0 2 0 2 0 1 0 1 0 2 0 2 0 3 0 1 0 6 0 3 0 1 0 5 0 3 0 18 0-140 1 10 0 1 0 15 0 4 0 10 0 7 0 1 0 2 0 3 0 8 0 5 0 4 0 8 0 2 0 4 0 2 0 1 0 1 0 6 0 4 0 3 0 3 0 10 0 10 0-136 1 3 0 4 0 19 0 2 0 2 0 12 0 6 0 1 0 3 0 4 0 8 0 2 0 2 0 1 0 1 0 1 0 4 0 3 0 2 0 4 0 2 0 1 0 1 0 1 0 2 0 1 0 1 0 1 0 1 0 1 0 2 0 2 0 1 0 1 0 1 0 1 0 1 0 1 0 2 0 2 0 2 0 2 0 1 0 1 0 4 0 1 0 7 0 5 0 9 0-119 1 5 0 2 0 12 0 12 0 3 0 3 0 6 0 8 0 8 0 2 0 10 0 5 0 2 0 1 0 2 0 5 0 1 0 3 0 11 0 12 0 6 0-142 1 4 0 18 0 2 0 3 0 3 0 3 0 2 0 3 0 3 0 1 0 4 0 2 0 2 0 4 0 5 0 2 0 3 0 4 0 2 0 2 0 2 0 3 0 3 0 1 0 1 0 1 0 1 0 1 0 1 0 2 0 1 0 1 0 1 0 1 0 2 0 4 0 1 0 1 0 2 0 1 0 1 0 1 0 1 0 2 0 1 0 1 0 3 0 5 0 6 0 1 0 5 0-98 1 12 0 18 0 6 0 5 0 3 0 6 0 1 0 1 0 2 0 3 0 1 0 2 0 2 0 1 0 3 0 3 0 3 0 2 0 1 0 7 0 28 0-138 1 4 0 9 0 4 0 9 0 3 0 17 0 6 0 14 0 2 0 2 0 2 0 2 0 2 0 4 0 2 0 2 0 2 0 1 0 1 0 2 0 2 0 1 0 1 0 1 0 1 0 1 0 1 0 2 0 1 0 1 0 4 0 1 0 2 0 1 0 3 0 1 0 1 0 3 0 3 0 1 0 1 0 4 0 4 0 1 0-82 1 10 0 1 0 3 0 4 0 8 0 4 0 2 0 3 0 5 0 4 0 6 0 2 0 2 0 3 0 1 0 2 0 8 0 2 0 2 0 2 0 1 0-129 1 12 0 4 0 22 0 2 0 2 0 4 0 10 0 2 0 2 0 1 0 5 0 1 0 1 0 2 0 2 0 1 0 1 0 4 0 4 0 2 0 1 0 1 0 2 0 2 0 1 0 1 0 2 0 3 0 1 0 2 0 1 0 1 0 2 0 1 0 1 0 2 0 6 0 2 0 1 0 1 0 2 0 2 0 6 0 2 0 4 0 4 0 12 0-142 1 17 0 10 0 11 0 8 0 4 0 4 0 2 0 4 0 2 0 4 0 2 0 1 0 1 0 2 0 4 0 1 0 6 0 5 0 4 0 1 0 3 0 1 0 1 0 2 0 2 0 2 0 12 0 2 0-93 1 1 0 6 0 2 0 4 0 8 0 4 0 2 0 2 0 2 0 2 0 2 0 2 0 2 0 2 0 2 0 4 0 2 0 2 0 1 0 2 0 1 0 2 0 2 0 1 0 1 0 1 0 1 0 2 0 1 0 1 0 1 0 1 0 1 0 1 0 2 0 1 0 1 0 2 0 1 0 1 0 1 0 1 0 2 0 1 0 1 0 2 0 4 0 2 0 4 0 3 0 3 0-111 1 10 0 13 0 3 0 1 0 1 0 6 0 1 0 8 0 1 0 6 0 1 0 3 0 1 0 2 0 4 0 1 0 2 0 3 0 3 0 2 0 1 0 2 0 2 0 3 0 4 0 4 0 3 0 8 0-112 1 12 0 2 0 5 0 3 0 8 0 2 0 9 0 3 0 2 0 1 0 3 0 2 0 1 0 1 0 1 0 1 0 2 0 2 0 2 0 2 0 2 0 2 0 1 0 1 0 2 0 1 0 1 0 1 0 1 0 1 0 1 0 2 0 1 0 1 0 1 0 1 0 1 0 1 0 1 0 1 0 1 0 1 0 1 0 1 0 3 0 1 0 1 0 1 0 1 0 2 0 1 0 2 0 1 0 1 0 4 0 3 0 1 0 1 0 1 0 1 0 3 0-85 1 19 0 3 0 1 0 3 0 5 0 3 0 1 0 1 0 1 0 1 0 3 0 1 0 3 0 1 0 3 0 2 0 1 0 1 0 2 0 2 0 5 0 5 0 5 0 17 0-134 1 8 0 2 0 5 0 8 0 11 0 4 0 2 0 7 0 1 0 1 0 1 0 1 0 1 0 2 0 2 0 2 0 2 0 1 0 1 0 1 0 1 0 2 0 1 0 1 0 2 0 1 0 1 0 1 0 1 0 2 0 2 0 1 0 1 0 1 0 1 0 1 0 1 0 1 0 1 0 2 0 2 0 2 0 1 0 1 0 1 0 1 0 1 0 2 0 1 0 1 0 1 0 2 0 1 0 1 0 2 0 5 0 1 0 1 0 3 0 2 0-103 1 25 0 4 0 3 0 1 0 2 0 1 0 4 0 6 0 1 0 4 0 6 0 2 0 1 0 2 0 1 0 1 0 1 0 2 0 2 0 2 0 1 0 2 0 1 0 1 0 5 0 4 0 1 0 5 0 3 0 1 0 6 0 4 0-118 1 6 0 12 0 16 0 2 0 6 0 2 0 4 0 2 0 1 0 2 0 1 0 2 0 1 0 1 0 1 0 1 0 2 0 1 0 1 0 1 0 1 0 2 0 4 0 1 0 1 0 1 0 1 0 1 0 1 0 2 0 1 0 1 0 1 0 1 0 1 0 1 0 2 0 1 0 1 0 1 0 1 0 1 0 1 0 1 0 1 0 1 0 1 0 2 0 2 0 1 0 1 0 1 0 1 0 1 0 1 0 2 0 2 0 2 0 2 0 2 0 16 0-134 1 27 0 10 0 3 0 2 0 1 0 6 0 3 0 4 0 4 0 6 0 3 0 1 0 4 0 1 0 3 0 2 0 1 0 3 0 1 0 3 0 6 0 3 0 1 0 10 0 1 0 1 0 1 0 2 0 1 0 6 0 3 0 15 0-140 1 8 0 3 0 7 0 1 0 1 0 4 0 4 0 2 0 2 0 3 0 1 0 1 0 4 0 4 0 1 0 2 0 2 0 2 0 3 0 1 0 2 0 1 0 1 0 2 0 2 0 1 0 1 0 1 0 1 0 1 0 1 0 1 0 1 0 2 0 1 0 1 0 1 0 1 0 1 0 1 0 1 0 1 0 1 0 2 0 1 0 1 0 1 0 1 0 1 0 2 0 1 0 1 0 2 0 2 0 2 0 2 0 1 0 1 0 2 0 2 0 2 0 1 0 1 0 2 0 2 0 3 0 1 0 1 0 3 0 9 0-117 1 20 0 11 0 1 0 6 0 1 0 1 0 1 0 1 0 1 0 1 0 3 0 1 0 7 0 1 0 5 0 1 0 1 0 1 0 5 0 1 0 2 0 1 0 1 0 6 0 2 0 1 0 3 0 4 0 37 0-146 1 1 0 19 0 9 0 1 0 3 0 2 0 4 0 2 0 2 0 2 0 2 0 2 0 1 0 1 0 4 0 1 0 1 0 2 0 1 0 1 0 3 0 1 0 1 0 1 0 2 0 1 0 1 0 2 0 1 0 1 0 1 0 1 0 2 0 1 0 1 0 1 0 1 0 2 0 1 0 1 0 2 0 2 0 1 0 1 0 1 0 1 0 1 0 1 0 2 0 2 0 1 0 1 0 2 0 2 0 1 0 1 0 2 0 2 0 2 0 2 0 12 0-126 1 26 0 2 0 1 0 1 0 14 0 2 0 6 0 2 0 3 0 1 0 3 0 2 0 1 0 1 0 3 0 2 0 1 0 1 0 2 0 2 0 2 0 1 0 2 0 1 0 2 0 2 0 1 0 3 0 4 0 1 0 3 0 2 0 6 0 7 0 3 0 1 0 6 0-108 1 9 0 2 0 4 0 1 0 1 0 1 0 2 0 2 0 1 0 1 0 1 0 1 0 1 0 2 0 2 0 1 0 1 0 1 0 1 0 1 0 1 0 1 0 1 0 1 0 1 0 1 0 1 0 1 0 1 0 1 0 1 0 2 0 1 0 1 0 2 0 2 0 1 0 1 0 1 0 1 0 1 0 1 0 2 0 1 0 1 0 1 0 1 0 1 0 1 0 1 0 1 0 1 0 1 0 1 0 1 0 1 0 1 0 1 0 1 0 2 0 1 0 4 0 1 0 1 0 1 0 2 0 6 0 2 0-115 1 29 0 2 0 4 0 8 0 2 0 1 0 3 0 4 0 2 0 5 0 1 0 2 0 4 0 2 0 2 0 1 0 1 0 3 0 2 0 1 0 2 0 2 0 1 0 1 0 1 0 1 0 2 0 1 0 1 0 1 0 1 0 3 0 1 0 2 0 6 0 1 0 1 0 2 0 9 0-121 1 14 0 4 0 4 0 3 0 1 0 5 0 1 0 2 0 1 0 5 0 2 0 3 0 2 0 3 0 2 0 2 0 1 0 1 0 1 0 1 0 2 0 2 0 2 0 2 0 1 0 1 0 1 0 1 0 2 0 2 0 1 0 1 0 1 0 1 0 2 0 1 0 1 0 1 0 1 0 1 0 1 0 1 0 1 0 1 0 1 0 1 0 1 0 1 0 1 0 2 0 1 0 1 0 1 0 1 0 1 0 1 0 1 0 1 0 2 0 2 0 2 0 1 0 1 0 2 0 2 0 2 0 3 0 3 0 24 0-134 1 10 0 2 0 10 0 8 0 3 0 1 0 2 0 1 0 3 0 2 0 1 0 3 0 1 0 2 0 2 0 3 0 2 0 3 0 1 0 3 0 3 0 2 0 3 0 1 0 1 0 1 0 2 0 2 0 2 0 2 0 4 0 3 0 3 0-92 1 4 0 4 0 3 0 1 0 5 0 1 0 4 0 2 0 1 0 1 0 2 0 2 0 1 0 1 0 1 0 1 0 2 0 1 0 1 0 2 0 1 0 1 0 1 0 1 0 1 0 1 0 1 0 1 0 1 0 1 0 1 0 1 0 1 0 1 0 2 0 2 0 1 0 1 0 1 0 1 0 1 0 1 0 1 0 1 0 1 0 1 0 2 0 1 0 1 0 1 0 1 0 1 0 1 0 1 0 1 0 1 0 1 0 1 0 1 0 2 0 2 0 1 0 1 0 2 0 4 0 2 0 2 0 4 0 2 0 2 0 2 0 5 0-117 1 21 0 3 0 4 0 2 0 3 0 1 0 8 0 3 0 1 0 1 0 1 0 3 0 3 0 2 0 1 0 1 0 1 0 1 0 2 0 2 0 2 0 2 0 2 0 1 0 1 0 1 0 2 0 4 0 3 0 6 0 4 0 1 0 5 0 6 0 1 0-111 1 12 0 2 0 1 0 1 0 4 0 4 0 2 0 1 0 1 0 3 0 1 0 2 0 1 0 1 0 2 0 1 0 1 0 2 0 2 0 2 0 2 0 1 0 1 0 2 0 1 0 1 0 1 0 1 0 1 0 2 0 1 0 1 0 1 0 2 0 1 0 1 0 1 0 1 0 2 0 1 0 1 0 1 0 1 0 1 0 1 0 1 0 1 0 1 0 1 0 2 0 1 0 1 0 2 0 1 0 1 0 2 0 1 0 1 0 1 0 1 0 1 0 1 0 2 0 1 0 1 0 2 0 2 0 4 0 1 0 1 0 1 0 5 0 6 0-113 1 3 0 17 0 1 0 6 0 3 0 3 0 2 0 2 0 3 0 1 0 1 0 1 0 2 0 2 0 2 0 2 0 2 0 1 0 1 0 3 0 1 0 1 0 2 0 1 0 2 0 4 0 1 0 7 0 2 0 1 0 3 0 1 0 3 0 2 0 2 0 8 0-108 1 3 0 9 0 10 0 3 0 3 0 2 0 2 0 3 0 3 0 1 0 1 0 1 0 1 0 2 0 2 0 1 0 1 0 2 0 1 0 1 0 1 0 1 0 2 0 1 0 1 0 1 0 1 0 2 0 2 0 1 0 1 0 2 0 1 0 1 0 1 0 1 0 1 0 1 0 1 0 1 0 2 0 2 0 1 0 1 0 1 0 1 0 1 0 1 0 1 0 1 0 1 0 1 0 1 0 1 0 1 0 1 0 2 0 1 0 4 0 3 0 2 0 4 0 6 0 1 0-103 1 2 0 13 0 1 0 1 0 3 0 2 0 2 0 2 0 1 0 3 0 1 0 1 0 4 0 1 0 1 0 1 0 1 0 1 0 1 0 1 0 1 0 1 0 1 0 2 0 3 0 5 0 2 0 2 0 2 0 2 0 3 0 3 0 2 0 6 0 2 0 1 0 1 0 3 0 3 0 13 0-111 1 4 0 1 0 1 0 6 0 2 0 3 0 1 0 2 0 2 0 4 0 3 0 1 0 1 0 1 0 1 0 1 0 1 0 1 0 2 0 1 0 1 0 1 0 1 0 2 0 1 0 1 0 1 0 1 0 1 0 1 0 1 0 1 0 2 0 1 0 1 0 1 0 1 0 2 0 1 0 1 0 1 0 1 0 1 0 1 0 1 0 1 0 2 0 2 0 1 0 1 0 1 0 1 0 1 0 1 0 1 0 1 0 2 0 1 0 1 0 1 0 1 0 1 0 1 0 2 0 3 0 2 0 1 0 1 0 1 0 1 0 2 0 2 0-109 1 11 0 1 0 10 0 12 0 1 0 3 0 2 0 6 0 1 0 1 0 2 0 2 0 1 0 2 0 1 0 2 0 1 0 3 0 2 0 2 0 1 0 1 0 1 0 1 0 1 0 1 0 1 0 1 0 2 0 1 0 1 0 2 0 1 0 1 0 2 0 2 0 2 0 2 0 2 0 5 0 1 0 8 0 1 0-109 1 4 0 4 0 4 0 6 0 4 0 3 0 1 0 2 0 1 0 1 0 1 0 1 0 2 0 2 0 1 0 1 0 1 0 1 0 2 0 1 0 1 0 1 0 1 0 2 0 2 0 1 0 1 0 2 0 2 0 2 0 1 0 1 0 1 0 1 0 1 0 1 0 2 0 1 0 1 0 2 0 1 0 1 0 1 0 1 0 1 0 1 0 1 0 1 0 2 0 1 0 1 0 1 0 1 0 1 0 1 0 1 0 1 0 2 0 2 0 1 0 1 0 2 0 2 0 2 0 2 0 2 0 1 0 5 0 6 0 48 0-162 1 2 0 6 0 1 0 13 0 2 0 4 0 3 0 1 0 2 0 3 0 1 0 2 0 4 0 2 0 2 0 2 0 1 0 1 0 1 0 2 0 3 0 2 0 2 0 1 0 1 0 3 0 1 0 1 0 1 0 2 0 2 0 2 0 3 0 1 0 2 0 2 0 2 0 1 0 1 0 3 0 11 0 4 0-104 1 2 0 4 0 1 0 11 0 2 0 2 0 2 0 2 0 2 0 1 0 1 0 1 0 2 0 1 0 1 0 1 0 4 0 2 0 1 0 1 0 2 0 1 0 1 0 1 0 1 0 1 0 1 0 1 0 1 0 2 0 1 0 1 0 2 0 2 0 1 0 1 0 1 0 1 0 1 0 1 0 1 0 1 0 2 0 1 0 1 0 1 0 1 0 2 0 2 0 1 0 1 0 2 0 6 0 2 0 1 0 1 0 1 0 5 0 2 0 4 0 3 0 1 0 2 0 2 0 4 0 6 0-111 1 9 0 4 0 2 0 6 0 1 0 1 0 2 0 2 0 2 0 4 0 3 0 1 0 1 0 2 0 5 0 2 0 1 0 1 0 2 0 2 0 2 0 2 0 6 0 2 0 3 0 1 0 1 0 1 0 2 0 2 0 2 0-89 1 7 0 4 0 1 0 1 0 4 0 3 0 1 0 1 0 1 0 2 0 2 0 1 0 1 0 2 0 2 0 4 0 1 0 1 0 2 0 1 0 1 0 2 0 2 0 1 0 1 0 1 0 1 0 1 0 1 0 2 0 1 0 1 0 1 0 1 0 2 0 1 0 1 0 1 0 1 0 1 0 1 0 1 0 1 0 1 0 1 0 2 0 2 0 2 0 1 0 1 0 2 0 2 0 2 0 1 0 1 0 1 0 1 0 7 0 1 0 1 0 1 0 4 0 9 0-87 1 4 0 3 0 5 0 2 0 4 0 2 0 2 0 1 0 3 0 1 0 3 0 2 0 2 0 1 0 1 0 2 0 2 0 1 0 2 0 3 0 2 0 2 0 2 0 2 0 2 0 1 0 1 0 2 0 2 0 2 0 4 0 6 0 6 0 18 0-128 1 12 0 2 0 2 0 2 0 2 0 2 0 1 0 1 0 2 0 2 0 2 0 1 0 1 0 1 0 2 0 1 0 1 0 1 0 4 0 1 0 1 0 2 0 1 0 1 0 1 0 1 0 1 0 1 0 2 0 2 0 1 0 1 0 1 0 1 0 1 0 1 0 1 0 1 0 1 0 1 0 1 0 1 0 1 0 1 0 1 0 1 0 2 0 1 0 1 0 1 0 2 0 1 0 1 0 1 0 1 0 1 0 1 0 1 0 1 0 1 0 2 0 2 0 2 0 2 0 4 0 2 0 2 0 2 0 2 0 8 0-112 1 4 0 4 0 12 0 4 0 2 0 3 0 3 0 4 0 1 0 1 0 1 0 1 0 1 0 1 0 1 0 1 0 2 0 2 0 2 0 2 0 1 0 2 0 1 0 3 0 3 0 3 0 1 0 6 0 1 0 1 0 1 0 1 0 2 0 4 0 3 0 11 0 41 0-141 1 12 0 2 0 1 0 2 0 3 0 1 0 1 0 2 0 1 0 1 0 2 0 1 0 1 0 3 0 1 0 1 0 1 0 2 0 2 0 2 0 1 0 1 0 1 0 1 0 1 0 1 0 1 0 1 0 1 0 1 0 1 0 1 0 1 0 2 0 1 0 1 0 1 0 1 0 1 0 1 0 1 0 1 0 1 0 2 0 1 0 1 0 1 0 1 0 2 0 1 0 1 0 2 0 1 0 1 0 1 0 1 0 2 0 2 0 1 0 1 0 3 0 1 0 3 0 1 0 1 0 38 0-127 1 4 0 24 0 2 0 1 0 1 0 2 0 2 0 1 0 3 0 2 0 4 0 2 0 6 0 4 0 5 0 1 0 1 0 2 0 3 0 4 0 1 0 1 0 2 0 39 0-125 1 9 0 7 0 3 0 2 0 1 0 2 0 2 0 2 0 1 0 1 0 2 0 1 0 1 0 2 0 2 0 2 0 2 0 1 0 1 0 2 0 1 0 1 0 1 0 1 0 1 0 1 0 1 0 1 0 3 0 1 0 1 0 1 0 1 0 2 0 1 0 2 0 1 0 1 0 1 0 1 0 4 0 3 0 2 0 3 0 1 0 5 0 2 0 3 0 6 0 5 0 4 0 4 0-104 1 12 0 1 0 7 0 2 0 1 0 1 0 3 0 3 0 3 0 3 0 1 0 1 0 2 0 2 0 1 0 1 0 1 0 5 0 6 0 1 0 3 0 2 0 2 0 1 0 1 0 14 0 4 0-92 1 9 0 2 0 3 0 1 0 1 0 2 0 1 0 1 0 2 0 1 0 2 0 1 0 2 0 1 0 1 0 1 0 1 0 1 0 1 0 2 0 2 0 2 0 1 0 1 0 1 0 1 0 1 0 1 0 1 0 3 0 1 0 1 0 2 0 2 0 1 0 3 0 1 0 1 0 1 0 1 0 1 0 1 0 1 0 2 0 1 0 1 0 2 0 1 0 1 0 2 0 1 0 4 0 4 0 1 0 3 0 2 0 1 0 2 0 1 0 2 0 2 0 2 0 8 0-110 1 6 0 16 0 2 0 4 0 3 0 1 0 2 0 2 0 3 0 1 0 2 0 12 0 2 0 3 0 1 0 2 0 4 0 3 0 3 0 6 0 1 0 3 0 2 0 2 0 6 0-91 1 5 0 4 0 5 0 5 0 1 0 1 0 1 0 1 0 2 0 3 0 1 0 1 0 2 0 1 0 1 0 1 0 2 0 2 0 2 0 1 0 1 0 2 0 1 0 1 0 2 0 1 0 1 0 2 0 2 0 2 0 2 0 2 0 2 0 2 0 1 0 1 0 1 0 1 0 2 0 2 0 1 0 1 0 2 0 4 0 2 0 5 0 1 0 2 0 7 0 1 0 2 0 2 0-84 1 2 0 3 0 7 0 2 0 4 0 1 0 5 0 2 0 2 0 1 0 1 0 3 0 2 0 1 0 6 0 2 0 1 0 1 0 6 0 2 0 1 0 1 0 4 0 4 0 1 0 1 0 6 0-92 1 6 0 4 0 3 0 7 0 1 0 1 0 2 0 2 0 1 0 1 0 1 0 1 0 1 0 1 0 1 0 1 0 1 0 1 0 2 0 1 0 1 0 2 0 1 0 1 0 1 0 1 0 2 0 1 0 1 0 1 0 1 0 1 0 1 0 2 0 3 0 1 0 1 0 1 0 2 0 2 0 1 0 1 0 2 0 1 0 5 0 5 0 1 0 2 0 3 0 2 0 3 0 5 0-97 1 3 0 3 0 3 0 5 0 6 0 2 0 2 0 2 0 4 0 2 0 2 0 6 0 1 0 3 0 1 0 1 0 1 0 1 0 2 0 4 0 5 0 5 0 6 0 2 0 4 0 12 0-88 1 1 0 1 0 11 0 1 0 4 0 6 0 3 0 1 0 1 0 1 0 1 0 1 0 2 0 1 0 1 0 1 0 1 0 1 0 1 0 1 0 1 0 1 0 1 0 1 0 1 0 1 0 1 0 1 0 1 0 1 0 2 0 1 0 2 0 2 0 2 0 1 0 1 0 1 0 1 0 1 0 3 0 2 0 3 0 3 0 1 0 11 0 2 0-90 1 2 0 2 0 2 0 5 0 5 0 2 0 4 0 2 0 6 0 2 0 2 0 2 0 5 0 1 0 4 0 1 0 1 0 1 0 1 0 2 0 2 0 10 0 2 0 2 0 5 0 3 0-76 1 4 0 3 0 3 0 2 0 2 0 1 0 1 0 1 0 3 0 2 0 2 0 2 0 1 0 1 0 2 0 1 0 1 0 2 0 2 0 1 0 1 0 1 0 1 0 2 0 2 0 1 0 2 0 1 0 1 0 1 0 2 0 2 0 1 0 1 0 1 0 1 0 1 0 5 0 3 0 1 0 1 0 1 0 2 0 5 0 1 0 2 0 10 0 2 0 16 0-108 1 16 0 4 0 3 0 3 0 2 0 1 0 3 0 4 0 5 0 1 0 4 0 2 0 1 0 8 0 5 0 2 0 5 0 7 0-76 1 6 0 2 0 2 0 3 0 1 0 1 0 1 0 1 0 7 0 2 0 1 0 1 0 1 0 1 0 1 0 1 0 2 0 1 0 1 0 2 0 2 0 2 0 5 0 1 0 2 0 1 0 1 0 2 0 1 0 1 0 4 0 2 0 6 0 2 0 7 0 1 0 1 0 1 0 3 0 4 0 1 0-88 1 14 0 1 0 5 0 2 0 10 0 2 0 4 0 5 0 1 0 8 0 6 0 2 0 2 0 12 0 2 0 7 0-83 1 1 0 3 0 7 0 1 0 4 0 2 0 1 0 6 0 1 0 3 0 1 0 2 0 2 0 1 0 1 0 1 0 1 0 3 0 1 0 2 0 1 0 2 0 1 0 2 0 2 0 2 0 2 0 1 0 1 0 2 0 2 0 2 0 2 0 13 0 9 0 7 0-65 1 2 0 4 0 1 0 1 0 2 0 2 0 2 0 4 0 2 0 3 0 17 0 1 0 7 0-78 1 1 0 1 0 2 0 2 0 2 0 1 0 1 0 1 0 3 0 1 0 1 0 2 0 1 0 1 0 1 0 1 0 2 0 1 0 1 0 2 0 1 0 1 0 1 0 1 0 1 0 1 0 2 0 1 0 1 0 1 0 1 0 2 0 1 0 1 0 1 0 1 0 1 0 1 0 1 0 1 0 1 0 1 0 1 0 1 0 1 0 3 0 1 0 3 0 1 0 1 0 2 0 1 0 3 0 2 0 1 0 5 0 1 0 7 0-86 1 7 0 1 0 2 0 2 0 3 0 1 0 2 0 1 0 1 0 2 0 3 0 2 0 1 0 2 0 1 0 3 0 1 0 1 0 1 0 1 0 2 0 1 0 1 0 1 0 1 0 1 0 1 0 1 0 1 0 2 0 2 0 2 0 3 0 3 0 1 0 1 0 2 0 4 0 6 0 2 0 3 0" class="sc"/>
<rect x="853.00" y="726.70" width="199.40" height="199.10" fill="none" stroke="#222" stroke-width="1.6"/>
<line x1="921.90" y1="726.70" x2="921.90" y2="925.80" stroke="#111" stroke-width="1.8" stroke-linecap="butt"/>
<line x1="853.00" y1="858.50" x2="1052.40" y2="858.50" stroke="#111" stroke-width="1.8" stroke-linecap="butt"/>
<path d="M847.50 925.80H853.00M853.00 925.80V931.30M850.00 910.82H853.00M868.01 925.80V928.80M850.00 902.05H853.00M876.78 925.80V928.80M850.00 895.83H853.00M883.01 925.80V928.80M850.00 891.01H853.00M887.84 925.80V928.80M850.00 887.07H853.00M891.79 925.80V928.80M850.00 883.74H853.00M895.13 925.80V928.80M850.00 880.85H853.00M898.02 925.80V928.80M850.00 878.30H853.00M900.57 925.80V928.80M847.50 876.02H853.00M902.85 925.80V931.30M850.00 861.04H853.00M917.86 925.80V928.80M850.00 852.28H853.00M926.63 925.80V928.80M850.00 846.06H853.00M932.86 925.80V928.80M850.00 841.23H853.00M937.69 925.80V928.80M850.00 837.29H853.00M941.64 925.80V928.80M850.00 833.96H853.00M944.98 925.80V928.80M850.00 831.07H853.00M947.87 925.80V928.80M850.00 828.53H853.00M950.42 925.80V928.80M847.50 826.25H853.00M952.70 925.80V931.30M850.00 811.27H853.00M967.71 925.80V928.80M850.00 802.50H853.00M976.48 925.80V928.80M850.00 796.28H853.00M982.71 925.80V928.80M850.00 791.46H853.00M987.54 925.80V928.80M850.00 787.52H853.00M991.49 925.80V928.80M850.00 784.19H853.00M994.83 925.80V928.80M850.00 781.30H853.00M997.72 925.80V928.80M850.00 778.75H853.00M1000.27 925.80V928.80M847.50 776.48H853.00M1002.55 925.80V931.30M850.00 761.49H853.00M1017.56 925.80V928.80M850.00 752.73H853.00M1026.33 925.80V928.80M850.00 746.51H853.00M1032.56 925.80V928.80M850.00 741.68H853.00M1037.39 925.80V928.80M850.00 737.74H853.00M1041.34 925.80V928.80M850.00 734.41H853.00M1044.68 925.80V928.80M850.00 731.52H853.00M1047.57 925.80V928.80M850.00 728.98H853.00M1050.12 925.80V928.80M847.50 726.70H853.00M1052.40 925.80V931.30" stroke="#333" stroke-width="1.2" fill="none"/>
<text x="833.00" y="925.80" style="font-size:8px;fill:#444">10<tspan dy="-3" style="font-size:6px">0</tspan></text>
<text x="857.00" y="944.00" style="font-size:8px;fill:#444">10<tspan dy="-3" style="font-size:6px">0</tspan></text>
<text x="833.00" y="879.02" style="font-size:8px;fill:#444">10<tspan dy="-3" style="font-size:6px">1</tspan></text>
<text x="903.85" y="944.00" style="font-size:8px;fill:#444">10<tspan dy="-3" style="font-size:6px">1</tspan></text>
<text x="833.00" y="829.25" style="font-size:8px;fill:#444">10<tspan dy="-3" style="font-size:6px">2</tspan></text>
<text x="953.70" y="944.00" style="font-size:8px;fill:#444">10<tspan dy="-3" style="font-size:6px">2</tspan></text>
<text x="833.00" y="779.48" style="font-size:8px;fill:#444">10<tspan dy="-3" style="font-size:6px">3</tspan></text>
<text x="1003.55" y="944.00" style="font-size:8px;fill:#444">10<tspan dy="-3" style="font-size:6px">3</tspan></text>
<text x="833.00" y="734.70" style="font-size:8px;fill:#444">10<tspan dy="-3" style="font-size:6px">4</tspan></text>
<text x="1043.40" y="944.00" style="font-size:8px;fill:#444">10<tspan dy="-3" style="font-size:6px">4</tspan></text>
<text x="1011.35" y="760.99" style="font-size:31.5px">63</text>
<path d="m1239 782-25 3-12 1 20 0 35 2-30 2 1 0 69 0-103 2 30 1-10 1-2 2 23 0-40 2-1 1 34 0 14 0-58 1 19 0 9 0 20 0-23 1 1 0 8 0-20 1 5 0 13 0 10 0-33 1 5 0-20 1 5 0 16 0 15 0 6 0 14 0-46 1 6 0 20 0 2 0-40 1 4 0 13 0 11 0 5 0 1 0 6 0 2 0 4 0 3 0 1 0 18 0-54 1-26 1 20 0 13 0 1 0 8 0 2 0 4 0-30 1 5 0 13 0-14 1 2 0 4 0 2 0 1 0 7 0 3 0 10 0 5 0 11 0 18 0-13 1-54 1 6 0 2 0 2 0 6 0 3 0 5 0 1 0 1 0 2 0 2 0 4 0 8 0 4 0 2 0 56 0-96 1 2 0 11 0 3 0 8 0-32 1 14 0 3 0 1 0 2 0 1 0 3 0 2 0 2 0 3 0 1 0 2 0 2 0 3 0 3 0 38 0-70 1 4 0 6 0 24 0 6 0-58 1 1 0 1 0 2 0 3 0 7 0 4 0 1 0 5 0 1 0 4 0 3 0 3 0 2 0 16 0 1 0 5 0-39 1 6 0 8 0 10 0 1 0 5 0 2 0-54 1 1 0 1 0 1 0 3 0 5 0 1 0 2 0 4 0 6 0 2 0 2 0 2 0 1 0 1 0 2 0 2 0 2 0 1 0 5 0 7 0 9 0-56 1 1 0 2 0 9 0 4 0 3 0 1 0 3 0 8 0 8 0 2 0-51 1 14 0 2 0 1 0 5 0 2 0 1 0 2 0 2 0 1 0 2 0 1 0 7 0 1 0 2 0 1 0 4 0 4 0 2 0 2 0 8 0 2 0-48 1 4 0 2 0 2 0 4 0 2 0 2 0 4 0 2 0 4 0 19 0 2 0-58 1 2 0 3 0 2 0 6 0 1 0 8 0 1 0 2 0 1 0 1 0 1 0 2 0 4 0 1 0 2 0 2 0 1 0 1 0 1 0 1 0 5 0 9 0 2 0 17 0-62 1 1 0 2 0 2 0 1 0 4 0 8 0 1 0 3 0 1 0 2 0 3 0 1 0 6 0 1 0 25 0-81 1 1 0 6 0 4 0 2 0 1 0 1 0 2 0 2 0 1 0 1 0 2 0 2 0 2 0 1 0 1 0 2 0 3 0 1 0 2 0 1 0 1 0 2 0 2 0 2 0 2 0 8 0-44 1 4 0 8 0 3 0 10 0 7 0 2 0 1 0 5 0 11 0 5 0-70 1 6 0 2 0 3 0 6 0 2 0 2 0 7 0 2 0 2 0 1 0 1 0 2 0 1 0 1 0 1 0 1 0 1 0 1 0 1 0 1 0 1 0 1 0 2 0 2 0 3 0 1 0 2 0 2 0 2 0 2 0 8 0 58 0-122 1 4 0 6 0 5 0 6 0 1 0 1 0 1 0 2 0 2 0 2 0 14 0 5 0 9 0 40 0-122 1 16 0 4 0 2 0 6 0 1 0 1 0 3 0 1 0 2 0 2 0 2 0 1 0 1 0 2 0 2 0 2 0 1 0 1 0 1 0 1 0 2 0 1 0 1 0 2 0 2 0 1 0 1 0 2 0 1 0 1 0 2 0 2 0 1 0 1 0 2 0 4 0 2 0 2 0-72 1 12 0 14 0 2 0 1 0 1 0 5 0 1 0 2 0 1 0 3 0 6 0 2 0 2 0 4 0 3 0 5 0 10 0-62 1 7 0 1 0 4 0 2 0 2 0 2 0 1 0 1 0 1 0 1 0 1 0 1 0 2 0 2 0 1 0 1 0 2 0 2 0 1 0 1 0 2 0 1 0 1 0 2 0 1 0 1 0 1 0 2 0 2 0 6 0 2 0 3 0 18 0 8 0-84 1 8 0 4 0 4 0 6 0 2 0 2 0 2 0 1 0 6 0 4 0 2 0 1 0-66 1 3 0 6 0 7 0 1 0 1 0 1 0 4 0 1 0 2 0 2 0 2 0 2 0 2 0 2 0 1 0 1 0 2 0 1 0 1 0 2 0 1 0 1 0 1 0 1 0 1 0 1 0 2 0 2 0 2 0 2 0 2 0 1 0 1 0 2 0 4 0 4 0 2 0 2 0 2 0 8 0 30 0-88 1 2 0 2 0 1 0 4 0 3 0 1 0 1 0 2 0 4 0 2 0 4 0 2 0 4 0 2 0 2 0 6 0 1 0 8 0 8 0-79 1 2 0 6 0 8 0 6 0 2 0 2 0 2 0 1 0 1 0 1 0 2 0 1 0 2 0 2 0 1 0 1 0 1 0 1 0 4 0 2 0 2 0 2 0 1 0 1 0 2 0 1 0 4 0 1 0 4 0 4 0 8 0 2 0-83 1 9 0 10 0 3 0 9 0 2 0 2 0 1 0 2 0 3 0 2 0 4 0 2 0 2 0 2 0 2 0 2 0 2 0 3 0 25 0-78 1 1 0 8 0 1 0 2 0 2 0 3 0 3 0 4 0 1 0 1 0 1 0 1 0 1 0 1 0 1 0 1 0 1 0 1 0 2 0 2 0 1 0 2 0 1 0 2 0 3 0 1 0 2 0 1 0 1 0 1 0 1 0 1 0 1 0 2 0 1 0 1 0 8 0-58 1 2 0 2 0 2 0 8 0 2 0 1 0 1 0 2 0 2 0 2 0 4 0 1 0 1 0 4 0 2 0 2 0 1 0 1 0 3 0 1 0-83 1 30 0 1 0 1 0 2 0 3 0 2 0 2 0 1 0 1 0 2 0 1 0 1 0 2 0 2 0 1 0 1 0 1 0 1 0 2 0 2 0 1 0 1 0 4 0 2 0 1 0 1 0 1 0 1 0 2 0 4 0 3 0 1 0 1 0 1 0 3 0 1 0 3 0 1 0 8 0-73 1 3 0 8 0 4 0 2 0 6 0 1 0 6 0 1 0 4 0 4 0 1 0 1 0 4 0 1 0 1 0 2 0 1 0 2 0 1 0 2 0 1 0 1 0 4 0 2 0-69 1 5 0 2 0 4 0 4 0 2 0 1 0 1 0 2 0 1 0 1 0 1 0 1 0 2 0 2 0 1 0 1 0 1 0 1 0 2 0 1 0 1 0 1 0 1 0 2 0 2 0 1 0 1 0 1 0 1 0 1 0 1 0 2 0 1 0 1 0 1 0 1 0 1 0 3 0 3 0 1 0 6 0 2 0-58 1 8 0 2 0 3 0 1 0 4 0 2 0 2 0 4 0 1 0 3 0 1 0 1 0 2 0 1 0 5 0 4 0 3 0-57 1 4 0 2 0 1 0 5 0 1 0 1 0 1 0 1 0 1 0 1 0 2 0 1 0 2 0 1 0 2 0 2 0 1 0 1 0 1 0 1 0 1 0 1 0 1 0 1 0 2 0 2 0 2 0 1 0 1 0 1 0 1 0 1 0 1 0 1 0 1 0 2 0 3 0 2 0 3 0 8 0 6 0-72 1 20 0 2 0 2 0 3 0 3 0 2 0 2 0 2 0 2 0 2 0 4 0 4 0 3 0 1 0 3 0 1 0 16 0-67 1 3 0 3 0 1 0 1 0 3 0 1 0 1 0 1 0 3 0 1 0 1 0 2 0 1 0 1 0 2 0 2 0 1 0 1 0 2 0 1 0 1 0 2 0 1 0 1 0 1 0 1 0 1 0 1 0 2 0 2 0 2 0 1 0 1 0 1 0 2 0 2 0 1 0 2 0-68 1 12 0 6 0 2 0 2 0 1 0 1 0 7 0 1 0 2 0 3 0 1 0 1 0 1 0 1 0 1 0 1 0 3 0 2 0 1 0 1 0 4 0 2 0 6 0 1 0 9 0 2 0 28 0-98 1 5 0 1 0 4 0 2 0 2 0 2 0 1 0 1 0 2 0 1 0 1 0 1 0 1 0 1 0 1 0 1 0 1 0 1 0 1 0 2 0 2 0 2 0 1 0 1 0 2 0 1 0 1 0 3 0 1 0 2 0 2 0 2 0 1 0 1 0 2 0 2 0 2 0 4 0 2 0 4 0-64 1 6 0 2 0 5 0 1 0 4 0 2 0 2 0 4 0 2 0 4 0 4 0 3 0 1 0 4 0 2 0 6 0 30 0-93 1 5 0 8 0 2 0 3 0 3 0 2 0 1 0 3 0 1 0 1 0 1 0 1 0 2 0 1 0 3 0 3 0 1 0 1 0 1 0 1 0 1 0 2 0 2 0 1 0 1 0 1 0 1 0 1 0 1 0 2 0 1 0 3 0 1 0 1 0 2 0 4 0 4 0 6 0 4 0-82 1 6 0 8 0 10 0 2 0 2 0 2 0 1 0 1 0 2 0 2 0 2 0 2 0 4 0 2 0 3 0 1 0 4 0 4 0 4 0 4 0 2 0-78 1 15 0 3 0 5 0 1 0 3 0 1 0 1 0 5 0 1 0 1 0 1 0 1 0 2 0 2 0 1 0 1 0 2 0 1 0 1 0 1 0 1 0 3 0 2 0 1 0 1 0 1 0 2 0 1 0 1 0 1 0 1 0 2 0 2 0 2 0 12 0 1 0 18 0-81 1 6 0 7 0 1 0 1 0 1 0 4 0 2 0 10 0 4 0 2 0 3 0 1 0 2 0 10 0 4 0 4 0 12 0-122 1 30 0 16 0 4 0 4 0 2 0 2 0 2 0 2 0 2 0 1 0 1 0 2 0 1 0 2 0 1 0 1 0 1 0 2 0 1 0 1 0 1 0 1 0 1 0 1 0 1 0 1 0 2 0 2 0 2 0 2 0 1 0 1 0 1 0 3 0 1 0 2 0 2 0 1 0 4 0-71 1 11 0 6 0 5 0 3 0 1 0 1 0 1 0 3 0 1 0 1 0 2 0 2 0 1 0 3 0 4 0 1 0 1 0 2 0 2 0 1 0 1 0 4 0 2 0-88 1 17 0 12 0 3 0 2 0 5 0 4 0 3 0 2 0 2 0 1 0 1 0 1 0 1 0 2 0 2 0 1 0 1 0 1 0 1 0 2 0 1 0 1 0 2 0 1 0 1 0 1 0 1 0 2 0 2 0 1 0 1 0 2 0 2 0 5 0 1 0 4 0 2 0 2 0 4 0 1 0 1 0 2 0 21 0-93 1 14 0 5 0 2 0 1 0 8 0 4 0 1 0 2 0 1 0 2 0 2 0 2 0 2 0 2 0 2 0 8 0 12 0 4 0-126 1 4 0 42 0 7 0 4 0 3 0 6 0 1 0 1 0 1 0 1 0 2 0 1 0 1 0 2 0 1 0 1 0 2 0 1 0 1 0 1 0 1 0 2 0 2 0 2 0 1 0 1 0 1 0 1 0 2 0 1 0 1 0 1 0 1 0 2 0 1 0 1 0 4 0 6 0 4 0 2 0 4 0 4 0 6 0 2 0-80 1 4 0 7 0 3 0 4 0 5 0 1 0 1 0 9 0 1 0 1 0 2 0 6 0 2 0 2 0 30 0 2 0 8 0-120 1 18 0 6 0 2 0 2 0 2 0 6 0 2 0 2 0 1 0 2 0 1 0 1 0 1 0 2 0 2 0 2 0 1 0 3 0 1 0 1 0 2 0 1 0 1 0 2 0 1 0 1 0 2 0 1 0 3 0 1 0 3 0 1 0 1 0 2 0 1 0 1 0 1 0 3 0 4 0 1 0 5 0 8 0-88 1 11 0 1 0 8 0 2 0 2 0 2 0 3 0 1 0 4 0 1 0 4 0 1 0 1 0 1 0 3 0 1 0 2 0 1 0 3 0 1 0 12 0 1 0 2 0 4 0 1 0 1 0 2 0 4 0 10 0 2 0 1 0-121 1 24 0 10 0 5 0 3 0 2 0 2 0 4 0 3 0 2 0 1 0 2 0 2 0 1 0 1 0 1 0 3 0 1 0 1 0 1 0 1 0 1 0 1 0 1 0 1 0 1 0 1 0 1 0 1 0 1 0 1 0 2 0 1 0 1 0 2 0 1 0 1 0 4 0 2 0 3 0 7 0 8 0 4 0 8 0 6 0 7 0-101 1 2 0 6 0 7 0 7 0 1 0 1 0 1 0 1 0 3 0 1 0 2 0 2 0 3 0 1 0 4 0 1 0 3 0 1 0 10 0 7 0 22 0-106 1 16 0 4 0 1 0 4 0 1 0 2 0 2 0 3 0 1 0 2 0 1 0 1 0 1 0 1 0 3 0 1 0 1 0 1 0 1 0 1 0 2 0 1 0 1 0 1 0 1 0 1 0 1 0 1 0 1 0 2 0 1 0 1 0 1 0 1 0 1 0 1 0 1 0 1 0 1 0 1 0 1 0 3 0 1 0 1 0 1 0 1 0 1 0 1 0 6 0 2 0 2 0 3 0 2 0 1 0 4 0-89 1 17 0 6 0 1 0 1 0 6 0 2 0 1 0 1 0 1 0 2 0 1 0 2 0 2 0 2 0 4 0 2 0 2 0 4 0 3 0 15 0 6 0-100 1 24 0 2 0 4 0 2 0 4 0 2 0 3 0 2 0 1 0 1 0 1 0 1 0 1 0 2 0 1 0 1 0 2 0 1 0 1 0 1 0 1 0 2 0 3 0 1 0 1 0 1 0 2 0 1 0 1 0 2 0 1 0 1 0 1 0 1 0 1 0 3 0 2 0 2 0 2 0 1 0 5 0 3 0 3 0 3 0 1 0 3 0 5 0 4 0 11 0 4 0-137 1 30 0 7 0 1 0 6 0 1 0 3 0 2 0 2 0 2 0 1 0 3 0 2 0 2 0 1 0 1 0 1 0 4 0 1 0 2 0 2 0 4 0 2 0 1 0 5 0 2 0 2 0 3 0 1 0 2 0 1 0 1 0 8 0 2 0 2 0 16 0-102 1 4 0 9 0 1 0 2 0 4 0 1 0 1 0 1 0 1 0 1 0 1 0 2 0 1 0 1 0 1 0 3 0 1 0 1 0 2 0 1 0 1 0 1 0 1 0 1 0 1 0 1 0 1 0 1 0 1 0 1 0 1 0 2 0 1 0 1 0 1 0 1 0 1 0 1 0 1 0 1 0 1 0 1 0 1 0 1 0 1 0 2 0 1 0 1 0 1 0 3 0 1 0 1 0 1 0 1 0 1 0 2 0 2 0 2 0 2 0 1 0 5 0 1 0 7 0 7 0 1 0-106 1 16 0 1 0 1 0 2 0 2 0 2 0 2 0 1 0 1 0 2 0 2 0 1 0 1 0 2 0 1 0 1 0 2 0 2 0 1 0 1 0 1 0 1 0 1 0 1 0 1 0 2 0 2 0 1 0 1 0 1 0 2 0 2 0 2 0 5 0 1 0 1 0 14 0-105 1 15 0 3 0 9 0 5 0 2 0 2 0 1 0 1 0 1 0 1 0 2 0 1 0 1 0 2 0 2 0 1 0 1 0 2 0 1 0 1 0 2 0 1 0 1 0 1 0 1 0 1 0 1 0 1 0 1 0 1 0 1 0 1 0 1 0 1 0 1 0 1 0 1 0 1 0 1 0 2 0 1 0 1 0 1 0 1 0 2 0 2 0 1 0 1 0 1 0 2 0 1 0 2 0 2 0 1 0 1 0 2 0 2 0 2 0 6 0 3 0 4 0-105 1 4 0 10 0 3 0 5 0 2 0 6 0 1 0 1 0 1 0 2 0 1 0 3 0 1 0 2 0 1 0 2 0 1 0 3 0 1 0 1 0 1 0 4 0 1 0 1 0 1 0 1 0 1 0 1 0 1 0 1 0 1 0 1 0 1 0 1 0 1 0 1 0 1 0 1 0 1 0 1 0 1 0 1 0 2 0 2 0 3 0 1 0 2 0 28 0-116 1 12 0 4 0 2 0 3 0 3 0 1 0 1 0 2 0 1 0 1 0 1 0 1 0 1 0 1 0 2 0 1 0 1 0 1 0 1 0 1 0 1 0 1 0 1 0 1 0 1 0 1 0 1 0 1 0 1 0 1 0 1 0 1 0 1 0 1 0 1 0 1 0 1 0 1 0 1 0 2 0 1 0 1 0 1 0 1 0 1 0 1 0 1 0 1 0 1 0 1 0 1 0 1 0 1 0 1 0 1 0 1 0 1 0 1 0 1 0 1 0 2 0 2 0 1 0 1 0 1 0 4 0 1 0 2 0 1 0 1 0 1 0 5 0 10 0-124 1 8 0 22 0 6 0 2 0 4 0 1 0 3 0 2 0 1 0 1 0 2 0 1 0 1 0 2 0 1 0 1 0 1 0 1 0 1 0 1 0 1 0 1 0 1 0 1 0 2 0 2 0 1 0 1 0 1 0 1 0 1 0 1 0 1 0 1 0 1 0 1 0 1 0 1 0 2 0 2 0 1 0 1 0 1 0 1 0 2 0 1 0 1 0 1 0 1 0 2 0 2 0 4 0 6 0 4 0 28 0-156 1 5 0 19 0 6 0 6 0 4 0 1 0 1 0 1 0 1 0 1 0 5 0 1 0 1 0 1 0 1 0 1 0 1 0 1 0 1 0 1 0 1 0 1 0 1 0 2 0 1 0 1 0 1 0 1 0 1 0 1 0 1 0 1 0 1 0 1 0 1 0 1 0 1 0 1 0 1 0 1 0 1 0 1 0 1 0 1 0 1 0 1 0 1 0 1 0 1 0 1 0 1 0 1 0 1 0 1 0 1 0 1 0 2 0 1 0 1 0 1 0 1 0 1 0 1 0 1 0 1 0 1 0 1 0 1 0 1 0 2 0 2 0 1 0 3 0 1 0 1 0 2 0 8 0 4 0 6 0-120 1 6 0 8 0 2 0 2 0 2 0 4 0 2 0 2 0 1 0 2 0 1 0 1 0 1 0 1 0 1 0 1 0 1 0 2 0 1 0 1 0 2 0 1 0 1 0 1 0 1 0 1 0 1 0 2 0 1 0 1 0 1 0 1 0 1 0 1 0 1 0 1 0 1 0 1 0 2 0 1 0 1 0 1 0 1 0 1 0 1 0 3 0 1 0 2 0 2 0 2 0 1 0 2 0 1 0 2 0 4 0 8 0 5 0 2 0 5 0-130 1 3 0 9 0 4 0 4 0 5 0 8 0 1 0 2 0 1 0 1 0 2 0 2 0 2 0 2 0 1 0 1 0 1 0 1 0 1 0 1 0 1 0 1 0 1 0 1 0 1 0 1 0 1 0 1 0 1 0 1 0 1 0 1 0 1 0 1 0 1 0 1 0 1 0 1 0 1 0 1 0 1 0 1 0 1 0 1 0 1 0 1 0 1 0 1 0 1 0 1 0 1 0 1 0 1 0 1 0 1 0 1 0 1 0 1 0 1 0 1 0 1 0 1 0 2 0 1 0 1 0 1 0 1 0 1 0 1 0 1 0 1 0 2 0 1 0 1 0 1 0 2 0 1 0 1 0 1 0 2 0 4 0 1 0 5 0 4 0 2 0 5 0-114 1 15 0 4 0 4 0 1 0 1 0 2 0 2 0 1 0 1 0 1 0 1 0 2 0 1 0 1 0 1 0 1 0 1 0 1 0 1 0 1 0 1 0 1 0 1 0 1 0 1 0 1 0 1 0 1 0 1 0 1 0 1 0 1 0 1 0 1 0 1 0 1 0 2 0 1 0 1 0 2 0 1 0 1 0 1 0 1 0 1 0 1 0 1 0 1 0 2 0 1 0 3 0 1 0 1 0 1 0 1 0 3 0 1 0 4 0 4 0 2 0 6 0-112 1 3 0 4 0 3 0 1 0 2 0 6 0 1 0 2 0 1 0 1 0 2 0 1 0 1 0 1 0 1 0 1 0 1 0 1 0 1 0 1 0 1 0 1 0 1 0 1 0 1 0 1 0 1 0 1 0 1 0 1 0 1 0 1 0 1 0 1 0 1 0 1 0 1 0 1 0 1 0 1 0 1 0 1 0 1 0 1 0 1 0 1 0 1 0 1 0 1 0 1 0 1 0 1 0 1 0 1 0 1 0 1 0 1 0 1 0 1 0 1 0 1 0 1 0 1 0 1 0 1 0 1 0 1 0 1 0 1 0 1 0 1 0 1 0 1 0 1 0 1 0 1 0 1 0 1 0 1 0 2 0 1 0 1 0 1 0 1 0 2 0 2 0 3 0 1 0 3 0 4 0-113 1 21 0 3 0 2 0 2 0 2 0 1 0 1 0 1 0 1 0 1 0 1 0 2 0 1 0 1 0 1 0 1 0 1 0 1 0 1 0 1 0 2 0 1 0 1 0 1 0 1 0 1 0 1 0 1 0 1 0 1 0 1 0 1 0 1 0 1 0 1 0 1 0 1 0 1 0 1 0 2 0 1 0 1 0 1 0 1 0 1 0 1 0 1 0 1 0 1 0 1 0 1 0 1 0 2 0 2 0 2 0 1 0 1 0 2 0 2 0 1 0 1 0 2 0 4 0 6 0 2 0 4 0-112 1 4 0 10 0 2 0 2 0 1 0 1 0 2 0 2 0 2 0 1 0 1 0 1 0 1 0 1 0 1 0 1 0 1 0 1 0 1 0 1 0 1 0 1 0 1 0 1 0 1 0 1 0 1 0 1 0 1 0 1 0 1 0 1 0 1 0 1 0 1 0 1 0 1 0 1 0 1 0 1 0 1 0 1 0 1 0 1 0 1 0 1 0 1 0 1 0 1 0 1 0 1 0 1 0 1 0 1 0 1 0 1 0 1 0 1 0 1 0 1 0 1 0 1 0 1 0 1 0 1 0 1 0 1 0 2 0 1 0 1 0 1 0 1 0 1 0 1 0 1 0 1 0 2 0 4 0 2 0 1 0 1 0 4 0 4 0 1 0 1 0 6 0 2 0 4 0 2 0-128 1 10 0 1 0 3 0 2 0 6 0 1 0 1 0 2 0 1 0 1 0 1 0 3 0 2 0 1 0 1 0 1 0 1 0 1 0 1 0 1 0 1 0 1 0 1 0 1 0 1 0 1 0 1 0 1 0 1 0 1 0 1 0 1 0 1 0 1 0 1 0 1 0 1 0 1 0 1 0 1 0 1 0 1 0 1 0 1 0 1 0 1 0 1 0 2 0 1 0 1 0 2 0 1 0 1 0 2 0 2 0 2 0 1 0 1 0 1 0 1 0 2 0 1 0 3 0 1 0 2 0 1 0 1 0 1 0 2 0 4 0 1 0 6 0 2 0 1 0 8 0 4 0-132 1 10 0 12 0 2 0 2 0 1 0 1 0 1 0 1 0 1 0 1 0 1 0 1 0 2 0 1 0 1 0 2 0 1 0 1 0 1 0 1 0 2 0 1 0 1 0 1 0 1 0 1 0 1 0 1 0 1 0 1 0 1 0 1 0 1 0 1 0 1 0 1 0 1 0 1 0 1 0 1 0 1 0 1 0 1 0 1 0 1 0 1 0 1 0 1 0 1 0 1 0 1 0 1 0 1 0 1 0 1 0 1 0 1 0 1 0 1 0 1 0 1 0 1 0 1 0 1 0 1 0 2 0 1 0 1 0 1 0 1 0 1 0 1 0 2 0 2 0 2 0 1 0 1 0 2 0 1 0 3 0 6 0 2 0 5 0 1 0 3 0 1 0 11 0-124 1 6 0 1 0 8 0 2 0 1 0 1 0 4 0 1 0 1 0 2 0 1 0 1 0 1 0 1 0 1 0 1 0 1 0 1 0 2 0 1 0 1 0 1 0 1 0 1 0 1 0 1 0 1 0 1 0 1 0 1 0 1 0 2 0 1 0 1 0 1 0 1 0 1 0 1 0 1 0 1 0 1 0 1 0 1 0 1 0 1 0 1 0 1 0 1 0 2 0 1 0 1 0 1 0 1 0 1 0 1 0 4 0 3 0 1 0 1 0 1 0 4 0 3 0 5 0 8 0-132 1 2 0 8 0 11 0 7 0 4 0 1 0 1 0 1 0 1 0 1 0 1 0 1 0 2 0 1 0 1 0 1 0 2 0 2 0 1 0 1 0 1 0 1 0 1 0 1 0 1 0 1 0 1 0 1 0 1 0 1 0 1 0 1 0 1 0 1 0 1 0 1 0 1 0 1 0 1 0 1 0 1 0 1 0 1 0 1 0 1 0 1 0 1 0 1 0 1 0 1 0 1 0 1 0 1 0 1 0 1 0 1 0 1 0 1 0 1 0 1 0 1 0 1 0 1 0 1 0 1 0 1 0 2 0 2 0 1 0 1 0 1 0 1 0 1 0 1 0 2 0 2 0 1 0 1 0 2 0 2 0 2 0 1 0 1 0 2 0 2 0 17 0-140 1 27 0 4 0 1 0 1 0 4 0 2 0 1 0 1 0 2 0 1 0 1 0 2 0 1 0 1 0 1 0 1 0 1 0 1 0 1 0 1 0 1 0 1 0 2 0 1 0 1 0 1 0 1 0 1 0 1 0 1 0 1 0 1 0 1 0 1 0 1 0 1 0 1 0 1 0 1 0 2 0 1 0 1 0 1 0 1 0 2 0 1 0 1 0 2 0 2 0 1 0 1 0 2 0 2 0 2 0 1 0 1 0 1 0 1 0 2 0 1 0 1 0 2 0 2 0 6 0 3 0 3 0 1 0 2 0 2 0 3 0-130 1 6 0 3 0 7 0 3 0 5 0 2 0 2 0 1 0 1 0 1 0 1 0 2 0 2 0 1 0 1 0 1 0 2 0 1 0 1 0 1 0 1 0 1 0 1 0 1 0 1 0 1 0 1 0 1 0 2 0 1 0 1 0 1 0 1 0 1 0 1 0 1 0 1 0 1 0 1 0 1 0 1 0 1 0 1 0 1 0 1 0 1 0 1 0 1 0 1 0 1 0 1 0 1 0 1 0 1 0 1 0 1 0 1 0 1 0 1 0 1 0 1 0 1 0 1 0 1 0 1 0 2 0 1 0 1 0 1 0 1 0 1 0 1 0 1 0 1 0 1 0 1 0 1 0 1 0 2 0 1 0 1 0 6 0 2 0 1 0 1 0 1 0 2 0 1 0 12 0 6 0 4 0-140 1 2 0 4 0 16 0 10 0 2 0 7 0 1 0 1 0 3 0 3 0 1 0 1 0 1 0 2 0 1 0 1 0 2 0 2 0 1 0 1 0 1 0 1 0 1 0 1 0 1 0 1 0 1 0 1 0 1 0 1 0 1 0 1 0 1 0 1 0 1 0 1 0 1 0 1 0 1 0 1 0 2 0 4 0 1 0 1 0 2 0 1 0 1 0 2 0 2 0 2 0 3 0 1 0 2 0 1 0 5 0 1 0 3 0 7 0 3 0 5 0-135 1 4 0 2 0 2 0 11 0 4 0 1 0 2 0 2 0 2 0 2 0 2 0 5 0 1 0 2 0 1 0 1 0 1 0 1 0 1 0 1 0 1 0 1 0 1 0 1 0 1 0 1 0 1 0 1 0 1 0 1 0 1 0 1 0 1 0 1 0 1 0 1 0 1 0 1 0 1 0 1 0 1 0 1 0 1 0 1 0 1 0 1 0 1 0 1 0 1 0 1 0 1 0 1 0 1 0 1 0 1 0 1 0 1 0 1 0 1 0 1 0 1 0 1 0 1 0 1 0 2 0 1 0 1 0 1 0 1 0 1 0 1 0 2 0 1 0 1 0 2 0 2 0 2 0 2 0 1 0 1 0 2 0 1 0 1 0 1 0 1 0 2 0 2 0 2 0 3 0 1 0 4 0 1 0-125 1 6 0 2 0 9 0 11 0 2 0 1 0 1 0 2 0 2 0 5 0 1 0 2 0 1 0 1 0 1 0 1 0 1 0 1 0 1 0 1 0 1 0 1 0 1 0 1 0 1 0 1 0 1 0 1 0 1 0 1 0 2 0 1 0 1 0 2 0 1 0 1 0 2 0 1 0 1 0 2 0 2 0 1 0 2 0 1 0 2 0 1 0 2 0 1 0 2 0 1 0 1 0 2 0 1 0 3 0 2 0 4 0 1 0 1 0 7 0 3 0-126 1 2 0 4 0 2 0 1 0 1 0 4 0 2 0 4 0 2 0 2 0 3 0 1 0 1 0 1 0 1 0 1 0 1 0 1 0 1 0 1 0 1 0 1 0 2 0 2 0 2 0 1 0 1 0 2 0 1 0 1 0 1 0 1 0 1 0 1 0 2 0 1 0 1 0 1 0 1 0 1 0 1 0 1 0 1 0 1 0 1 0 1 0 1 0 1 0 1 0 1 0 1 0 1 0 1 0 1 0 1 0 1 0 1 0 1 0 1 0 1 0 1 0 2 0 2 0 1 0 1 0 1 0 1 0 1 0 1 0 1 0 1 0 1 0 1 0 2 0 2 0 2 0 1 0 1 0 1 0 1 0 2 0 1 0 1 0 2 0 1 0 1 0 2 0 1 0 2 0 3 0 2 0 4 0 4 0 8 0 2 0-116 1 6 0 1 0 1 0 2 0 2 0 2 0 1 0 1 0 1 0 3 0 1 0 2 0 1 0 1 0 1 0 1 0 1 0 2 0 2 0 2 0 1 0 1 0 2 0 2 0 2 0 1 0 2 0 1 0 2 0 1 0 1 0 2 0 1 0 1 0 1 0 1 0 2 0 2 0 2 0 1 0 1 0 2 0 1 0 1 0 1 0 1 0 1 0 1 0 1 0 1 0 1 0 1 0 2 0 2 0 2 0 1 0 1 0 2 0 3 0 2 0 1 0 2 0 2 0 12 0-130 1 4 0 3 0 1 0 6 0 5 0 3 0 2 0 2 0 2 0 3 0 3 0 2 0 2 0 1 0 1 0 1 0 1 0 2 0 1 0 1 0 1 0 1 0 1 0 1 0 1 0 1 0 1 0 1 0 1 0 1 0 1 0 1 0 1 0 1 0 2 0 1 0 1 0 1 0 1 0 1 0 1 0 1 0 1 0 1 0 1 0 2 0 1 0 1 0 1 0 1 0 1 0 1 0 1 0 1 0 1 0 1 0 1 0 1 0 2 0 1 0 1 0 1 0 1 0 1 0 1 0 2 0 1 0 1 0 1 0 1 0 1 0 1 0 2 0 2 0 1 0 1 0 1 0 1 0 2 0 2 0 2 0 2 0 2 0 1 0 1 0 2 0 4 0 4 0-134 1 2 0 2 0 5 0 3 0 1 0 5 0 6 0 4 0 4 0 2 0 6 0 4 0 2 0 4 0 2 0 4 0 1 0 1 0 2 0 1 0 1 0 1 0 2 0 3 0 2 0 1 0 1 0 1 0 1 0 2 0 1 0 1 0 2 0 2 0 2 0 2 0 2 0 2 0 3 0 1 0 3 0 1 0 2 0 2 0 1 0 2 0 3 0 4 0 4 0 2 0 1 0 1 0 12 0-134 1 2 0 4 0 3 0 7 0 2 0 2 0 1 0 3 0 3 0 1 0 2 0 2 0 4 0 3 0 1 0 1 0 1 0 1 0 1 0 1 0 2 0 1 0 1 0 1 0 2 0 1 0 1 0 1 0 1 0 2 0 1 0 1 0 1 0 2 0 2 0 1 0 2 0 2 0 1 0 1 0 1 0 1 0 1 0 1 0 1 0 1 0 1 0 1 0 2 0 1 0 1 0 1 0 1 0 1 0 1 0 1 0 1 0 1 0 1 0 1 0 1 0 2 0 1 0 1 0 2 0 1 0 1 0 1 0 1 0 1 0 1 0 1 0 1 0 1 0 3 0 1 0 2 0 1 0 4 0 2 0 1 0 17 0 4 0 14 0-145 1 6 0 1 0 2 0 4 0 6 0 4 0 2 0 4 0 2 0 2 0 1 0 1 0 1 0 1 0 1 0 1 0 5 0 1 0 2 0 2 0 2 0 1 0 1 0 1 0 2 0 1 0 1 0 1 0 1 0 1 0 1 0 1 0 2 0 2 0 2 0 1 0 1 0 3 0 1 0 1 0 1 0 2 0 1 0 1 0 2 0 2 0 2 0 2 0 2 0 2 0 1 0 3 0 2 0 2 0 1 0-115 1 1 0 1 0 4 0 2 0 8 0 1 0 3 0 4 0 1 0 1 0 2 0 2 0 1 0 1 0 2 0 2 0 4 0 2 0 2 0 1 0 1 0 1 0 1 0 1 0 1 0 1 0 1 0 2 0 2 0 1 0 1 0 1 0 2 0 1 0 1 0 1 0 1 0 1 0 1 0 2 0 1 0 1 0 1 0 1 0 1 0 1 0 1 0 1 0 1 0 1 0 1 0 1 0 1 0 2 0 1 0 1 0 1 0 1 0 1 0 1 0 1 0 1 0 1 0 1 0 1 0 1 0 2 0 1 0 1 0 1 0 1 0 1 0 1 0 1 0 1 0 2 0 2 0 1 0 1 0 2 0 1 0 1 0 3 0 1 0 3 0 3 0 3 0 5 0 6 0-133 1 1 0 4 0 1 0 5 0 4 0 1 0 1 0 2 0 2 0 2 0 2 0 1 0 3 0 2 0 1 0 5 0 5 0 1 0 2 0 2 0 2 0 1 0 3 0 4 0 2 0 2 0 1 0 2 0 1 0 2 0 1 0 2 0 1 0 2 0 2 0 1 0 1 0 1 0 1 0 2 0 2 0 1 0 1 0 1 0 3 0 2 0 1 0 1 0 2 0 3 0 1 0 1 0 3 0 2 0 1 0 6 0 1 0 2 0 6 0 18 0-144 1 2 0 4 0 2 0 2 0 2 0 1 0 1 0 2 0 2 0 2 0 1 0 1 0 1 0 1 0 2 0 1 0 1 0 1 0 1 0 2 0 2 0 1 0 1 0 1 0 1 0 1 0 1 0 2 0 1 0 1 0 1 0 1 0 1 0 1 0 1 0 1 0 1 0 1 0 1 0 1 0 1 0 1 0 2 0 1 0 1 0 2 0 1 0 1 0 1 0 1 0 1 0 1 0 1 0 1 0 1 0 1 0 2 0 1 0 1 0 1 0 1 0 1 0 1 0 1 0 1 0 2 0 2 0 2 0 1 0 1 0 1 0 1 0 2 0 1 0 1 0 1 0 1 0 1 0 1 0 1 0 1 0 1 0 1 0 2 0 1 0 1 0 1 0 1 0 3 0 1 0 1 0 2 0 1 0 1 0 1 0 2 0 2 0 1 0 17 0-144 1 2 0 9 0 5 0 4 0 5 0 1 0 1 0 7 0 1 0 3 0 1 0 3 0 1 0 1 0 1 0 1 0 5 0 1 0 2 0 4 0 2 0 4 0 1 0 4 0 1 0 2 0 2 0 1 0 1 0 1 0 2 0 3 0 1 0 1 0 1 0 1 0 1 0 1 0 1 0 1 0 2 0 1 0 1 0 1 0 1 0 2 0 2 0 2 0 1 0 1 0 1 0 1 0 2 0 1 0 1 0 12 0 6 0-127 1 3 0 4 0 4 0 2 0 2 0 2 0 2 0 1 0 2 0 1 0 2 0 2 0 2 0 2 0 2 0 1 0 1 0 1 0 1 0 1 0 1 0 1 0 1 0 2 0 1 0 1 0 1 0 1 0 1 0 1 0 1 0 1 0 2 0 1 0 1 0 1 0 1 0 2 0 1 0 1 0 2 0 1 0 1 0 1 0 1 0 1 0 1 0 2 0 2 0 1 0 1 0 1 0 1 0 1 0 1 0 1 0 1 0 1 0 1 0 1 0 1 0 1 0 1 0 1 0 1 0 1 0 1 0 2 0 2 0 1 0 1 0 2 0 1 0 1 0 2 0 1 0 1 0 2 0 1 0 1 0 5 0 1 0 2 0 1 0 1 0 1 0 1 0 12 0 2 0-130 1 2 0 8 0 8 0 4 0 2 0 1 0 3 0 1 0 1 0 2 0 2 0 4 0 1 0 2 0 1 0 2 0 2 0 4 0 1 0 1 0 2 0 2 0 1 0 1 0 1 0 1 0 2 0 1 0 1 0 2 0 1 0 1 0 1 0 3 0 2 0 3 0 1 0 2 0 1 0 1 0 2 0 4 0 2 0 3 0 1 0 1 0 1 0 1 0 1 0 1 0 3 0 1 0 1 0 1 0 1 0 1 0 1 0 12 0 10 0-136 1 1 0 1 0 4 0 2 0 1 0 4 0 1 0 2 0 1 0 1 0 2 0 1 0 1 0 1 0 1 0 1 0 1 0 4 0 2 0 1 0 1 0 2 0 2 0 1 0 1 0 1 0 2 0 2 0 1 0 2 0 1 0 1 0 1 0 1 0 1 0 1 0 1 0 1 0 2 0 2 0 2 0 1 0 1 0 2 0 2 0 1 0 1 0 1 0 1 0 2 0 1 0 1 0 1 0 1 0 1 0 1 0 1 0 1 0 2 0 1 0 1 0 1 0 1 0 1 0 1 0 1 0 1 0 1 0 1 0 1 0 1 0 1 0 1 0 2 0 1 0 1 0 1 0 1 0 1 0 1 0 2 0 2 0 1 0 1 0 1 0 1 0 2 0 2 0 3 0 1 0 2 0 3 0 1 0 1 0 3 0-132 1 1 0 1 0 1 0 1 0 2 0 3 0 1 0 2 0 2 0 4 0 4 0 4 0 4 0 2 0 2 0 6 0 2 0 2 0 2 0 1 0 1 0 2 0 2 0 2 0 5 0 3 0 2 0 2 0 2 0 3 0 1 0 1 0 1 0 4 0 2 0 1 0 1 0 2 0 1 0 1 0 1 0 1 0 1 0 1 0 1 0 1 0 2 0 4 0 2 0 6 0 1 0 1 0 3 0 1 0 1 0 9 0-122 1 2 0 2 0 7 0 2 0 3 0 1 0 1 0 2 0 1 0 1 0 1 0 2 0 1 0 1 0 1 0 1 0 1 0 1 0 1 0 1 0 1 0 1 0 1 0 1 0 1 0 1 0 1 0 1 0 1 0 2 0 2 0 1 0 1 0 1 0 1 0 1 0 1 0 1 0 1 0 1 0 1 0 2 0 1 0 1 0 1 0 1 0 1 0 1 0 2 0 1 0 1 0 1 0 1 0 1 0 1 0 1 0 1 0 1 0 1 0 1 0 1 0 1 0 1 0 1 0 1 0 1 0 1 0 1 0 1 0 1 0 1 0 1 0 1 0 1 0 1 0 1 0 1 0 1 0 1 0 1 0 1 0 2 0 1 0 1 0 1 0 1 0 1 0 1 0 2 0 1 0 1 0 1 0 1 0 1 0 1 0 1 0 1 0 3 0 2 0 28 0-147 1 5 0 13 0 2 0 2 0 1 0 3 0 1 0 3 0 2 0 3 0 1 0 1 0 1 0 2 0 2 0 6 0 1 0 5 0 2 0 1 0 3 0 2 0 1 0 3 0 1 0 3 0 5 0 1 0 2 0 2 0 1 0 1 0 2 0 1 0 1 0 2 0 2 0 2 0 2 0 6 0 2 0 2 0 2 0 3 0 2 0 1 0 1 0 1 0 3 0 9 0-128 1 1 0 1 0 2 0 3 0 1 0 1 0 1 0 2 0 2 0 1 0 1 0 2 0 1 0 1 0 2 0 1 0 1 0 2 0 4 0 1 0 1 0 1 0 1 0 1 0 1 0 1 0 1 0 1 0 1 0 2 0 1 0 1 0 4 0 2 0 2 0 1 0 1 0 2 0 1 0 1 0 1 0 1 0 1 0 1 0 1 0 1 0 1 0 1 0 1 0 1 0 1 0 1 0 1 0 1 0 1 0 1 0 2 0 1 0 1 0 2 0 1 0 1 0 1 0 1 0 1 0 1 0 1 0 1 0 2 0 1 0 1 0 2 0 1 0 1 0 1 0 1 0 1 0 1 0 1 0 1 0 2 0 1 0 1 0 1 0 1 0 2 0 2 0 1 0 1 0 7 0 1 0 26 0-146 1 4 0 2 0 4 0 4 0 2 0 4 0 8 0 1 0 3 0 2 0 1 0 1 0 3 0 3 0 6 0 2 0 2 0 4 0 2 0 1 0 8 0 2 0 1 0 2 0 7 0 1 0 2 0 2 0 1 0 1 0 4 0 2 0 2 0 2 0 4 0 2 0 1 0 1 0 2 0 8 0 6 0-122 1 2 0 1 0 1 0 2 0 4 0 1 0 1 0 2 0 2 0 2 0 2 0 4 0 1 0 3 0 2 0 1 0 1 0 1 0 1 0 1 0 1 0 2 0 1 0 1 0 2 0 1 0 1 0 1 0 1 0 1 0 1 0 1 0 2 0 1 0 3 0 3 0 2 0 2 0 1 0 1 0 1 0 1 0 1 0 1 0 2 0 1 0 1 0 1 0 1 0 2 0 1 0 1 0 1 0 1 0 1 0 1 0 2 0 1 0 1 0 1 0 1 0 2 0 1 0 1 0 1 0 2 0 1 0 1 0 1 0 1 0 1 0 2 0 2 0 2 0 1 0 1 0 1 0 1 0 2 0 6 0 4 0-121 1 1 0 4 0 4 0 2 0 4 0 2 0 3 0 4 0 2 0 1 0 4 0 3 0 7 0 1 0 1 0 2 0 3 0 1 0 8 0 4 0 2 0 2 0 1 0 1 0 1 0 3 0 3 0 1 0 2 0 2 0 2 0 2 0 2 0 1 0 3 0 2 0 2 0 4 0 3 0 1 0 21 0-123 1 2 0 1 0 1 0 2 0 4 0 2 0 1 0 1 0 4 0 3 0 1 0 1 0 1 0 2 0 2 0 1 0 1 0 2 0 1 0 1 0 4 0 2 0 1 0 1 0 1 0 1 0 1 0 1 0 1 0 1 0 2 0 1 0 1 0 2 0 2 0 2 0 1 0 3 0 2 0 1 0 1 0 1 0 1 0 2 0 1 0 2 0 1 0 1 0 1 0 2 0 1 0 1 0 2 0 2 0 1 0 1 0 4 0 1 0 1 0 2 0 2 0 1 0 1 0 1 0 1 0 2 0 3 0 3 0 2 0 1 0 5 0 12 0 7 0-129 1 2 0 1 0 1 0 6 0 2 0 2 0 1 0 1 0 1 0 1 0 2 0 4 0 2 0 1 0 2 0 5 0 4 0 3 0 1 0 4 0 1 0 2 0 2 0 1 0 8 0 6 0 2 0 2 0 3 0 1 0 1 0 1 0 1 0 1 0 2 0 3 0 1 0 3 0 4 0 1 0 2 0 6 0 5 0 7 0-118 1 1 0 1 0 4 0 1 0 1 0 1 0 1 0 1 0 1 0 1 0 1 0 1 0 1 0 2 0 2 0 2 0 8 0 2 0 1 0 1 0 1 0 1 0 2 0 2 0 1 0 1 0 2 0 1 0 1 0 2 0 1 0 1 0 2 0 2 0 1 0 5 0 1 0 1 0 2 0 1 0 1 0 2 0 1 0 1 0 1 0 1 0 1 0 1 0 1 0 1 0 2 0 1 0 1 0 2 0 1 0 1 0 8 0 2 0 2 0 1 0 1 0 1 0 1 0 1 0 2 0 1 0 1 0 3 0 2 0 2 0 2 0 2 0 2 0 13 0-128 1 5 0 4 0 2 0 1 0 1 0 4 0 4 0 2 0 2 0 2 0 1 0 1 0 2 0 1 0 3 0 2 0 1 0 1 0 1 0 1 0 1 0 5 0 12 0 3 0 1 0 1 0 1 0 3 0 5 0 1 0 4 0 3 0 2 0 2 0 5 0 2 0 3 0 10 0 6 0-114 1 1 0 5 0 3 0 1 0 1 0 1 0 1 0 1 0 4 0 2 0 2 0 1 0 1 0 2 0 2 0 1 0 1 0 2 0 1 0 1 0 2 0 1 0 1 0 2 0 2 0 2 0 1 0 2 0 1 0 2 0 2 0 1 0 1 0 1 0 1 0 2 0 1 0 1 0 1 0 1 0 2 0 1 0 1 0 1 0 1 0 2 0 1 0 1 0 1 0 1 0 1 0 1 0 1 0 5 0 2 0 2 0 4 0 2 0 3 0 1 0 1 0 1 0 1 0 1 0 4 0 4 0 4 0 2 0-113 1 1 0 2 0 6 0 2 0 2 0 4 0 2 0 1 0 1 0 6 0 2 0 1 0 1 0 10 0 1 0 2 0 1 0 4 0 2 0 4 0 5 0 1 0 2 0 2 0 2 0 4 0 3 0 1 0 10 0 2 0 4 0 1 0 1 0 2 0 4 0 18 0-118 1 1 0 1 0 2 0 3 0 1 0 1 0 1 0 2 0 1 0 1 0 1 0 1 0 1 0 1 0 2 0 2 0 1 0 1 0 2 0 1 0 1 0 1 0 1 0 2 0 2 0 1 0 2 0 1 0 1 0 1 0 2 0 2 0 1 0 1 0 1 0 1 0 1 0 1 0 2 0 1 0 1 0 1 0 1 0 1 0 1 0 1 0 1 0 2 0 3 0 1 0 2 0 1 0 1 0 2 0 2 0 2 0 1 0 1 0 1 0 1 0 2 0 2 0 2 0 2 0 4 0 1 0 3 0 1 0 3 0 2 0 2 0 2 0 10 0 8 0-124 1 2 0 5 0 3 0 8 0 1 0 1 0 2 0 2 0 5 0 7 0 6 0 5 0 1 0 2 0 1 0 3 0 1 0 2 0 1 0 2 0 7 0 4 0 4 0 1 0 2 0 2 0 2 0 4 0 2 0 8 0 2 0 32 0-130 1 3 0 2 0 1 0 1 0 3 0 1 0 3 0 4 0 1 0 1 0 1 0 1 0 1 0 1 0 2 0 3 0 1 0 1 0 1 0 2 0 2 0 1 0 3 0 2 0 1 0 1 0 2 0 1 0 1 0 2 0 2 0 1 0 1 0 4 0 1 0 1 0 2 0 4 0 2 0 2 0 3 0 1 0 1 0 1 0 1 0 1 0 2 0 1 0 1 0 2 0 2 0 1 0 1 0 4 0 2 0 2 0 1 0 1 0 2 0 1 0 5 0 1 0 1 0 10 0-118 1 6 0 6 0 4 0 3 0 3 0 4 0 2 0 2 0 2 0 5 0 1 0 8 0 3 0 1 0 1 0 5 0 2 0 4 0 1 0 13 0 4 0 1 0 1 0 3 0 3 0 1 0 4 0 2 0 25 0-120 1 1 0 1 0 1 0 1 0 1 0 1 0 2 0 1 0 1 0 2 0 1 0 1 0 1 0 1 0 2 0 1 0 1 0 2 0 2 0 4 0 1 0 1 0 1 0 1 0 1 0 1 0 2 0 1 0 1 0 2 0 1 0 3 0 4 0 1 0 2 0 1 0 1 0 1 0 2 0 1 0 1 0 2 0 1 0 1 0 1 0 1 0 5 0 1 0 2 0 2 0 2 0 2 0 2 0 1 0 1 0 1 0 1 0 2 0 2 0 4 0 1 0 1 0 8 0 3 0 3 0 14 0-118 1 2 0 2 0 4 0 2 0 2 0 4 0 2 0 3 0 1 0 4 0 1 0 1 0 2 0 3 0 7 0 2 0 2 0 4 0 4 0 1 0 6 0 3 0 2 0 11 0 1 0 4 0 3 0 3 0 8 0 12 0-110 1 1 0 1 0 4 0 2 0 1 0 1 0 1 0 1 0 1 0 1 0 1 0 1 0 2 0 4 0 1 0 2 0 1 0 1 0 1 0 1 0 1 0 1 0 1 0 2 0 1 0 1 0 1 0 1 0 2 0 1 0 1 0 1 0 2 0 1 0 2 0 4 0 6 0 2 0 2 0 2 0 4 0 4 0 1 0 7 0 1 0 1 0 8 0 1 0 1 0 2 0 4 0 4 0 1 0 1 0-104 1 2 0 4 0 6 0 6 0 5 0 3 0 8 0 6 0 9 0 6 0 3 0 6 0 6 0 6 0 2 0 4 0 1 0 4 0 3 0 4 0 2 0 32 0-128 1 1 0 1 0 2 0 1 0 1 0 1 0 1 0 1 0 3 0 2 0 1 0 1 0 2 0 2 0 1 0 1 0 2 0 1 0 1 0 3 0 1 0 2 0 1 0 1 0 1 0 3 0 2 0 1 0 1 0 2 0 2 0 2 0 6 0 1 0 1 0 2 0 2 0 2 0 2 0 3 0 1 0 3 0 3 0 1 0 1 0 2 0 2 0 3 0 1 0 4 0 1 0 9 0 9 0-107 1 4 0 6 0 6 0 4 0 2 0 8 0 5 0 3 0 21 0 1 0 6 0 2 0 4 0 4 0 2 0 8 0 16 0-102 1 1 0 1 0 2 0 1 0 1 0 1 0 1 0 1 0 1 0 1 0 1 0 1 0 1 0 2 0 2 0 1 0 1 0 2 0 1 0 1 0 1 0 1 0 2 0 2 0 2 0 1 0 1 0 1 0 1 0 1 0 1 0 1 0 1 0 1 0 1 0 1 0 3 0 2 0 1 0 1 0 2 0 2 0 2 0 2 0 2 0 2 0 1 0 1 0 1 0 1 0 2 0 2 0 1 0 1 0 2 0 1 0 1 0 2 0 2 0 1 0 3 0 6 0 1 0 3 0 2 0 6 0 5 0 11 0 6 0-124 1 1 0 1 0 1 0 1 0 2 0 2 0 2 0 2 0 2 0 2 0 1 0 1 0 2 0 2 0 1 0 1 0 2 0 1 0 1 0 1 0 1 0 1 0 1 0 1 0 3 0 1 0 1 0 2 0 1 0 1 0 4 0 1 0 1 0 1 0 1 0 2 0 2 0 2 0 2 0 1 0 1 0 4 0 1 0 6 0 3 0 2 0 2 0 1 0 1 0 2 0 3 0 7 0 1 0 1 0 10 0 1 0 3 0" class="sc"/>
<rect x="1099.50" y="726.70" width="199.90" height="199.10" fill="none" stroke="#222" stroke-width="1.6"/>
<line x1="1168.40" y1="726.70" x2="1168.40" y2="925.80" stroke="#111" stroke-width="1.8" stroke-linecap="butt"/>
<line x1="1099.50" y1="857.60" x2="1299.40" y2="857.60" stroke="#111" stroke-width="1.8" stroke-linecap="butt"/>
<path d="M1094.00 925.80H1099.50M1099.50 925.80V931.30M1096.50 910.82H1099.50M1114.54 925.80V928.80M1096.50 902.05H1099.50M1123.34 925.80V928.80M1096.50 895.83H1099.50M1129.59 925.80V928.80M1096.50 891.01H1099.50M1134.43 925.80V928.80M1096.50 887.07H1099.50M1138.39 925.80V928.80M1096.50 883.74H1099.50M1141.73 925.80V928.80M1096.50 880.85H1099.50M1144.63 925.80V928.80M1096.50 878.30H1099.50M1147.19 925.80V928.80M1094.00 876.02H1099.50M1149.47 925.80V931.30M1096.50 861.04H1099.50M1164.52 925.80V928.80M1096.50 852.28H1099.50M1173.32 925.80V928.80M1096.50 846.06H1099.50M1179.56 925.80V928.80M1096.50 841.23H1099.50M1184.41 925.80V928.80M1096.50 837.29H1099.50M1188.36 925.80V928.80M1096.50 833.96H1099.50M1191.71 925.80V928.80M1096.50 831.07H1099.50M1194.61 925.80V928.80M1096.50 828.53H1099.50M1197.16 925.80V928.80M1094.00 826.25H1099.50M1199.45 925.80V931.30M1096.50 811.27H1099.50M1214.49 925.80V928.80M1096.50 802.50H1099.50M1223.29 925.80V928.80M1096.50 796.28H1099.50M1229.54 925.80V928.80M1096.50 791.46H1099.50M1234.38 925.80V928.80M1096.50 787.52H1099.50M1238.34 925.80V928.80M1096.50 784.19H1099.50M1241.68 925.80V928.80M1096.50 781.30H1099.50M1244.58 925.80V928.80M1096.50 778.75H1099.50M1247.14 925.80V928.80M1094.00 776.48H1099.50M1249.43 925.80V931.30M1096.50 761.49H1099.50M1264.47 925.80V928.80M1096.50 752.73H1099.50M1273.27 925.80V928.80M1096.50 746.51H1099.50M1279.51 925.80V928.80M1096.50 741.68H1099.50M1284.36 925.80V928.80M1096.50 737.74H1099.50M1288.31 925.80V928.80M1096.50 734.41H1099.50M1291.66 925.80V928.80M1096.50 731.52H1099.50M1294.56 925.80V928.80M1096.50 728.98H1099.50M1297.11 925.80V928.80M1094.00 726.70H1099.50M1299.40 925.80V931.30" stroke="#333" stroke-width="1.2" fill="none"/>
<text x="1079.50" y="925.80" style="font-size:8px;fill:#444">10<tspan dy="-3" style="font-size:6px">0</tspan></text>
<text x="1103.50" y="944.00" style="font-size:8px;fill:#444">10<tspan dy="-3" style="font-size:6px">0</tspan></text>
<text x="1079.50" y="879.02" style="font-size:8px;fill:#444">10<tspan dy="-3" style="font-size:6px">1</tspan></text>
<text x="1150.47" y="944.00" style="font-size:8px;fill:#444">10<tspan dy="-3" style="font-size:6px">1</tspan></text>
<text x="1079.50" y="829.25" style="font-size:8px;fill:#444">10<tspan dy="-3" style="font-size:6px">2</tspan></text>
<text x="1200.45" y="944.00" style="font-size:8px;fill:#444">10<tspan dy="-3" style="font-size:6px">2</tspan></text>
<text x="1079.50" y="779.48" style="font-size:8px;fill:#444">10<tspan dy="-3" style="font-size:6px">3</tspan></text>
<text x="1250.43" y="944.00" style="font-size:8px;fill:#444">10<tspan dy="-3" style="font-size:6px">3</tspan></text>
<text x="1079.50" y="734.70" style="font-size:8px;fill:#444">10<tspan dy="-3" style="font-size:6px">4</tspan></text>
<text x="1290.40" y="944.00" style="font-size:8px;fill:#444">10<tspan dy="-3" style="font-size:6px">4</tspan></text>
<text x="1259.15" y="760.99" style="font-size:31.5px">19</text>
</svg></body></html>
